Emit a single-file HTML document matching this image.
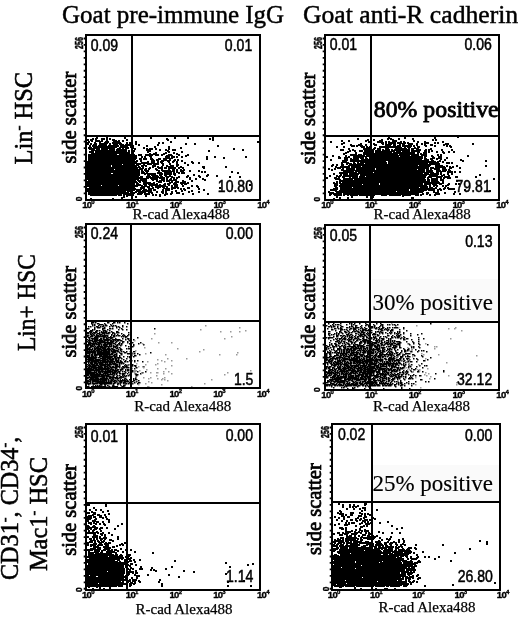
<!DOCTYPE html>
<html><head><meta charset="utf-8"><style>
html,body{margin:0;padding:0;background:#fff;width:520px;height:619px;overflow:hidden}
body{position:relative;font-family:"Liberation Serif",serif}
</style></head><body>
<svg width="520" height="619" viewBox="0 0 520 619" style="position:absolute;left:0;top:0;filter:blur(0.35px)">
<text transform="translate(62 22.8)" font-size="25" font-family='"Liberation Serif", serif' text-anchor="start" font-weight="normal" stroke="#000" stroke-width="0.45">Goat pre-immune IgG</text>
<text transform="translate(303 22.8) scale(1.027 1.0)" font-size="25" font-family='"Liberation Serif", serif' text-anchor="start" font-weight="normal" stroke="#000" stroke-width="0.45">Goat anti-R cadherin</text>
<text transform="translate(31.5 164.5) rotate(-90) scale(0.98 1.0)" font-size="25" font-family='"Liberation Serif", serif' text-anchor="start" font-weight="normal" stroke="#000" stroke-width="0.55">Lin<tspan font-size="15" dy="-9">-</tspan><tspan dy="9"> HSC</tspan></text>
<text transform="translate(34.5 351.1) rotate(-90) scale(0.936 1.0)" font-size="25" font-family='"Liberation Serif", serif' text-anchor="start" font-weight="normal" stroke="#000" stroke-width="0.55">Lin+ HSC</text>
<text transform="translate(18.3 580) rotate(-90) scale(0.967 1.0)" font-size="25" font-family='"Liberation Serif", serif' text-anchor="start" font-weight="normal" stroke="#000" stroke-width="0.55">CD31<tspan font-size="15" dy="-9">-</tspan><tspan dy="9">, CD34</tspan><tspan font-size="15" dy="-9">-</tspan><tspan dy="9">,</tspan></text>
<text transform="translate(47 571.1) rotate(-90) scale(0.977 1.0)" font-size="25" font-family='"Liberation Serif", serif' text-anchor="start" font-weight="normal" stroke="#000" stroke-width="0.55">Mac1<tspan font-size="15" dy="-9">-</tspan><tspan dy="9"> HSC</tspan></text>
<path transform="translate(1.0 1.0)" d="M96 137h0M106 137h0M124 137h0M150 137h0M174 137h0M187 137h0M212 137h0M92 138h0M95 138h0M101 138h0M103 138h0M109 138h0M166 138h0M209 138h0M87 139h0M90 139h0M101 139h0M106 139h0M112 139h0M113 139h0M126 139h0M167 139h0M212 139h0M91 140h0M95 140h0M97 140h0M98 140h0M101 140h0M115 140h0M118 140h0M122 140h0M88 141h0M99 141h0M105 141h0M107 141h0M113 141h0M114 141h0M116 141h0M131 141h0M135 141h0M170 141h0M257 141h0M87 142h0M94 142h0M99 142h0M104 142h0M105 142h0M106 142h0M112 142h0M114 142h0M117 142h0M119 142h0M126 142h0M129 142h0M158 142h0M162 142h0M87 143h0M90 143h0M95 143h0M99 143h0M101 143h0M103 143h0M104 143h0M109 143h0M116 143h0M119 143h0M120 143h0M135 143h0M185 143h0M194 143h0M93 144h0M95 144h0M101 144h0M102 144h0M104 144h0M105 144h0M109 144h0M113 144h0M114 144h0M115 144h0M116 144h0M120 144h0M122 144h0M125 144h0M126 144h0M127 144h0M129 144h0M138 144h0M157 144h0M89 145h0M92 145h0M95 145h0M98 145h0M100 145h0M102 145h0M104 145h0M105 145h0M108 145h0M109 145h0M110 145h0M112 145h0M113 145h0M117 145h0M124 145h0M125 145h0M126 145h0M132 145h0M146 145h0M217 145h0M93 146h0M94 146h0M96 146h0M98 146h0M99 146h0M100 146h0M107 146h0M108 146h0M112 146h0M113 146h0M114 146h0M115 146h0M120 146h0M121 146h0M123 146h0M124 146h0M125 146h0M130 146h0M131 146h0M132 146h0M154 146h0M168 146h0M88 147h0M90 147h0M95 147h0M97 147h0M102 147h0M103 147h0M104 147h0M106 147h0M108 147h0M109 147h0M110 147h0M111 147h0M112 147h0M113 147h0M119 147h0M122 147h0M127 147h0M132 147h0M143 147h0M180 147h0M89 148h0M91 148h0M92 148h0M93 148h0M96 148h0M98 148h0M101 148h0M103 148h0M104 148h0M106 148h0M109 148h0M110 148h0M112 148h0M113 148h0M117 148h0M118 148h0M122 148h0M125 148h0M134 148h0M146 148h0M149 148h0M151 148h0M155 148h0M168 148h0M233 148h0M91 149h0M93 149h0M98 149h0M104 149h0M110 149h0M112 149h0M113 149h0M116 149h0M118 149h0M119 149h0M120 149h0M124 149h0M125 149h0M146 149h0M147 149h0M159 149h0M165 149h0M172 149h0M174 149h0M242 149h0M91 150h0M95 150h0M96 150h0M100 150h0M102 150h0M103 150h0M104 150h0M105 150h0M107 150h0M108 150h0M109 150h0M110 150h0M111 150h0M113 150h0M116 150h0M120 150h0M122 150h0M123 150h0M125 150h0M128 150h0M133 150h0M149 150h0M167 150h0M208 150h0M89 151h0M92 151h0M95 151h0M96 151h0M97 151h0M98 151h0M99 151h0M100 151h0M103 151h0M104 151h0M106 151h0M107 151h0M112 151h0M115 151h0M117 151h0M118 151h0M123 151h0M125 151h0M147 151h0M168 151h0M181 151h0M91 152h0M92 152h0M96 152h0M98 152h0M100 152h0M101 152h0M103 152h0M104 152h0M106 152h0M107 152h0M109 152h0M110 152h0M112 152h0M113 152h0M114 152h0M115 152h0M116 152h0M117 152h0M118 152h0M119 152h0M120 152h0M121 152h0M122 152h0M123 152h0M125 152h0M126 152h0M127 152h0M128 152h0M132 152h0M155 152h0M165 152h0M173 152h0M91 153h0M94 153h0M95 153h0M97 153h0M101 153h0M102 153h0M106 153h0M107 153h0M108 153h0M109 153h0M110 153h0M111 153h0M112 153h0M113 153h0M114 153h0M115 153h0M119 153h0M121 153h0M122 153h0M123 153h0M124 153h0M127 153h0M131 153h0M149 153h0M153 153h0M163 153h0M176 153h0M88 154h0M89 154h0M90 154h0M91 154h0M92 154h0M93 154h0M94 154h0M95 154h0M96 154h0M97 154h0M98 154h0M99 154h0M100 154h0M102 154h0M103 154h0M104 154h0M105 154h0M106 154h0M108 154h0M109 154h0M111 154h0M112 154h0M119 154h0M120 154h0M121 154h0M123 154h0M125 154h0M128 154h0M130 154h0M133 154h0M138 154h0M140 154h0M145 154h0M147 154h0M148 154h0M151 154h0M155 154h0M157 154h0M161 154h0M168 154h0M170 154h0M178 154h0M187 154h0M88 155h0M95 155h0M96 155h0M97 155h0M98 155h0M99 155h0M100 155h0M101 155h0M103 155h0M105 155h0M106 155h0M107 155h0M108 155h0M109 155h0M110 155h0M111 155h0M112 155h0M113 155h0M114 155h0M116 155h0M117 155h0M118 155h0M121 155h0M122 155h0M123 155h0M124 155h0M125 155h0M126 155h0M129 155h0M131 155h0M133 155h0M135 155h0M149 155h0M166 155h0M168 155h0M171 155h0M185 155h0M89 156h0M90 156h0M92 156h0M94 156h0M96 156h0M97 156h0M98 156h0M99 156h0M100 156h0M101 156h0M103 156h0M104 156h0M105 156h0M106 156h0M107 156h0M108 156h0M109 156h0M110 156h0M113 156h0M114 156h0M115 156h0M116 156h0M117 156h0M118 156h0M119 156h0M121 156h0M123 156h0M125 156h0M127 156h0M128 156h0M133 156h0M135 156h0M141 156h0M144 156h0M150 156h0M165 156h0M168 156h0M173 156h0M176 156h0M181 156h0M206 156h0M214 156h0M245 156h0M88 157h0M89 157h0M91 157h0M92 157h0M93 157h0M94 157h0M95 157h0M96 157h0M97 157h0M98 157h0M99 157h0M100 157h0M101 157h0M102 157h0M103 157h0M104 157h0M105 157h0M106 157h0M107 157h0M108 157h0M111 157h0M112 157h0M113 157h0M114 157h0M115 157h0M117 157h0M118 157h0M119 157h0M120 157h0M121 157h0M122 157h0M123 157h0M124 157h0M125 157h0M126 157h0M129 157h0M133 157h0M135 157h0M165 157h0M167 157h0M168 157h0M171 157h0M223 157h0M90 158h0M91 158h0M92 158h0M94 158h0M96 158h0M97 158h0M98 158h0M100 158h0M101 158h0M102 158h0M103 158h0M104 158h0M105 158h0M106 158h0M107 158h0M108 158h0M109 158h0M110 158h0M112 158h0M114 158h0M115 158h0M117 158h0M119 158h0M120 158h0M122 158h0M123 158h0M124 158h0M126 158h0M128 158h0M130 158h0M131 158h0M132 158h0M134 158h0M139 158h0M140 158h0M143 158h0M145 158h0M150 158h0M151 158h0M158 158h0M159 158h0M163 158h0M164 158h0M169 158h0M206 158h0M88 159h0M89 159h0M91 159h0M96 159h0M97 159h0M98 159h0M99 159h0M100 159h0M101 159h0M102 159h0M103 159h0M104 159h0M105 159h0M106 159h0M107 159h0M108 159h0M110 159h0M111 159h0M112 159h0M113 159h0M114 159h0M115 159h0M116 159h0M117 159h0M118 159h0M120 159h0M122 159h0M123 159h0M124 159h0M126 159h0M127 159h0M130 159h0M132 159h0M140 159h0M152 159h0M156 159h0M163 159h0M164 159h0M165 159h0M169 159h0M174 159h0M177 159h0M88 160h0M89 160h0M90 160h0M91 160h0M92 160h0M93 160h0M94 160h0M95 160h0M96 160h0M98 160h0M99 160h0M101 160h0M102 160h0M103 160h0M104 160h0M105 160h0M106 160h0M107 160h0M108 160h0M109 160h0M110 160h0M112 160h0M113 160h0M115 160h0M116 160h0M119 160h0M120 160h0M121 160h0M123 160h0M124 160h0M125 160h0M128 160h0M130 160h0M133 160h0M136 160h0M140 160h0M151 160h0M153 160h0M157 160h0M161 160h0M162 160h0M167 160h0M173 160h0M181 160h0M87 161h0M91 161h0M92 161h0M94 161h0M96 161h0M97 161h0M98 161h0M101 161h0M102 161h0M103 161h0M105 161h0M106 161h0M107 161h0M109 161h0M110 161h0M111 161h0M112 161h0M115 161h0M116 161h0M117 161h0M118 161h0M120 161h0M122 161h0M123 161h0M124 161h0M125 161h0M126 161h0M127 161h0M128 161h0M129 161h0M130 161h0M134 161h0M135 161h0M147 161h0M157 161h0M160 161h0M168 161h0M172 161h0M176 161h0M191 161h0M87 162h0M88 162h0M89 162h0M90 162h0M91 162h0M93 162h0M94 162h0M96 162h0M97 162h0M99 162h0M100 162h0M101 162h0M103 162h0M108 162h0M109 162h0M110 162h0M112 162h0M114 162h0M117 162h0M118 162h0M119 162h0M121 162h0M123 162h0M124 162h0M125 162h0M126 162h0M127 162h0M129 162h0M130 162h0M133 162h0M135 162h0M141 162h0M142 162h0M143 162h0M145 162h0M147 162h0M151 162h0M153 162h0M161 162h0M184 162h0M192 162h0M198 162h0M87 163h0M88 163h0M89 163h0M90 163h0M91 163h0M92 163h0M93 163h0M94 163h0M96 163h0M99 163h0M101 163h0M102 163h0M103 163h0M104 163h0M106 163h0M107 163h0M108 163h0M109 163h0M110 163h0M111 163h0M113 163h0M114 163h0M115 163h0M118 163h0M119 163h0M120 163h0M124 163h0M125 163h0M127 163h0M129 163h0M131 163h0M136 163h0M137 163h0M139 163h0M147 163h0M149 163h0M150 163h0M154 163h0M156 163h0M157 163h0M162 163h0M169 163h0M176 163h0M88 164h0M89 164h0M91 164h0M96 164h0M97 164h0M98 164h0M99 164h0M101 164h0M102 164h0M103 164h0M104 164h0M105 164h0M107 164h0M108 164h0M109 164h0M112 164h0M114 164h0M115 164h0M116 164h0M117 164h0M118 164h0M119 164h0M120 164h0M123 164h0M125 164h0M126 164h0M129 164h0M130 164h0M131 164h0M132 164h0M133 164h0M137 164h0M143 164h0M153 164h0M154 164h0M162 164h0M177 164h0M187 164h0M87 165h0M90 165h0M91 165h0M92 165h0M93 165h0M94 165h0M95 165h0M96 165h0M97 165h0M98 165h0M100 165h0M101 165h0M102 165h0M104 165h0M105 165h0M106 165h0M107 165h0M108 165h0M109 165h0M113 165h0M115 165h0M117 165h0M118 165h0M119 165h0M120 165h0M121 165h0M123 165h0M126 165h0M127 165h0M128 165h0M129 165h0M132 165h0M134 165h0M135 165h0M141 165h0M142 165h0M145 165h0M152 165h0M154 165h0M166 165h0M170 165h0M172 165h0M176 165h0M87 166h0M88 166h0M89 166h0M91 166h0M93 166h0M95 166h0M96 166h0M97 166h0M98 166h0M99 166h0M100 166h0M101 166h0M103 166h0M105 166h0M106 166h0M107 166h0M108 166h0M109 166h0M112 166h0M114 166h0M115 166h0M116 166h0M117 166h0M119 166h0M120 166h0M121 166h0M122 166h0M123 166h0M124 166h0M127 166h0M128 166h0M129 166h0M130 166h0M131 166h0M132 166h0M133 166h0M134 166h0M138 166h0M152 166h0M157 166h0M161 166h0M168 166h0M180 166h0M202 166h0M203 166h0M225 166h0M87 167h0M89 167h0M91 167h0M92 167h0M94 167h0M95 167h0M96 167h0M98 167h0M99 167h0M100 167h0M101 167h0M102 167h0M103 167h0M104 167h0M105 167h0M106 167h0M107 167h0M108 167h0M109 167h0M110 167h0M111 167h0M113 167h0M114 167h0M115 167h0M117 167h0M119 167h0M120 167h0M121 167h0M122 167h0M125 167h0M126 167h0M127 167h0M128 167h0M129 167h0M130 167h0M131 167h0M132 167h0M133 167h0M134 167h0M135 167h0M136 167h0M139 167h0M142 167h0M149 167h0M158 167h0M159 167h0M164 167h0M165 167h0M170 167h0M171 167h0M173 167h0M174 167h0M178 167h0M182 167h0M203 167h0M88 168h0M90 168h0M91 168h0M92 168h0M94 168h0M95 168h0M96 168h0M97 168h0M98 168h0M99 168h0M102 168h0M104 168h0M105 168h0M106 168h0M107 168h0M108 168h0M110 168h0M111 168h0M112 168h0M115 168h0M116 168h0M118 168h0M119 168h0M120 168h0M121 168h0M122 168h0M123 168h0M124 168h0M126 168h0M127 168h0M128 168h0M129 168h0M130 168h0M131 168h0M133 168h0M136 168h0M139 168h0M141 168h0M145 168h0M148 168h0M155 168h0M161 168h0M168 168h0M172 168h0M87 169h0M88 169h0M89 169h0M90 169h0M91 169h0M93 169h0M94 169h0M95 169h0M96 169h0M98 169h0M99 169h0M100 169h0M101 169h0M104 169h0M105 169h0M106 169h0M107 169h0M109 169h0M110 169h0M111 169h0M115 169h0M116 169h0M117 169h0M118 169h0M121 169h0M124 169h0M125 169h0M126 169h0M127 169h0M128 169h0M130 169h0M132 169h0M135 169h0M138 169h0M144 169h0M156 169h0M161 169h0M173 169h0M176 169h0M180 169h0M183 169h0M87 170h0M88 170h0M90 170h0M91 170h0M92 170h0M93 170h0M94 170h0M95 170h0M97 170h0M99 170h0M100 170h0M103 170h0M104 170h0M105 170h0M107 170h0M108 170h0M109 170h0M110 170h0M111 170h0M112 170h0M113 170h0M114 170h0M115 170h0M117 170h0M119 170h0M120 170h0M121 170h0M123 170h0M124 170h0M125 170h0M126 170h0M127 170h0M129 170h0M133 170h0M135 170h0M136 170h0M137 170h0M141 170h0M145 170h0M147 170h0M158 170h0M162 170h0M163 170h0M164 170h0M165 170h0M166 170h0M168 170h0M169 170h0M172 170h0M180 170h0M182 170h0M189 170h0M198 170h0M87 171h0M88 171h0M89 171h0M90 171h0M91 171h0M95 171h0M97 171h0M98 171h0M99 171h0M101 171h0M105 171h0M108 171h0M110 171h0M111 171h0M112 171h0M114 171h0M115 171h0M119 171h0M120 171h0M121 171h0M122 171h0M123 171h0M125 171h0M126 171h0M127 171h0M128 171h0M129 171h0M130 171h0M131 171h0M132 171h0M134 171h0M138 171h0M142 171h0M158 171h0M170 171h0M173 171h0M176 171h0M181 171h0M182 171h0M201 171h0M204 171h0M231 171h0M87 172h0M88 172h0M89 172h0M91 172h0M92 172h0M93 172h0M95 172h0M96 172h0M97 172h0M98 172h0M99 172h0M100 172h0M101 172h0M102 172h0M104 172h0M105 172h0M106 172h0M108 172h0M109 172h0M114 172h0M115 172h0M116 172h0M117 172h0M119 172h0M120 172h0M121 172h0M122 172h0M123 172h0M126 172h0M127 172h0M128 172h0M129 172h0M131 172h0M134 172h0M135 172h0M137 172h0M138 172h0M141 172h0M143 172h0M146 172h0M157 172h0M158 172h0M160 172h0M164 172h0M166 172h0M167 172h0M169 172h0M178 172h0M181 172h0M182 172h0M183 172h0M237 172h0M87 173h0M88 173h0M90 173h0M91 173h0M92 173h0M93 173h0M94 173h0M95 173h0M98 173h0M100 173h0M101 173h0M102 173h0M104 173h0M105 173h0M106 173h0M108 173h0M109 173h0M113 173h0M115 173h0M116 173h0M117 173h0M118 173h0M120 173h0M121 173h0M123 173h0M124 173h0M125 173h0M126 173h0M129 173h0M131 173h0M132 173h0M133 173h0M134 173h0M137 173h0M138 173h0M144 173h0M147 173h0M148 173h0M149 173h0M151 173h0M153 173h0M154 173h0M161 173h0M166 173h0M167 173h0M168 173h0M170 173h0M173 173h0M174 173h0M88 174h0M90 174h0M91 174h0M92 174h0M93 174h0M94 174h0M95 174h0M96 174h0M97 174h0M98 174h0M99 174h0M102 174h0M104 174h0M105 174h0M107 174h0M108 174h0M109 174h0M110 174h0M111 174h0M112 174h0M113 174h0M114 174h0M115 174h0M116 174h0M117 174h0M118 174h0M119 174h0M121 174h0M122 174h0M123 174h0M124 174h0M125 174h0M126 174h0M127 174h0M128 174h0M132 174h0M133 174h0M134 174h0M135 174h0M136 174h0M137 174h0M138 174h0M147 174h0M148 174h0M151 174h0M154 174h0M159 174h0M160 174h0M164 174h0M165 174h0M174 174h0M193 174h0M207 174h0M87 175h0M88 175h0M90 175h0M91 175h0M92 175h0M93 175h0M97 175h0M98 175h0M99 175h0M101 175h0M102 175h0M103 175h0M104 175h0M105 175h0M108 175h0M109 175h0M110 175h0M111 175h0M112 175h0M114 175h0M115 175h0M118 175h0M119 175h0M121 175h0M122 175h0M123 175h0M125 175h0M126 175h0M127 175h0M128 175h0M129 175h0M130 175h0M131 175h0M132 175h0M133 175h0M135 175h0M137 175h0M147 175h0M152 175h0M154 175h0M156 175h0M160 175h0M165 175h0M169 175h0M187 175h0M198 175h0M206 175h0M216 175h0M87 176h0M88 176h0M89 176h0M90 176h0M91 176h0M93 176h0M94 176h0M95 176h0M97 176h0M99 176h0M100 176h0M104 176h0M105 176h0M106 176h0M107 176h0M110 176h0M111 176h0M113 176h0M114 176h0M115 176h0M117 176h0M118 176h0M119 176h0M120 176h0M121 176h0M124 176h0M125 176h0M126 176h0M127 176h0M128 176h0M129 176h0M130 176h0M132 176h0M134 176h0M136 176h0M137 176h0M140 176h0M141 176h0M146 176h0M149 176h0M155 176h0M157 176h0M161 176h0M166 176h0M167 176h0M171 176h0M178 176h0M186 176h0M199 176h0M229 176h0M239 176h0M87 177h0M88 177h0M90 177h0M91 177h0M92 177h0M94 177h0M96 177h0M97 177h0M98 177h0M99 177h0M100 177h0M102 177h0M104 177h0M105 177h0M107 177h0M108 177h0M109 177h0M111 177h0M112 177h0M113 177h0M116 177h0M118 177h0M120 177h0M122 177h0M123 177h0M124 177h0M125 177h0M126 177h0M127 177h0M128 177h0M129 177h0M130 177h0M131 177h0M132 177h0M133 177h0M137 177h0M138 177h0M139 177h0M140 177h0M147 177h0M150 177h0M152 177h0M153 177h0M159 177h0M163 177h0M166 177h0M173 177h0M176 177h0M189 177h0M87 178h0M89 178h0M91 178h0M92 178h0M93 178h0M94 178h0M95 178h0M96 178h0M97 178h0M99 178h0M100 178h0M101 178h0M102 178h0M103 178h0M104 178h0M106 178h0M107 178h0M108 178h0M110 178h0M111 178h0M112 178h0M113 178h0M114 178h0M115 178h0M116 178h0M117 178h0M119 178h0M120 178h0M121 178h0M122 178h0M126 178h0M127 178h0M128 178h0M129 178h0M130 178h0M131 178h0M132 178h0M133 178h0M134 178h0M135 178h0M140 178h0M142 178h0M144 178h0M145 178h0M151 178h0M153 178h0M154 178h0M156 178h0M161 178h0M162 178h0M170 178h0M189 178h0M195 178h0M202 178h0M88 179h0M89 179h0M90 179h0M92 179h0M94 179h0M96 179h0M97 179h0M98 179h0M99 179h0M100 179h0M102 179h0M103 179h0M105 179h0M106 179h0M107 179h0M109 179h0M110 179h0M111 179h0M113 179h0M114 179h0M116 179h0M117 179h0M118 179h0M119 179h0M120 179h0M121 179h0M122 179h0M123 179h0M124 179h0M125 179h0M126 179h0M127 179h0M128 179h0M134 179h0M137 179h0M140 179h0M145 179h0M152 179h0M162 179h0M163 179h0M166 179h0M169 179h0M173 179h0M175 179h0M204 179h0M88 180h0M89 180h0M91 180h0M92 180h0M93 180h0M94 180h0M97 180h0M100 180h0M101 180h0M102 180h0M104 180h0M107 180h0M109 180h0M111 180h0M112 180h0M113 180h0M114 180h0M115 180h0M116 180h0M117 180h0M118 180h0M119 180h0M120 180h0M121 180h0M122 180h0M123 180h0M124 180h0M126 180h0M128 180h0M129 180h0M130 180h0M131 180h0M132 180h0M134 180h0M138 180h0M142 180h0M144 180h0M145 180h0M156 180h0M159 180h0M160 180h0M163 180h0M166 180h0M167 180h0M168 180h0M171 180h0M175 180h0M182 180h0M191 180h0M87 181h0M88 181h0M89 181h0M90 181h0M91 181h0M93 181h0M94 181h0M96 181h0M97 181h0M98 181h0M100 181h0M101 181h0M102 181h0M103 181h0M105 181h0M106 181h0M109 181h0M110 181h0M111 181h0M113 181h0M114 181h0M116 181h0M117 181h0M118 181h0M119 181h0M120 181h0M121 181h0M122 181h0M123 181h0M125 181h0M126 181h0M127 181h0M128 181h0M129 181h0M130 181h0M131 181h0M132 181h0M134 181h0M135 181h0M139 181h0M143 181h0M144 181h0M158 181h0M159 181h0M160 181h0M171 181h0M177 181h0M184 181h0M88 182h0M91 182h0M92 182h0M93 182h0M94 182h0M95 182h0M96 182h0M97 182h0M98 182h0M99 182h0M100 182h0M101 182h0M104 182h0M105 182h0M106 182h0M107 182h0M108 182h0M109 182h0M112 182h0M114 182h0M116 182h0M119 182h0M120 182h0M121 182h0M122 182h0M123 182h0M124 182h0M125 182h0M126 182h0M127 182h0M128 182h0M133 182h0M136 182h0M145 182h0M147 182h0M149 182h0M153 182h0M169 182h0M174 182h0M175 182h0M180 182h0M182 182h0M187 182h0M87 183h0M88 183h0M89 183h0M90 183h0M91 183h0M94 183h0M95 183h0M97 183h0M98 183h0M99 183h0M100 183h0M101 183h0M102 183h0M103 183h0M105 183h0M106 183h0M107 183h0M108 183h0M109 183h0M111 183h0M113 183h0M114 183h0M115 183h0M117 183h0M118 183h0M119 183h0M120 183h0M121 183h0M123 183h0M124 183h0M128 183h0M129 183h0M130 183h0M131 183h0M136 183h0M137 183h0M143 183h0M148 183h0M151 183h0M156 183h0M164 183h0M167 183h0M173 183h0M174 183h0M181 183h0M184 183h0M185 183h0M88 184h0M90 184h0M91 184h0M92 184h0M97 184h0M99 184h0M102 184h0M104 184h0M105 184h0M106 184h0M108 184h0M110 184h0M113 184h0M114 184h0M115 184h0M116 184h0M119 184h0M121 184h0M122 184h0M123 184h0M124 184h0M125 184h0M126 184h0M127 184h0M129 184h0M130 184h0M131 184h0M132 184h0M133 184h0M138 184h0M139 184h0M144 184h0M145 184h0M149 184h0M152 184h0M154 184h0M155 184h0M156 184h0M159 184h0M163 184h0M168 184h0M174 184h0M176 184h0M249 184h0M87 185h0M88 185h0M89 185h0M90 185h0M91 185h0M92 185h0M93 185h0M94 185h0M95 185h0M99 185h0M103 185h0M104 185h0M108 185h0M109 185h0M111 185h0M112 185h0M113 185h0M114 185h0M116 185h0M120 185h0M122 185h0M124 185h0M125 185h0M126 185h0M127 185h0M128 185h0M130 185h0M131 185h0M132 185h0M135 185h0M136 185h0M141 185h0M144 185h0M145 185h0M151 185h0M156 185h0M158 185h0M159 185h0M161 185h0M162 185h0M164 185h0M171 185h0M174 185h0M182 185h0M191 185h0M196 185h0M90 186h0M92 186h0M93 186h0M94 186h0M95 186h0M96 186h0M97 186h0M98 186h0M101 186h0M103 186h0M104 186h0M105 186h0M106 186h0M108 186h0M110 186h0M111 186h0M112 186h0M113 186h0M115 186h0M116 186h0M117 186h0M119 186h0M121 186h0M122 186h0M124 186h0M128 186h0M130 186h0M131 186h0M133 186h0M143 186h0M147 186h0M148 186h0M155 186h0M157 186h0M159 186h0M162 186h0M163 186h0M166 186h0M171 186h0M176 186h0M197 186h0M89 187h0M90 187h0M91 187h0M92 187h0M93 187h0M94 187h0M95 187h0M96 187h0M97 187h0M98 187h0M99 187h0M100 187h0M101 187h0M102 187h0M103 187h0M104 187h0M105 187h0M106 187h0M107 187h0M108 187h0M110 187h0M111 187h0M112 187h0M113 187h0M114 187h0M115 187h0M116 187h0M117 187h0M119 187h0M120 187h0M121 187h0M122 187h0M123 187h0M124 187h0M125 187h0M126 187h0M127 187h0M128 187h0M129 187h0M130 187h0M131 187h0M132 187h0M133 187h0M140 187h0M141 187h0M152 187h0M157 187h0M163 187h0M166 187h0M173 187h0M174 187h0M177 187h0M187 187h0M188 187h0M219 187h0M87 188h0M88 188h0M91 188h0M92 188h0M93 188h0M96 188h0M99 188h0M101 188h0M102 188h0M103 188h0M105 188h0M106 188h0M107 188h0M108 188h0M109 188h0M110 188h0M111 188h0M112 188h0M113 188h0M114 188h0M117 188h0M118 188h0M119 188h0M120 188h0M121 188h0M124 188h0M125 188h0M127 188h0M129 188h0M131 188h0M134 188h0M140 188h0M143 188h0M148 188h0M150 188h0M165 188h0M167 188h0M168 188h0M171 188h0M180 188h0M183 188h0M198 188h0M88 189h0M89 189h0M90 189h0M92 189h0M93 189h0M94 189h0M95 189h0M96 189h0M97 189h0M98 189h0M99 189h0M100 189h0M101 189h0M102 189h0M103 189h0M106 189h0M107 189h0M108 189h0M109 189h0M110 189h0M111 189h0M112 189h0M114 189h0M115 189h0M116 189h0M117 189h0M118 189h0M119 189h0M120 189h0M121 189h0M122 189h0M123 189h0M124 189h0M126 189h0M128 189h0M130 189h0M132 189h0M133 189h0M136 189h0M138 189h0M139 189h0M145 189h0M153 189h0M154 189h0M162 189h0M166 189h0M168 189h0M184 189h0M203 189h0M87 190h0M88 190h0M89 190h0M91 190h0M92 190h0M94 190h0M95 190h0M96 190h0M97 190h0M98 190h0M99 190h0M100 190h0M101 190h0M102 190h0M105 190h0M107 190h0M108 190h0M109 190h0M110 190h0M111 190h0M112 190h0M114 190h0M115 190h0M116 190h0M118 190h0M120 190h0M121 190h0M122 190h0M123 190h0M127 190h0M128 190h0M129 190h0M130 190h0M137 190h0M142 190h0M144 190h0M146 190h0M148 190h0M150 190h0M162 190h0M165 190h0M175 190h0M181 190h0M191 190h0M88 191h0M89 191h0M90 191h0M91 191h0M94 191h0M95 191h0M96 191h0M97 191h0M98 191h0M99 191h0M100 191h0M101 191h0M102 191h0M103 191h0M105 191h0M108 191h0M110 191h0M111 191h0M112 191h0M114 191h0M118 191h0M120 191h0M121 191h0M122 191h0M123 191h0M124 191h0M127 191h0M130 191h0M131 191h0M135 191h0M138 191h0M140 191h0M143 191h0M149 191h0M156 191h0M161 191h0M162 191h0M171 191h0M188 191h0M198 191h0M88 192h0M89 192h0M91 192h0M93 192h0M94 192h0M95 192h0M96 192h0M97 192h0M98 192h0M99 192h0M100 192h0M103 192h0M104 192h0M105 192h0M106 192h0M107 192h0M108 192h0M109 192h0M111 192h0M113 192h0M115 192h0M116 192h0M117 192h0M118 192h0M119 192h0M121 192h0M122 192h0M123 192h0M124 192h0M125 192h0M130 192h0M131 192h0M133 192h0M139 192h0M141 192h0M144 192h0M148 192h0M151 192h0M162 192h0M165 192h0M171 192h0M176 192h0M177 192h0M178 192h0M88 193h0M89 193h0M90 193h0M91 193h0M92 193h0M94 193h0M95 193h0M96 193h0M97 193h0M98 193h0M99 193h0M100 193h0M101 193h0M102 193h0M104 193h0M105 193h0M106 193h0M107 193h0M108 193h0M109 193h0M110 193h0M111 193h0M112 193h0M114 193h0M115 193h0M116 193h0M117 193h0M118 193h0M120 193h0M124 193h0M125 193h0M127 193h0M128 193h0M129 193h0M131 193h0M137 193h0M138 193h0M140 193h0M144 193h0M146 193h0M148 193h0M166 193h0M170 193h0M182 193h0M192 193h0M207 193h0M90 194h0M91 194h0M93 194h0M94 194h0M95 194h0M96 194h0M97 194h0M99 194h0M100 194h0M101 194h0M102 194h0M103 194h0M104 194h0M105 194h0M106 194h0M107 194h0M108 194h0M109 194h0M110 194h0M112 194h0M113 194h0M114 194h0M115 194h0M118 194h0M120 194h0M123 194h0M128 194h0M129 194h0M132 194h0M152 194h0M155 194h0M159 194h0M164 194h0M126 195h0M145 195h0M159 195h0M123 196h0M135 196h0M121 197h0M90 198h0M112 198h0" stroke="#000" stroke-width="2" stroke-linecap="square"/>
<path transform="translate(1.0 1.0)" d="M457 136h0M388 137h0M404 137h0M434 137h0M357 138h0M387 138h0M390 138h0M398 138h0M412 138h0M367 139h0M373 139h0M381 139h0M392 139h0M432 139h0M435 139h0M341 140h0M348 140h0M365 140h0M379 140h0M380 140h0M392 140h0M394 140h0M395 140h0M413 140h0M330 141h0M368 141h0M377 141h0M379 141h0M381 141h0M385 141h0M388 141h0M392 141h0M400 141h0M403 141h0M417 141h0M424 141h0M442 141h0M343 142h0M381 142h0M382 142h0M390 142h0M392 142h0M394 142h0M397 142h0M398 142h0M400 142h0M404 142h0M407 142h0M424 142h0M425 142h0M427 142h0M434 142h0M437 142h0M341 143h0M360 143h0M373 143h0M382 143h0M385 143h0M388 143h0M389 143h0M390 143h0M393 143h0M394 143h0M399 143h0M402 143h0M403 143h0M408 143h0M410 143h0M411 143h0M416 143h0M421 143h0M445 143h0M447 143h0M472 143h0M350 144h0M358 144h0M365 144h0M370 144h0M374 144h0M375 144h0M386 144h0M388 144h0M389 144h0M393 144h0M409 144h0M410 144h0M416 144h0M424 144h0M430 144h0M431 144h0M443 144h0M351 145h0M353 145h0M356 145h0M360 145h0M361 145h0M385 145h0M393 145h0M394 145h0M397 145h0M398 145h0M399 145h0M402 145h0M403 145h0M405 145h0M406 145h0M408 145h0M410 145h0M413 145h0M425 145h0M434 145h0M446 145h0M449 145h0M336 146h0M343 146h0M361 146h0M363 146h0M366 146h0M369 146h0M379 146h0M381 146h0M382 146h0M384 146h0M387 146h0M388 146h0M389 146h0M391 146h0M393 146h0M395 146h0M396 146h0M399 146h0M407 146h0M409 146h0M417 146h0M418 146h0M450 146h0M366 147h0M368 147h0M370 147h0M374 147h0M379 147h0M386 147h0M387 147h0M395 147h0M397 147h0M399 147h0M400 147h0M404 147h0M408 147h0M414 147h0M348 148h0M363 148h0M364 148h0M373 148h0M377 148h0M379 148h0M385 148h0M386 148h0M387 148h0M397 148h0M402 148h0M404 148h0M405 148h0M411 148h0M412 148h0M416 148h0M417 148h0M430 148h0M340 149h0M342 149h0M352 149h0M366 149h0M367 149h0M368 149h0M370 149h0M372 149h0M377 149h0M382 149h0M386 149h0M388 149h0M391 149h0M394 149h0M395 149h0M397 149h0M399 149h0M400 149h0M401 149h0M402 149h0M403 149h0M404 149h0M407 149h0M408 149h0M411 149h0M412 149h0M417 149h0M419 149h0M425 149h0M428 149h0M441 149h0M451 149h0M349 150h0M354 150h0M359 150h0M361 150h0M364 150h0M368 150h0M372 150h0M375 150h0M378 150h0M379 150h0M384 150h0M386 150h0M387 150h0M388 150h0M391 150h0M393 150h0M396 150h0M397 150h0M402 150h0M404 150h0M405 150h0M407 150h0M412 150h0M414 150h0M415 150h0M417 150h0M418 150h0M424 150h0M431 150h0M347 151h0M364 151h0M366 151h0M369 151h0M370 151h0M375 151h0M377 151h0M378 151h0M380 151h0M381 151h0M383 151h0M384 151h0M387 151h0M389 151h0M397 151h0M399 151h0M402 151h0M405 151h0M406 151h0M408 151h0M411 151h0M417 151h0M418 151h0M424 151h0M425 151h0M428 151h0M436 151h0M442 151h0M448 151h0M453 151h0M345 152h0M355 152h0M363 152h0M367 152h0M372 152h0M375 152h0M376 152h0M377 152h0M379 152h0M381 152h0M383 152h0M385 152h0M386 152h0M388 152h0M389 152h0M390 152h0M393 152h0M395 152h0M396 152h0M398 152h0M399 152h0M401 152h0M402 152h0M404 152h0M405 152h0M407 152h0M408 152h0M410 152h0M411 152h0M413 152h0M423 152h0M424 152h0M425 152h0M443 152h0M343 153h0M355 153h0M363 153h0M365 153h0M367 153h0M368 153h0M373 153h0M376 153h0M377 153h0M378 153h0M380 153h0M381 153h0M383 153h0M384 153h0M385 153h0M386 153h0M387 153h0M388 153h0M389 153h0M391 153h0M392 153h0M393 153h0M396 153h0M399 153h0M402 153h0M403 153h0M409 153h0M410 153h0M411 153h0M417 153h0M420 153h0M423 153h0M350 154h0M351 154h0M353 154h0M355 154h0M358 154h0M360 154h0M366 154h0M370 154h0M371 154h0M372 154h0M373 154h0M375 154h0M376 154h0M377 154h0M378 154h0M380 154h0M382 154h0M383 154h0M385 154h0M386 154h0M387 154h0M388 154h0M391 154h0M392 154h0M394 154h0M399 154h0M400 154h0M401 154h0M403 154h0M405 154h0M407 154h0M408 154h0M413 154h0M414 154h0M415 154h0M416 154h0M421 154h0M422 154h0M424 154h0M425 154h0M437 154h0M440 154h0M332 155h0M345 155h0M356 155h0M361 155h0M362 155h0M363 155h0M366 155h0M368 155h0M371 155h0M372 155h0M373 155h0M374 155h0M375 155h0M376 155h0M377 155h0M378 155h0M380 155h0M382 155h0M383 155h0M385 155h0M388 155h0M389 155h0M390 155h0M391 155h0M394 155h0M396 155h0M397 155h0M400 155h0M401 155h0M404 155h0M406 155h0M408 155h0M411 155h0M413 155h0M414 155h0M416 155h0M417 155h0M424 155h0M425 155h0M431 155h0M467 155h0M326 156h0M338 156h0M348 156h0M353 156h0M354 156h0M356 156h0M358 156h0M359 156h0M361 156h0M362 156h0M365 156h0M369 156h0M370 156h0M371 156h0M372 156h0M373 156h0M374 156h0M375 156h0M377 156h0M378 156h0M379 156h0M380 156h0M381 156h0M382 156h0M383 156h0M385 156h0M386 156h0M388 156h0M390 156h0M391 156h0M393 156h0M394 156h0M395 156h0M396 156h0M397 156h0M400 156h0M401 156h0M403 156h0M406 156h0M407 156h0M408 156h0M409 156h0M410 156h0M411 156h0M412 156h0M414 156h0M416 156h0M417 156h0M418 156h0M420 156h0M421 156h0M424 156h0M432 156h0M438 156h0M440 156h0M338 157h0M339 157h0M344 157h0M346 157h0M354 157h0M355 157h0M356 157h0M360 157h0M362 157h0M370 157h0M371 157h0M372 157h0M376 157h0M379 157h0M381 157h0M382 157h0M383 157h0M384 157h0M385 157h0M386 157h0M387 157h0M388 157h0M389 157h0M390 157h0M392 157h0M393 157h0M394 157h0M395 157h0M396 157h0M397 157h0M398 157h0M399 157h0M400 157h0M402 157h0M403 157h0M404 157h0M405 157h0M406 157h0M407 157h0M408 157h0M411 157h0M414 157h0M416 157h0M417 157h0M419 157h0M420 157h0M421 157h0M432 157h0M433 157h0M438 157h0M446 157h0M344 158h0M345 158h0M350 158h0M353 158h0M354 158h0M355 158h0M357 158h0M362 158h0M365 158h0M366 158h0M369 158h0M370 158h0M374 158h0M375 158h0M377 158h0M378 158h0M380 158h0M381 158h0M382 158h0M383 158h0M384 158h0M385 158h0M386 158h0M387 158h0M388 158h0M389 158h0M390 158h0M391 158h0M393 158h0M394 158h0M396 158h0M397 158h0M398 158h0M399 158h0M400 158h0M401 158h0M402 158h0M403 158h0M404 158h0M405 158h0M406 158h0M408 158h0M410 158h0M413 158h0M415 158h0M419 158h0M420 158h0M424 158h0M425 158h0M430 158h0M431 158h0M436 158h0M440 158h0M330 159h0M344 159h0M345 159h0M346 159h0M351 159h0M354 159h0M356 159h0M361 159h0M363 159h0M364 159h0M367 159h0M369 159h0M372 159h0M374 159h0M375 159h0M376 159h0M377 159h0M378 159h0M379 159h0M380 159h0M381 159h0M382 159h0M383 159h0M384 159h0M385 159h0M386 159h0M387 159h0M388 159h0M389 159h0M390 159h0M391 159h0M392 159h0M393 159h0M395 159h0M398 159h0M399 159h0M400 159h0M402 159h0M403 159h0M404 159h0M406 159h0M407 159h0M409 159h0M410 159h0M412 159h0M414 159h0M415 159h0M417 159h0M418 159h0M419 159h0M424 159h0M426 159h0M427 159h0M431 159h0M444 159h0M460 159h0M342 160h0M343 160h0M350 160h0M351 160h0M352 160h0M354 160h0M356 160h0M357 160h0M359 160h0M360 160h0M362 160h0M363 160h0M364 160h0M365 160h0M367 160h0M370 160h0M371 160h0M373 160h0M375 160h0M376 160h0M377 160h0M378 160h0M379 160h0M380 160h0M381 160h0M384 160h0M388 160h0M389 160h0M390 160h0M391 160h0M392 160h0M393 160h0M394 160h0M395 160h0M396 160h0M398 160h0M401 160h0M402 160h0M403 160h0M404 160h0M405 160h0M408 160h0M409 160h0M412 160h0M413 160h0M414 160h0M415 160h0M416 160h0M417 160h0M418 160h0M420 160h0M421 160h0M422 160h0M423 160h0M424 160h0M425 160h0M427 160h0M432 160h0M439 160h0M462 160h0M485 160h0M343 161h0M345 161h0M362 161h0M363 161h0M364 161h0M365 161h0M366 161h0M368 161h0M369 161h0M370 161h0M371 161h0M373 161h0M374 161h0M375 161h0M376 161h0M377 161h0M379 161h0M381 161h0M383 161h0M384 161h0M389 161h0M390 161h0M391 161h0M394 161h0M395 161h0M396 161h0M397 161h0M398 161h0M399 161h0M400 161h0M401 161h0M402 161h0M403 161h0M405 161h0M406 161h0M407 161h0M409 161h0M410 161h0M413 161h0M420 161h0M422 161h0M427 161h0M429 161h0M430 161h0M434 161h0M437 161h0M442 161h0M341 162h0M347 162h0M353 162h0M357 162h0M360 162h0M362 162h0M365 162h0M366 162h0M368 162h0M369 162h0M370 162h0M372 162h0M373 162h0M375 162h0M376 162h0M377 162h0M378 162h0M379 162h0M380 162h0M383 162h0M385 162h0M388 162h0M389 162h0M390 162h0M392 162h0M393 162h0M394 162h0M395 162h0M396 162h0M397 162h0M398 162h0M399 162h0M400 162h0M401 162h0M402 162h0M403 162h0M404 162h0M406 162h0M407 162h0M408 162h0M409 162h0M410 162h0M412 162h0M413 162h0M415 162h0M416 162h0M418 162h0M419 162h0M422 162h0M424 162h0M425 162h0M429 162h0M431 162h0M432 162h0M433 162h0M435 162h0M446 162h0M448 162h0M451 162h0M346 163h0M349 163h0M350 163h0M354 163h0M357 163h0M358 163h0M361 163h0M365 163h0M366 163h0M367 163h0M369 163h0M371 163h0M372 163h0M373 163h0M374 163h0M379 163h0M380 163h0M381 163h0M382 163h0M383 163h0M384 163h0M385 163h0M392 163h0M393 163h0M395 163h0M396 163h0M397 163h0M398 163h0M400 163h0M401 163h0M402 163h0M403 163h0M404 163h0M405 163h0M406 163h0M407 163h0M408 163h0M410 163h0M411 163h0M412 163h0M414 163h0M415 163h0M416 163h0M418 163h0M419 163h0M421 163h0M423 163h0M426 163h0M431 163h0M433 163h0M435 163h0M437 163h0M438 163h0M332 164h0M336 164h0M341 164h0M342 164h0M349 164h0M351 164h0M353 164h0M355 164h0M356 164h0M358 164h0M360 164h0M361 164h0M363 164h0M364 164h0M365 164h0M366 164h0M368 164h0M369 164h0M372 164h0M373 164h0M374 164h0M376 164h0M378 164h0M379 164h0M381 164h0M382 164h0M383 164h0M384 164h0M385 164h0M387 164h0M388 164h0M389 164h0M390 164h0M391 164h0M392 164h0M394 164h0M396 164h0M397 164h0M398 164h0M399 164h0M400 164h0M401 164h0M402 164h0M403 164h0M405 164h0M406 164h0M410 164h0M411 164h0M412 164h0M413 164h0M415 164h0M420 164h0M422 164h0M425 164h0M428 164h0M429 164h0M436 164h0M438 164h0M331 165h0M348 165h0M353 165h0M354 165h0M356 165h0M357 165h0M359 165h0M364 165h0M366 165h0M367 165h0M368 165h0M369 165h0M370 165h0M371 165h0M372 165h0M373 165h0M375 165h0M377 165h0M379 165h0M381 165h0M382 165h0M383 165h0M384 165h0M385 165h0M386 165h0M387 165h0M388 165h0M389 165h0M390 165h0M391 165h0M392 165h0M393 165h0M394 165h0M395 165h0M396 165h0M397 165h0M398 165h0M399 165h0M400 165h0M402 165h0M403 165h0M405 165h0M406 165h0M407 165h0M408 165h0M410 165h0M411 165h0M412 165h0M413 165h0M414 165h0M415 165h0M416 165h0M419 165h0M420 165h0M423 165h0M424 165h0M425 165h0M426 165h0M427 165h0M428 165h0M435 165h0M438 165h0M440 165h0M441 165h0M446 165h0M456 165h0M485 165h0M335 166h0M340 166h0M341 166h0M343 166h0M345 166h0M346 166h0M351 166h0M354 166h0M355 166h0M356 166h0M358 166h0M362 166h0M363 166h0M364 166h0M365 166h0M368 166h0M369 166h0M371 166h0M373 166h0M374 166h0M375 166h0M376 166h0M379 166h0M380 166h0M381 166h0M382 166h0M383 166h0M386 166h0M387 166h0M389 166h0M391 166h0M392 166h0M393 166h0M394 166h0M395 166h0M396 166h0M397 166h0M400 166h0M401 166h0M402 166h0M403 166h0M404 166h0M406 166h0M409 166h0M410 166h0M412 166h0M413 166h0M414 166h0M415 166h0M416 166h0M417 166h0M420 166h0M421 166h0M422 166h0M426 166h0M427 166h0M435 166h0M436 166h0M439 166h0M441 166h0M443 166h0M449 166h0M452 166h0M337 167h0M338 167h0M339 167h0M346 167h0M348 167h0M352 167h0M353 167h0M357 167h0M358 167h0M359 167h0M360 167h0M362 167h0M364 167h0M365 167h0M366 167h0M367 167h0M369 167h0M370 167h0M371 167h0M372 167h0M373 167h0M376 167h0M378 167h0M379 167h0M381 167h0M383 167h0M384 167h0M385 167h0M386 167h0M387 167h0M389 167h0M390 167h0M391 167h0M392 167h0M393 167h0M394 167h0M395 167h0M396 167h0M398 167h0M399 167h0M401 167h0M402 167h0M403 167h0M404 167h0M405 167h0M406 167h0M407 167h0M408 167h0M409 167h0M410 167h0M412 167h0M414 167h0M415 167h0M416 167h0M418 167h0M419 167h0M421 167h0M422 167h0M423 167h0M424 167h0M426 167h0M430 167h0M432 167h0M437 167h0M442 167h0M443 167h0M444 167h0M449 167h0M450 167h0M459 167h0M328 168h0M334 168h0M342 168h0M347 168h0M348 168h0M350 168h0M352 168h0M356 168h0M357 168h0M358 168h0M359 168h0M362 168h0M363 168h0M364 168h0M365 168h0M366 168h0M368 168h0M369 168h0M372 168h0M373 168h0M376 168h0M377 168h0M378 168h0M379 168h0M380 168h0M383 168h0M385 168h0M386 168h0M387 168h0M388 168h0M389 168h0M390 168h0M391 168h0M392 168h0M395 168h0M396 168h0M397 168h0M398 168h0M401 168h0M402 168h0M403 168h0M404 168h0M406 168h0M407 168h0M408 168h0M409 168h0M411 168h0M413 168h0M414 168h0M415 168h0M418 168h0M420 168h0M421 168h0M427 168h0M430 168h0M434 168h0M436 168h0M437 168h0M438 168h0M331 169h0M341 169h0M342 169h0M346 169h0M348 169h0M349 169h0M351 169h0M352 169h0M353 169h0M357 169h0M358 169h0M359 169h0M360 169h0M362 169h0M363 169h0M365 169h0M366 169h0M368 169h0M369 169h0M371 169h0M373 169h0M377 169h0M378 169h0M379 169h0M380 169h0M381 169h0M382 169h0M383 169h0M384 169h0M385 169h0M387 169h0M388 169h0M389 169h0M391 169h0M393 169h0M394 169h0M395 169h0M396 169h0M398 169h0M399 169h0M402 169h0M403 169h0M405 169h0M406 169h0M407 169h0M408 169h0M409 169h0M410 169h0M413 169h0M414 169h0M415 169h0M419 169h0M423 169h0M426 169h0M427 169h0M442 169h0M443 169h0M445 169h0M448 169h0M343 170h0M345 170h0M346 170h0M348 170h0M350 170h0M352 170h0M355 170h0M356 170h0M358 170h0M362 170h0M363 170h0M364 170h0M365 170h0M366 170h0M367 170h0M368 170h0M369 170h0M371 170h0M372 170h0M373 170h0M374 170h0M375 170h0M377 170h0M378 170h0M380 170h0M381 170h0M382 170h0M383 170h0M386 170h0M389 170h0M390 170h0M391 170h0M392 170h0M393 170h0M394 170h0M395 170h0M396 170h0M397 170h0M398 170h0M399 170h0M400 170h0M402 170h0M403 170h0M404 170h0M406 170h0M407 170h0M408 170h0M409 170h0M410 170h0M411 170h0M412 170h0M413 170h0M416 170h0M417 170h0M420 170h0M421 170h0M426 170h0M428 170h0M430 170h0M431 170h0M436 170h0M437 170h0M439 170h0M442 170h0M443 170h0M444 170h0M449 170h0M344 171h0M347 171h0M348 171h0M349 171h0M351 171h0M352 171h0M355 171h0M358 171h0M359 171h0M360 171h0M361 171h0M362 171h0M363 171h0M364 171h0M365 171h0M367 171h0M368 171h0M369 171h0M370 171h0M371 171h0M374 171h0M375 171h0M376 171h0M377 171h0M379 171h0M381 171h0M383 171h0M384 171h0M385 171h0M386 171h0M388 171h0M389 171h0M390 171h0M391 171h0M392 171h0M393 171h0M394 171h0M396 171h0M397 171h0M398 171h0M400 171h0M401 171h0M402 171h0M404 171h0M406 171h0M407 171h0M409 171h0M410 171h0M412 171h0M413 171h0M415 171h0M416 171h0M419 171h0M421 171h0M423 171h0M426 171h0M428 171h0M429 171h0M430 171h0M436 171h0M437 171h0M440 171h0M447 171h0M449 171h0M451 171h0M454 171h0M459 171h0M339 172h0M340 172h0M342 172h0M344 172h0M346 172h0M351 172h0M352 172h0M353 172h0M354 172h0M355 172h0M358 172h0M359 172h0M360 172h0M361 172h0M362 172h0M363 172h0M364 172h0M366 172h0M368 172h0M369 172h0M370 172h0M371 172h0M374 172h0M375 172h0M376 172h0M379 172h0M380 172h0M382 172h0M383 172h0M384 172h0M386 172h0M387 172h0M388 172h0M389 172h0M391 172h0M392 172h0M393 172h0M394 172h0M396 172h0M397 172h0M399 172h0M400 172h0M401 172h0M402 172h0M404 172h0M405 172h0M406 172h0M407 172h0M408 172h0M409 172h0M410 172h0M412 172h0M413 172h0M417 172h0M418 172h0M419 172h0M420 172h0M421 172h0M425 172h0M432 172h0M437 172h0M440 172h0M333 173h0M345 173h0M349 173h0M350 173h0M351 173h0M353 173h0M354 173h0M355 173h0M357 173h0M360 173h0M362 173h0M363 173h0M365 173h0M366 173h0M367 173h0M368 173h0M369 173h0M371 173h0M372 173h0M374 173h0M375 173h0M376 173h0M377 173h0M379 173h0M380 173h0M384 173h0M385 173h0M387 173h0M391 173h0M393 173h0M396 173h0M397 173h0M399 173h0M400 173h0M401 173h0M402 173h0M404 173h0M405 173h0M408 173h0M409 173h0M410 173h0M411 173h0M412 173h0M414 173h0M416 173h0M418 173h0M421 173h0M424 173h0M425 173h0M426 173h0M427 173h0M430 173h0M432 173h0M433 173h0M434 173h0M435 173h0M436 173h0M437 173h0M440 173h0M447 173h0M451 173h0M340 174h0M343 174h0M346 174h0M349 174h0M351 174h0M354 174h0M356 174h0M360 174h0M361 174h0M362 174h0M364 174h0M365 174h0M366 174h0M369 174h0M370 174h0M371 174h0M372 174h0M373 174h0M374 174h0M375 174h0M376 174h0M377 174h0M378 174h0M379 174h0M380 174h0M382 174h0M383 174h0M384 174h0M385 174h0M386 174h0M389 174h0M390 174h0M391 174h0M392 174h0M393 174h0M394 174h0M395 174h0M396 174h0M397 174h0M398 174h0M400 174h0M401 174h0M402 174h0M403 174h0M404 174h0M405 174h0M406 174h0M407 174h0M408 174h0M409 174h0M411 174h0M412 174h0M414 174h0M415 174h0M416 174h0M419 174h0M420 174h0M422 174h0M423 174h0M425 174h0M429 174h0M432 174h0M443 174h0M479 174h0M329 175h0M336 175h0M339 175h0M344 175h0M345 175h0M347 175h0M349 175h0M350 175h0M351 175h0M352 175h0M354 175h0M355 175h0M356 175h0M361 175h0M363 175h0M366 175h0M367 175h0M370 175h0M371 175h0M372 175h0M373 175h0M374 175h0M375 175h0M377 175h0M378 175h0M379 175h0M380 175h0M381 175h0M382 175h0M383 175h0M384 175h0M385 175h0M386 175h0M387 175h0M388 175h0M389 175h0M391 175h0M392 175h0M393 175h0M395 175h0M397 175h0M398 175h0M400 175h0M401 175h0M402 175h0M403 175h0M404 175h0M405 175h0M407 175h0M408 175h0M409 175h0M410 175h0M411 175h0M412 175h0M413 175h0M414 175h0M415 175h0M416 175h0M417 175h0M423 175h0M429 175h0M431 175h0M432 175h0M433 175h0M434 175h0M436 175h0M441 175h0M448 175h0M338 176h0M342 176h0M343 176h0M354 176h0M356 176h0M359 176h0M361 176h0M362 176h0M363 176h0M366 176h0M367 176h0M369 176h0M370 176h0M371 176h0M372 176h0M373 176h0M374 176h0M375 176h0M376 176h0M380 176h0M381 176h0M382 176h0M383 176h0M384 176h0M385 176h0M389 176h0M390 176h0M391 176h0M393 176h0M394 176h0M395 176h0M396 176h0M397 176h0M400 176h0M401 176h0M402 176h0M404 176h0M405 176h0M406 176h0M407 176h0M408 176h0M409 176h0M411 176h0M412 176h0M413 176h0M414 176h0M415 176h0M416 176h0M417 176h0M419 176h0M420 176h0M421 176h0M424 176h0M428 176h0M429 176h0M430 176h0M436 176h0M438 176h0M439 176h0M440 176h0M444 176h0M445 176h0M447 176h0M455 176h0M456 176h0M475 176h0M326 177h0M334 177h0M335 177h0M343 177h0M349 177h0M352 177h0M353 177h0M359 177h0M360 177h0M361 177h0M362 177h0M363 177h0M364 177h0M365 177h0M367 177h0M369 177h0M370 177h0M371 177h0M372 177h0M373 177h0M374 177h0M376 177h0M377 177h0M378 177h0M379 177h0M380 177h0M381 177h0M382 177h0M384 177h0M386 177h0M387 177h0M388 177h0M389 177h0M391 177h0M394 177h0M397 177h0M399 177h0M400 177h0M401 177h0M402 177h0M404 177h0M405 177h0M406 177h0M407 177h0M409 177h0M410 177h0M411 177h0M413 177h0M415 177h0M416 177h0M417 177h0M418 177h0M419 177h0M420 177h0M422 177h0M423 177h0M427 177h0M440 177h0M443 177h0M447 177h0M449 177h0M335 178h0M336 178h0M338 178h0M343 178h0M345 178h0M347 178h0M348 178h0M349 178h0M350 178h0M351 178h0M354 178h0M355 178h0M356 178h0M357 178h0M358 178h0M359 178h0M360 178h0M362 178h0M363 178h0M364 178h0M365 178h0M366 178h0M367 178h0M368 178h0M369 178h0M370 178h0M372 178h0M373 178h0M375 178h0M376 178h0M377 178h0M378 178h0M379 178h0M380 178h0M381 178h0M382 178h0M385 178h0M386 178h0M387 178h0M388 178h0M390 178h0M391 178h0M392 178h0M393 178h0M394 178h0M395 178h0M396 178h0M397 178h0M400 178h0M401 178h0M402 178h0M403 178h0M404 178h0M405 178h0M408 178h0M409 178h0M410 178h0M411 178h0M412 178h0M413 178h0M415 178h0M417 178h0M419 178h0M421 178h0M422 178h0M423 178h0M427 178h0M431 178h0M432 178h0M433 178h0M435 178h0M436 178h0M493 178h0M339 179h0M344 179h0M346 179h0M347 179h0M348 179h0M350 179h0M351 179h0M356 179h0M357 179h0M358 179h0M359 179h0M360 179h0M361 179h0M362 179h0M363 179h0M365 179h0M366 179h0M367 179h0M369 179h0M370 179h0M371 179h0M373 179h0M374 179h0M375 179h0M376 179h0M377 179h0M378 179h0M382 179h0M383 179h0M384 179h0M385 179h0M386 179h0M388 179h0M389 179h0M390 179h0M392 179h0M394 179h0M395 179h0M396 179h0M397 179h0M398 179h0M400 179h0M401 179h0M402 179h0M403 179h0M405 179h0M406 179h0M407 179h0M409 179h0M410 179h0M411 179h0M414 179h0M415 179h0M416 179h0M417 179h0M418 179h0M422 179h0M423 179h0M424 179h0M428 179h0M432 179h0M434 179h0M436 179h0M440 179h0M442 179h0M341 180h0M342 180h0M344 180h0M345 180h0M346 180h0M348 180h0M349 180h0M350 180h0M351 180h0M353 180h0M354 180h0M358 180h0M359 180h0M360 180h0M361 180h0M362 180h0M364 180h0M365 180h0M367 180h0M369 180h0M370 180h0M371 180h0M372 180h0M373 180h0M374 180h0M375 180h0M376 180h0M377 180h0M378 180h0M380 180h0M381 180h0M382 180h0M383 180h0M384 180h0M387 180h0M389 180h0M390 180h0M391 180h0M392 180h0M393 180h0M394 180h0M395 180h0M396 180h0M397 180h0M399 180h0M401 180h0M402 180h0M403 180h0M404 180h0M405 180h0M406 180h0M407 180h0M409 180h0M410 180h0M413 180h0M414 180h0M418 180h0M419 180h0M420 180h0M421 180h0M424 180h0M427 180h0M428 180h0M431 180h0M432 180h0M433 180h0M442 180h0M456 180h0M336 181h0M339 181h0M342 181h0M343 181h0M349 181h0M353 181h0M354 181h0M355 181h0M356 181h0M358 181h0M359 181h0M360 181h0M361 181h0M363 181h0M364 181h0M365 181h0M366 181h0M367 181h0M368 181h0M369 181h0M370 181h0M373 181h0M374 181h0M375 181h0M377 181h0M378 181h0M379 181h0M381 181h0M384 181h0M386 181h0M387 181h0M388 181h0M390 181h0M391 181h0M395 181h0M398 181h0M401 181h0M403 181h0M407 181h0M408 181h0M410 181h0M412 181h0M413 181h0M414 181h0M415 181h0M416 181h0M417 181h0M418 181h0M419 181h0M420 181h0M422 181h0M424 181h0M425 181h0M426 181h0M432 181h0M433 181h0M434 181h0M435 181h0M437 181h0M333 182h0M336 182h0M339 182h0M344 182h0M345 182h0M347 182h0M348 182h0M350 182h0M351 182h0M352 182h0M353 182h0M354 182h0M355 182h0M356 182h0M358 182h0M359 182h0M361 182h0M363 182h0M364 182h0M365 182h0M366 182h0M367 182h0M368 182h0M369 182h0M371 182h0M372 182h0M375 182h0M376 182h0M377 182h0M380 182h0M381 182h0M382 182h0M383 182h0M384 182h0M386 182h0M387 182h0M388 182h0M390 182h0M391 182h0M392 182h0M393 182h0M394 182h0M396 182h0M397 182h0M399 182h0M400 182h0M401 182h0M402 182h0M403 182h0M404 182h0M405 182h0M406 182h0M407 182h0M408 182h0M410 182h0M411 182h0M414 182h0M415 182h0M416 182h0M417 182h0M418 182h0M420 182h0M421 182h0M425 182h0M426 182h0M428 182h0M429 182h0M430 182h0M434 182h0M436 182h0M438 182h0M442 182h0M334 183h0M341 183h0M343 183h0M344 183h0M346 183h0M347 183h0M348 183h0M351 183h0M354 183h0M355 183h0M356 183h0M357 183h0M359 183h0M363 183h0M365 183h0M371 183h0M373 183h0M375 183h0M377 183h0M380 183h0M381 183h0M382 183h0M383 183h0M384 183h0M385 183h0M386 183h0M387 183h0M388 183h0M389 183h0M390 183h0M391 183h0M392 183h0M393 183h0M394 183h0M395 183h0M397 183h0M398 183h0M399 183h0M401 183h0M402 183h0M403 183h0M404 183h0M405 183h0M406 183h0M407 183h0M408 183h0M409 183h0M410 183h0M411 183h0M412 183h0M413 183h0M415 183h0M417 183h0M418 183h0M419 183h0M420 183h0M421 183h0M424 183h0M425 183h0M427 183h0M428 183h0M429 183h0M432 183h0M434 183h0M439 183h0M440 183h0M448 183h0M455 183h0M458 183h0M336 184h0M340 184h0M342 184h0M343 184h0M344 184h0M346 184h0M348 184h0M350 184h0M351 184h0M352 184h0M353 184h0M354 184h0M355 184h0M356 184h0M357 184h0M358 184h0M360 184h0M363 184h0M364 184h0M365 184h0M367 184h0M368 184h0M369 184h0M370 184h0M371 184h0M372 184h0M373 184h0M374 184h0M375 184h0M376 184h0M380 184h0M381 184h0M382 184h0M383 184h0M385 184h0M386 184h0M387 184h0M388 184h0M390 184h0M393 184h0M394 184h0M395 184h0M396 184h0M399 184h0M400 184h0M401 184h0M403 184h0M404 184h0M405 184h0M407 184h0M409 184h0M410 184h0M411 184h0M412 184h0M413 184h0M414 184h0M417 184h0M418 184h0M420 184h0M421 184h0M429 184h0M435 184h0M447 184h0M334 185h0M339 185h0M340 185h0M343 185h0M344 185h0M345 185h0M346 185h0M349 185h0M351 185h0M352 185h0M353 185h0M355 185h0M356 185h0M358 185h0M359 185h0M360 185h0M361 185h0M362 185h0M363 185h0M364 185h0M365 185h0M367 185h0M368 185h0M370 185h0M371 185h0M373 185h0M375 185h0M377 185h0M378 185h0M379 185h0M380 185h0M383 185h0M384 185h0M386 185h0M387 185h0M388 185h0M389 185h0M390 185h0M391 185h0M392 185h0M393 185h0M394 185h0M395 185h0M396 185h0M397 185h0M398 185h0M399 185h0M400 185h0M401 185h0M402 185h0M403 185h0M406 185h0M407 185h0M408 185h0M410 185h0M411 185h0M415 185h0M418 185h0M420 185h0M421 185h0M423 185h0M425 185h0M433 185h0M436 185h0M442 185h0M445 185h0M335 186h0M342 186h0M345 186h0M347 186h0M348 186h0M349 186h0M350 186h0M354 186h0M356 186h0M357 186h0M358 186h0M359 186h0M360 186h0M363 186h0M364 186h0M365 186h0M366 186h0M367 186h0M368 186h0M369 186h0M371 186h0M372 186h0M374 186h0M375 186h0M376 186h0M377 186h0M379 186h0M381 186h0M382 186h0M384 186h0M385 186h0M386 186h0M387 186h0M388 186h0M390 186h0M391 186h0M392 186h0M393 186h0M394 186h0M395 186h0M396 186h0M397 186h0M398 186h0M399 186h0M400 186h0M401 186h0M402 186h0M403 186h0M404 186h0M406 186h0M407 186h0M408 186h0M410 186h0M411 186h0M412 186h0M413 186h0M414 186h0M416 186h0M417 186h0M420 186h0M423 186h0M424 186h0M425 186h0M426 186h0M429 186h0M336 187h0M340 187h0M341 187h0M342 187h0M344 187h0M345 187h0M346 187h0M348 187h0M349 187h0M353 187h0M356 187h0M357 187h0M358 187h0M359 187h0M360 187h0M361 187h0M363 187h0M364 187h0M365 187h0M366 187h0M367 187h0M368 187h0M369 187h0M370 187h0M371 187h0M373 187h0M374 187h0M375 187h0M376 187h0M377 187h0M379 187h0M381 187h0M382 187h0M383 187h0M384 187h0M385 187h0M386 187h0M388 187h0M390 187h0M392 187h0M394 187h0M395 187h0M397 187h0M398 187h0M399 187h0M401 187h0M403 187h0M404 187h0M405 187h0M406 187h0M407 187h0M408 187h0M409 187h0M410 187h0M411 187h0M412 187h0M416 187h0M420 187h0M421 187h0M422 187h0M423 187h0M424 187h0M430 187h0M431 187h0M435 187h0M444 187h0M447 187h0M333 188h0M335 188h0M336 188h0M343 188h0M345 188h0M346 188h0M347 188h0M348 188h0M350 188h0M351 188h0M352 188h0M353 188h0M355 188h0M358 188h0M359 188h0M360 188h0M362 188h0M363 188h0M364 188h0M365 188h0M366 188h0M367 188h0M368 188h0M369 188h0M371 188h0M372 188h0M374 188h0M375 188h0M376 188h0M377 188h0M379 188h0M380 188h0M382 188h0M383 188h0M384 188h0M385 188h0M386 188h0M387 188h0M389 188h0M390 188h0M391 188h0M392 188h0M394 188h0M395 188h0M396 188h0M397 188h0M398 188h0M399 188h0M401 188h0M402 188h0M403 188h0M404 188h0M405 188h0M406 188h0M407 188h0M410 188h0M412 188h0M414 188h0M416 188h0M417 188h0M419 188h0M420 188h0M423 188h0M424 188h0M426 188h0M427 188h0M428 188h0M429 188h0M430 188h0M433 188h0M439 188h0M443 188h0M448 188h0M450 188h0M451 188h0M453 188h0M330 189h0M331 189h0M333 189h0M340 189h0M341 189h0M342 189h0M345 189h0M346 189h0M348 189h0M351 189h0M352 189h0M353 189h0M354 189h0M356 189h0M360 189h0M361 189h0M362 189h0M364 189h0M365 189h0M367 189h0M368 189h0M370 189h0M371 189h0M372 189h0M373 189h0M374 189h0M375 189h0M376 189h0M377 189h0M378 189h0M379 189h0M380 189h0M382 189h0M384 189h0M385 189h0M386 189h0M390 189h0M391 189h0M392 189h0M393 189h0M394 189h0M395 189h0M397 189h0M398 189h0M399 189h0M400 189h0M401 189h0M402 189h0M403 189h0M404 189h0M405 189h0M412 189h0M418 189h0M419 189h0M420 189h0M421 189h0M422 189h0M423 189h0M425 189h0M428 189h0M429 189h0M431 189h0M437 189h0M440 189h0M464 189h0M335 190h0M339 190h0M340 190h0M341 190h0M342 190h0M343 190h0M347 190h0M350 190h0M351 190h0M353 190h0M355 190h0M356 190h0M357 190h0M359 190h0M360 190h0M362 190h0M363 190h0M364 190h0M366 190h0M368 190h0M370 190h0M371 190h0M372 190h0M373 190h0M374 190h0M375 190h0M376 190h0M378 190h0M381 190h0M382 190h0M384 190h0M385 190h0M386 190h0M387 190h0M388 190h0M389 190h0M390 190h0M391 190h0M392 190h0M393 190h0M394 190h0M397 190h0M400 190h0M402 190h0M404 190h0M405 190h0M406 190h0M407 190h0M410 190h0M413 190h0M415 190h0M417 190h0M419 190h0M421 190h0M422 190h0M433 190h0M437 190h0M486 190h0M489 190h0M328 191h0M337 191h0M338 191h0M340 191h0M342 191h0M343 191h0M345 191h0M346 191h0M348 191h0M350 191h0M354 191h0M356 191h0M357 191h0M358 191h0M359 191h0M360 191h0M361 191h0M362 191h0M367 191h0M370 191h0M372 191h0M373 191h0M374 191h0M376 191h0M377 191h0M379 191h0M380 191h0M381 191h0M387 191h0M388 191h0M389 191h0M390 191h0M391 191h0M392 191h0M393 191h0M397 191h0M398 191h0M399 191h0M401 191h0M403 191h0M404 191h0M405 191h0M406 191h0M409 191h0M410 191h0M412 191h0M413 191h0M418 191h0M419 191h0M420 191h0M421 191h0M433 191h0M454 191h0M329 192h0M330 192h0M332 192h0M336 192h0M339 192h0M340 192h0M343 192h0M344 192h0M346 192h0M347 192h0M348 192h0M349 192h0M350 192h0M351 192h0M352 192h0M353 192h0M354 192h0M355 192h0M357 192h0M358 192h0M359 192h0M361 192h0M362 192h0M364 192h0M365 192h0M366 192h0M367 192h0M368 192h0M370 192h0M371 192h0M373 192h0M374 192h0M375 192h0M376 192h0M377 192h0M378 192h0M379 192h0M381 192h0M382 192h0M383 192h0M384 192h0M385 192h0M386 192h0M387 192h0M388 192h0M389 192h0M391 192h0M392 192h0M393 192h0M394 192h0M395 192h0M397 192h0M398 192h0M399 192h0M400 192h0M401 192h0M402 192h0M403 192h0M404 192h0M405 192h0M406 192h0M407 192h0M409 192h0M411 192h0M412 192h0M414 192h0M416 192h0M417 192h0M426 192h0M427 192h0M435 192h0M437 192h0M444 192h0M330 193h0M333 193h0M335 193h0M337 193h0M338 193h0M344 193h0M345 193h0M348 193h0M349 193h0M351 193h0M352 193h0M355 193h0M357 193h0M358 193h0M359 193h0M360 193h0M362 193h0M364 193h0M365 193h0M366 193h0M367 193h0M368 193h0M369 193h0M370 193h0M371 193h0M372 193h0M373 193h0M374 193h0M375 193h0M377 193h0M378 193h0M380 193h0M381 193h0M384 193h0M385 193h0M386 193h0M387 193h0M389 193h0M390 193h0M392 193h0M393 193h0M394 193h0M396 193h0M397 193h0M399 193h0M400 193h0M402 193h0M403 193h0M404 193h0M405 193h0M408 193h0M409 193h0M411 193h0M413 193h0M415 193h0M422 193h0M426 193h0M435 193h0M437 193h0M438 193h0M453 193h0M459 193h0M329 194h0M334 194h0M335 194h0M337 194h0M338 194h0M340 194h0M343 194h0M347 194h0M350 194h0M352 194h0M353 194h0M354 194h0M355 194h0M356 194h0M359 194h0M361 194h0M362 194h0M363 194h0M365 194h0M366 194h0M368 194h0M369 194h0M370 194h0M371 194h0M372 194h0M373 194h0M381 194h0M382 194h0M383 194h0M385 194h0M389 194h0M391 194h0M392 194h0M394 194h0M396 194h0M397 194h0M398 194h0M399 194h0M402 194h0M403 194h0M404 194h0M405 194h0M406 194h0M407 194h0M409 194h0M415 194h0M417 194h0M420 194h0M429 194h0M434 194h0M402 195h0M336 196h0M351 196h0M366 196h0M372 196h0M339 197h0M347 197h0M411 197h0M412 197h0M333 198h0M371 198h0" stroke="#000" stroke-width="2" stroke-linecap="square"/>
<path transform="translate(0.75 0.75)" d="M91 322h0M92 322h0M93 322h0M95 322h0M107 322h0M108 322h0M113 322h0M114 322h0M117 322h0M119 322h0M124 322h0M91 323h0M97 323h0M98 323h0M104 323h0M112 323h0M127 323h0M92 324h0M94 324h0M99 324h0M100 324h0M101 324h0M102 324h0M105 324h0M110 324h0M92 325h0M94 325h0M98 325h0M103 325h0M105 325h0M106 325h0M111 325h0M113 325h0M115 325h0M122 325h0M88 326h0M90 326h0M96 326h0M97 326h0M100 326h0M102 326h0M103 326h0M109 326h0M112 326h0M116 326h0M118 326h0M122 326h0M126 326h0M94 327h0M97 327h0M98 327h0M99 327h0M104 327h0M116 327h0M119 327h0M87 328h0M88 328h0M94 328h0M102 328h0M103 328h0M104 328h0M109 328h0M110 328h0M112 328h0M121 328h0M154 328h0M92 329h0M94 329h0M102 329h0M107 329h0M118 329h0M122 329h0M126 329h0M90 330h0M91 330h0M92 330h0M96 330h0M97 330h0M99 330h0M103 330h0M104 330h0M105 330h0M109 330h0M89 331h0M90 331h0M91 331h0M95 331h0M96 331h0M101 331h0M103 331h0M105 331h0M106 331h0M111 331h0M116 331h0M117 331h0M87 332h0M88 332h0M90 332h0M91 332h0M93 332h0M94 332h0M95 332h0M96 332h0M99 332h0M101 332h0M102 332h0M103 332h0M104 332h0M105 332h0M106 332h0M108 332h0M109 332h0M112 332h0M113 332h0M116 332h0M117 332h0M118 332h0M128 332h0M130 332h0M87 333h0M88 333h0M90 333h0M92 333h0M94 333h0M97 333h0M98 333h0M99 333h0M102 333h0M103 333h0M104 333h0M106 333h0M107 333h0M108 333h0M112 333h0M114 333h0M121 333h0M90 334h0M91 334h0M93 334h0M96 334h0M99 334h0M100 334h0M101 334h0M104 334h0M111 334h0M114 334h0M117 334h0M123 334h0M128 334h0M87 335h0M88 335h0M91 335h0M92 335h0M94 335h0M96 335h0M97 335h0M98 335h0M100 335h0M102 335h0M103 335h0M104 335h0M105 335h0M106 335h0M107 335h0M111 335h0M113 335h0M114 335h0M116 335h0M118 335h0M119 335h0M122 335h0M124 335h0M127 335h0M87 336h0M90 336h0M91 336h0M92 336h0M95 336h0M96 336h0M97 336h0M98 336h0M99 336h0M100 336h0M101 336h0M102 336h0M103 336h0M104 336h0M105 336h0M107 336h0M110 336h0M113 336h0M114 336h0M121 336h0M123 336h0M125 336h0M126 336h0M88 337h0M89 337h0M94 337h0M95 337h0M96 337h0M97 337h0M103 337h0M104 337h0M106 337h0M108 337h0M109 337h0M110 337h0M111 337h0M112 337h0M125 337h0M137 337h0M89 338h0M91 338h0M92 338h0M93 338h0M94 338h0M95 338h0M96 338h0M97 338h0M100 338h0M101 338h0M103 338h0M106 338h0M107 338h0M110 338h0M111 338h0M115 338h0M122 338h0M127 338h0M128 338h0M87 339h0M89 339h0M92 339h0M94 339h0M95 339h0M96 339h0M97 339h0M99 339h0M100 339h0M101 339h0M103 339h0M104 339h0M105 339h0M106 339h0M107 339h0M108 339h0M109 339h0M112 339h0M113 339h0M114 339h0M115 339h0M116 339h0M117 339h0M118 339h0M119 339h0M125 339h0M128 339h0M130 339h0M133 339h0M88 340h0M89 340h0M90 340h0M91 340h0M92 340h0M94 340h0M95 340h0M96 340h0M97 340h0M98 340h0M99 340h0M100 340h0M101 340h0M102 340h0M104 340h0M105 340h0M106 340h0M107 340h0M108 340h0M110 340h0M111 340h0M113 340h0M115 340h0M117 340h0M118 340h0M120 340h0M121 340h0M129 340h0M87 341h0M89 341h0M92 341h0M93 341h0M94 341h0M95 341h0M96 341h0M99 341h0M100 341h0M101 341h0M102 341h0M103 341h0M104 341h0M107 341h0M110 341h0M111 341h0M112 341h0M113 341h0M116 341h0M122 341h0M123 341h0M127 341h0M88 342h0M89 342h0M90 342h0M93 342h0M95 342h0M97 342h0M98 342h0M99 342h0M100 342h0M101 342h0M102 342h0M103 342h0M104 342h0M105 342h0M106 342h0M107 342h0M108 342h0M109 342h0M110 342h0M111 342h0M112 342h0M115 342h0M119 342h0M122 342h0M127 342h0M132 342h0M140 342h0M88 343h0M89 343h0M90 343h0M91 343h0M92 343h0M93 343h0M94 343h0M95 343h0M96 343h0M98 343h0M99 343h0M100 343h0M104 343h0M105 343h0M107 343h0M108 343h0M109 343h0M110 343h0M111 343h0M113 343h0M114 343h0M118 343h0M119 343h0M121 343h0M129 343h0M138 343h0M87 344h0M88 344h0M89 344h0M90 344h0M92 344h0M93 344h0M94 344h0M96 344h0M97 344h0M98 344h0M99 344h0M101 344h0M103 344h0M104 344h0M105 344h0M106 344h0M107 344h0M109 344h0M110 344h0M111 344h0M115 344h0M117 344h0M119 344h0M121 344h0M133 344h0M143 344h0M87 345h0M88 345h0M90 345h0M91 345h0M92 345h0M94 345h0M98 345h0M99 345h0M101 345h0M103 345h0M104 345h0M105 345h0M106 345h0M109 345h0M111 345h0M113 345h0M116 345h0M117 345h0M120 345h0M125 345h0M133 345h0M87 346h0M90 346h0M91 346h0M92 346h0M93 346h0M95 346h0M97 346h0M98 346h0M99 346h0M100 346h0M101 346h0M102 346h0M104 346h0M105 346h0M106 346h0M107 346h0M108 346h0M109 346h0M110 346h0M111 346h0M113 346h0M114 346h0M115 346h0M116 346h0M128 346h0M132 346h0M87 347h0M89 347h0M90 347h0M94 347h0M96 347h0M97 347h0M98 347h0M100 347h0M101 347h0M102 347h0M103 347h0M104 347h0M105 347h0M108 347h0M113 347h0M115 347h0M117 347h0M119 347h0M87 348h0M88 348h0M89 348h0M92 348h0M94 348h0M95 348h0M96 348h0M97 348h0M98 348h0M99 348h0M100 348h0M102 348h0M103 348h0M104 348h0M105 348h0M107 348h0M108 348h0M109 348h0M111 348h0M112 348h0M116 348h0M117 348h0M120 348h0M126 348h0M128 348h0M129 348h0M87 349h0M88 349h0M89 349h0M90 349h0M91 349h0M92 349h0M94 349h0M95 349h0M97 349h0M98 349h0M99 349h0M100 349h0M101 349h0M103 349h0M104 349h0M105 349h0M106 349h0M107 349h0M108 349h0M109 349h0M110 349h0M112 349h0M113 349h0M114 349h0M118 349h0M120 349h0M121 349h0M87 350h0M89 350h0M91 350h0M93 350h0M94 350h0M96 350h0M97 350h0M98 350h0M99 350h0M101 350h0M102 350h0M103 350h0M104 350h0M105 350h0M106 350h0M108 350h0M109 350h0M111 350h0M113 350h0M114 350h0M115 350h0M116 350h0M117 350h0M120 350h0M87 351h0M88 351h0M89 351h0M90 351h0M91 351h0M92 351h0M93 351h0M94 351h0M95 351h0M97 351h0M98 351h0M99 351h0M100 351h0M101 351h0M103 351h0M104 351h0M105 351h0M106 351h0M107 351h0M108 351h0M109 351h0M111 351h0M112 351h0M113 351h0M114 351h0M115 351h0M117 351h0M118 351h0M121 351h0M123 351h0M126 351h0M133 351h0M134 351h0M87 352h0M88 352h0M89 352h0M90 352h0M91 352h0M92 352h0M93 352h0M94 352h0M95 352h0M97 352h0M98 352h0M99 352h0M100 352h0M101 352h0M102 352h0M103 352h0M104 352h0M105 352h0M106 352h0M107 352h0M108 352h0M109 352h0M112 352h0M113 352h0M114 352h0M115 352h0M119 352h0M124 352h0M125 352h0M150 352h0M87 353h0M88 353h0M89 353h0M92 353h0M94 353h0M95 353h0M97 353h0M98 353h0M99 353h0M100 353h0M101 353h0M102 353h0M103 353h0M104 353h0M105 353h0M106 353h0M107 353h0M108 353h0M109 353h0M111 353h0M112 353h0M116 353h0M120 353h0M121 353h0M127 353h0M128 353h0M129 353h0M132 353h0M134 353h0M137 353h0M89 354h0M91 354h0M92 354h0M94 354h0M95 354h0M96 354h0M97 354h0M98 354h0M99 354h0M100 354h0M101 354h0M102 354h0M103 354h0M104 354h0M105 354h0M106 354h0M107 354h0M108 354h0M109 354h0M110 354h0M111 354h0M112 354h0M114 354h0M115 354h0M116 354h0M121 354h0M139 354h0M87 355h0M88 355h0M89 355h0M91 355h0M92 355h0M94 355h0M95 355h0M96 355h0M99 355h0M100 355h0M101 355h0M103 355h0M104 355h0M105 355h0M106 355h0M107 355h0M109 355h0M113 355h0M114 355h0M116 355h0M119 355h0M131 355h0M134 355h0M135 355h0M87 356h0M88 356h0M89 356h0M91 356h0M92 356h0M93 356h0M95 356h0M99 356h0M100 356h0M101 356h0M102 356h0M103 356h0M104 356h0M105 356h0M106 356h0M107 356h0M108 356h0M109 356h0M110 356h0M111 356h0M112 356h0M114 356h0M115 356h0M116 356h0M119 356h0M123 356h0M127 356h0M129 356h0M130 356h0M133 356h0M87 357h0M88 357h0M89 357h0M90 357h0M91 357h0M92 357h0M93 357h0M94 357h0M95 357h0M96 357h0M98 357h0M99 357h0M102 357h0M103 357h0M104 357h0M105 357h0M106 357h0M107 357h0M108 357h0M109 357h0M110 357h0M111 357h0M114 357h0M115 357h0M117 357h0M118 357h0M119 357h0M120 357h0M129 357h0M88 358h0M89 358h0M90 358h0M91 358h0M92 358h0M93 358h0M94 358h0M95 358h0M100 358h0M101 358h0M102 358h0M103 358h0M104 358h0M105 358h0M107 358h0M108 358h0M109 358h0M110 358h0M112 358h0M113 358h0M115 358h0M116 358h0M118 358h0M121 358h0M126 358h0M87 359h0M88 359h0M89 359h0M90 359h0M91 359h0M92 359h0M93 359h0M95 359h0M96 359h0M97 359h0M98 359h0M99 359h0M102 359h0M103 359h0M104 359h0M105 359h0M106 359h0M107 359h0M109 359h0M110 359h0M111 359h0M112 359h0M113 359h0M115 359h0M116 359h0M118 359h0M123 359h0M88 360h0M89 360h0M90 360h0M91 360h0M92 360h0M93 360h0M94 360h0M95 360h0M96 360h0M97 360h0M98 360h0M99 360h0M100 360h0M101 360h0M102 360h0M103 360h0M104 360h0M105 360h0M107 360h0M108 360h0M110 360h0M111 360h0M112 360h0M115 360h0M116 360h0M117 360h0M118 360h0M120 360h0M125 360h0M129 360h0M131 360h0M134 360h0M137 360h0M87 361h0M88 361h0M89 361h0M91 361h0M92 361h0M93 361h0M94 361h0M95 361h0M96 361h0M97 361h0M98 361h0M100 361h0M102 361h0M103 361h0M104 361h0M105 361h0M106 361h0M107 361h0M108 361h0M109 361h0M110 361h0M111 361h0M112 361h0M113 361h0M114 361h0M116 361h0M117 361h0M118 361h0M120 361h0M121 361h0M124 361h0M125 361h0M127 361h0M130 361h0M134 361h0M142 361h0M88 362h0M90 362h0M91 362h0M92 362h0M94 362h0M95 362h0M96 362h0M98 362h0M99 362h0M100 362h0M101 362h0M102 362h0M103 362h0M104 362h0M105 362h0M106 362h0M107 362h0M109 362h0M110 362h0M111 362h0M112 362h0M114 362h0M116 362h0M117 362h0M118 362h0M119 362h0M120 362h0M121 362h0M122 362h0M88 363h0M90 363h0M91 363h0M92 363h0M94 363h0M95 363h0M96 363h0M97 363h0M99 363h0M100 363h0M101 363h0M102 363h0M105 363h0M107 363h0M109 363h0M110 363h0M112 363h0M113 363h0M114 363h0M115 363h0M119 363h0M121 363h0M123 363h0M87 364h0M89 364h0M91 364h0M92 364h0M93 364h0M94 364h0M96 364h0M97 364h0M99 364h0M100 364h0M101 364h0M102 364h0M103 364h0M104 364h0M105 364h0M106 364h0M107 364h0M108 364h0M109 364h0M110 364h0M111 364h0M113 364h0M114 364h0M115 364h0M116 364h0M117 364h0M119 364h0M125 364h0M128 364h0M132 364h0M88 365h0M89 365h0M90 365h0M92 365h0M93 365h0M94 365h0M95 365h0M96 365h0M97 365h0M98 365h0M100 365h0M101 365h0M102 365h0M103 365h0M104 365h0M105 365h0M107 365h0M108 365h0M109 365h0M115 365h0M116 365h0M117 365h0M119 365h0M124 365h0M126 365h0M127 365h0M132 365h0M134 365h0M135 365h0M87 366h0M89 366h0M90 366h0M91 366h0M92 366h0M93 366h0M94 366h0M95 366h0M98 366h0M99 366h0M100 366h0M101 366h0M104 366h0M105 366h0M106 366h0M107 366h0M109 366h0M110 366h0M112 366h0M113 366h0M115 366h0M116 366h0M117 366h0M118 366h0M119 366h0M122 366h0M123 366h0M125 366h0M126 366h0M131 366h0M135 366h0M143 366h0M88 367h0M89 367h0M91 367h0M92 367h0M93 367h0M94 367h0M95 367h0M96 367h0M97 367h0M98 367h0M99 367h0M100 367h0M101 367h0M102 367h0M104 367h0M105 367h0M107 367h0M108 367h0M110 367h0M111 367h0M112 367h0M113 367h0M114 367h0M115 367h0M116 367h0M119 367h0M121 367h0M123 367h0M124 367h0M126 367h0M127 367h0M128 367h0M130 367h0M136 367h0M87 368h0M88 368h0M89 368h0M90 368h0M91 368h0M93 368h0M94 368h0M95 368h0M96 368h0M98 368h0M99 368h0M100 368h0M101 368h0M102 368h0M103 368h0M104 368h0M105 368h0M106 368h0M107 368h0M108 368h0M109 368h0M111 368h0M115 368h0M116 368h0M121 368h0M122 368h0M131 368h0M134 368h0M87 369h0M88 369h0M89 369h0M90 369h0M91 369h0M92 369h0M93 369h0M95 369h0M96 369h0M97 369h0M98 369h0M99 369h0M100 369h0M101 369h0M102 369h0M103 369h0M104 369h0M105 369h0M106 369h0M107 369h0M108 369h0M110 369h0M111 369h0M112 369h0M113 369h0M115 369h0M117 369h0M118 369h0M120 369h0M121 369h0M122 369h0M125 369h0M127 369h0M128 369h0M87 370h0M88 370h0M89 370h0M90 370h0M91 370h0M92 370h0M93 370h0M94 370h0M95 370h0M96 370h0M97 370h0M98 370h0M99 370h0M101 370h0M102 370h0M105 370h0M107 370h0M108 370h0M109 370h0M110 370h0M112 370h0M113 370h0M114 370h0M115 370h0M116 370h0M117 370h0M120 370h0M125 370h0M127 370h0M128 370h0M132 370h0M134 370h0M135 370h0M87 371h0M88 371h0M89 371h0M90 371h0M94 371h0M96 371h0M98 371h0M99 371h0M100 371h0M101 371h0M102 371h0M103 371h0M104 371h0M105 371h0M106 371h0M107 371h0M108 371h0M109 371h0M110 371h0M111 371h0M112 371h0M114 371h0M115 371h0M116 371h0M118 371h0M119 371h0M122 371h0M124 371h0M130 371h0M132 371h0M137 371h0M145 371h0M87 372h0M88 372h0M89 372h0M90 372h0M91 372h0M92 372h0M93 372h0M94 372h0M95 372h0M96 372h0M98 372h0M99 372h0M100 372h0M102 372h0M104 372h0M105 372h0M106 372h0M107 372h0M108 372h0M109 372h0M110 372h0M112 372h0M113 372h0M114 372h0M115 372h0M117 372h0M119 372h0M125 372h0M128 372h0M142 372h0M87 373h0M88 373h0M89 373h0M90 373h0M91 373h0M92 373h0M93 373h0M94 373h0M96 373h0M97 373h0M99 373h0M100 373h0M103 373h0M104 373h0M105 373h0M106 373h0M107 373h0M110 373h0M112 373h0M113 373h0M114 373h0M116 373h0M119 373h0M120 373h0M122 373h0M123 373h0M124 373h0M127 373h0M135 373h0M140 373h0M87 374h0M88 374h0M90 374h0M91 374h0M92 374h0M93 374h0M94 374h0M95 374h0M96 374h0M97 374h0M98 374h0M99 374h0M100 374h0M101 374h0M102 374h0M103 374h0M105 374h0M107 374h0M108 374h0M109 374h0M110 374h0M111 374h0M112 374h0M114 374h0M116 374h0M122 374h0M123 374h0M129 374h0M135 374h0M136 374h0M137 374h0M87 375h0M88 375h0M90 375h0M91 375h0M92 375h0M93 375h0M94 375h0M95 375h0M96 375h0M97 375h0M98 375h0M99 375h0M101 375h0M102 375h0M103 375h0M104 375h0M105 375h0M106 375h0M107 375h0M108 375h0M111 375h0M112 375h0M113 375h0M117 375h0M119 375h0M122 375h0M124 375h0M126 375h0M128 375h0M136 375h0M89 376h0M91 376h0M92 376h0M93 376h0M94 376h0M95 376h0M96 376h0M97 376h0M98 376h0M99 376h0M100 376h0M101 376h0M102 376h0M103 376h0M104 376h0M106 376h0M107 376h0M108 376h0M109 376h0M110 376h0M111 376h0M112 376h0M113 376h0M116 376h0M120 376h0M121 376h0M123 376h0M125 376h0M135 376h0M87 377h0M88 377h0M89 377h0M90 377h0M91 377h0M92 377h0M93 377h0M94 377h0M95 377h0M96 377h0M97 377h0M102 377h0M103 377h0M104 377h0M106 377h0M109 377h0M110 377h0M111 377h0M112 377h0M113 377h0M114 377h0M115 377h0M116 377h0M117 377h0M119 377h0M120 377h0M135 377h0M87 378h0M90 378h0M91 378h0M92 378h0M93 378h0M95 378h0M96 378h0M98 378h0M100 378h0M101 378h0M102 378h0M103 378h0M104 378h0M105 378h0M106 378h0M107 378h0M109 378h0M110 378h0M112 378h0M115 378h0M117 378h0M118 378h0M125 378h0M133 378h0M135 378h0M89 379h0M90 379h0M91 379h0M92 379h0M93 379h0M94 379h0M95 379h0M96 379h0M97 379h0M98 379h0M99 379h0M100 379h0M101 379h0M102 379h0M103 379h0M104 379h0M105 379h0M106 379h0M108 379h0M109 379h0M110 379h0M111 379h0M113 379h0M122 379h0M124 379h0M126 379h0M129 379h0M133 379h0M135 379h0M136 379h0M87 380h0M88 380h0M90 380h0M92 380h0M93 380h0M94 380h0M95 380h0M96 380h0M97 380h0M98 380h0M100 380h0M102 380h0M103 380h0M104 380h0M105 380h0M106 380h0M108 380h0M109 380h0M110 380h0M111 380h0M112 380h0M114 380h0M115 380h0M118 380h0M120 380h0M121 380h0M122 380h0M123 380h0M124 380h0M125 380h0M127 380h0M133 380h0M134 380h0M138 380h0M87 381h0M88 381h0M89 381h0M90 381h0M92 381h0M93 381h0M94 381h0M95 381h0M96 381h0M97 381h0M98 381h0M99 381h0M100 381h0M101 381h0M103 381h0M104 381h0M106 381h0M108 381h0M110 381h0M111 381h0M113 381h0M114 381h0M116 381h0M119 381h0M120 381h0M121 381h0M124 381h0M125 381h0M126 381h0M127 381h0M128 381h0M132 381h0M136 381h0M87 382h0M90 382h0M92 382h0M97 382h0M98 382h0M99 382h0M100 382h0M101 382h0M102 382h0M103 382h0M104 382h0M105 382h0M106 382h0M107 382h0M108 382h0M109 382h0M110 382h0M111 382h0M114 382h0M115 382h0M117 382h0M120 382h0M121 382h0M123 382h0M124 382h0M129 382h0M134 382h0M138 382h0M139 382h0M87 383h0M88 383h0M89 383h0M90 383h0M92 383h0M93 383h0M94 383h0M95 383h0M96 383h0M97 383h0M99 383h0M101 383h0M102 383h0M103 383h0M104 383h0M106 383h0M107 383h0M108 383h0M109 383h0M110 383h0M111 383h0M113 383h0M117 383h0M118 383h0M123 383h0M126 383h0M128 383h0M132 383h0M137 383h0M88 384h0M101 384h0M104 384h0M117 384h0M95 385h0M97 385h0M99 385h0M107 385h0M113 385h0M123 385h0M124 385h0M87 386h0M88 386h0M91 386h0M92 386h0M93 386h0M96 386h0M98 386h0M99 386h0M100 386h0M101 386h0M103 386h0M104 386h0M105 386h0M109 386h0M112 386h0M115 386h0M122 386h0M123 386h0M130 386h0" stroke="#000" stroke-width="1.5" stroke-linecap="square"/>
<path transform="translate(0.75 0.75)" d="M205 325h0M239 327h0M200 329h0M245 330h0M220 331h0M230 331h0M239 331h0M154 333h0M231 336h0M151 338h0M224 338h0M134 340h0M158 342h0M171 342h0M142 343h0M144 347h0M177 348h0M203 349h0M135 350h0M129 351h0M199 351h0M132 352h0M237 352h0M145 353h0M165 354h0M219 354h0M236 354h0M129 358h0M167 358h0M186 358h0M157 359h0M161 360h0M171 360h0M147 361h0M164 361h0M136 363h0M157 363h0M127 364h0M145 364h0M155 364h0M171 365h0M138 366h0M142 366h0M120 367h0M143 367h0M157 368h0M165 368h0M146 369h0M134 370h0M135 370h0M139 370h0M250 370h0M163 371h0M168 371h0M134 372h0M141 372h0M150 372h0M156 372h0M157 372h0M227 372h0M128 373h0M134 373h0M163 373h0M171 373h0M224 374h0M111 375h0M156 375h0M135 376h0M247 376h0M143 377h0M150 377h0M164 377h0M148 378h0M157 378h0M162 378h0M109 379h0M130 379h0M161 379h0M164 379h0M211 379h0M135 380h0M167 380h0M130 381h0M148 381h0M116 382h0M131 382h0M151 382h0M145 383h0M204 383h0M138 384h0M161 384h0M124 385h0M147 386h0M148 386h0M191 386h0" stroke="#999" stroke-width="1.5" stroke-linecap="square"/>
<path transform="translate(0.75 0.75)" d="M328 323h0M333 323h0M340 323h0M349 323h0M351 323h0M354 323h0M359 323h0M365 323h0M376 323h0M380 323h0M430 323h0M332 324h0M335 324h0M337 324h0M338 324h0M346 324h0M351 324h0M353 324h0M366 324h0M367 324h0M373 324h0M381 324h0M382 324h0M387 324h0M389 324h0M392 324h0M394 324h0M397 324h0M326 325h0M330 325h0M333 325h0M340 325h0M351 325h0M355 325h0M356 325h0M361 325h0M365 325h0M368 325h0M369 325h0M374 325h0M380 325h0M382 325h0M395 325h0M328 326h0M329 326h0M331 326h0M333 326h0M334 326h0M337 326h0M341 326h0M342 326h0M349 326h0M351 326h0M352 326h0M355 326h0M360 326h0M368 326h0M369 326h0M371 326h0M372 326h0M374 326h0M379 326h0M382 326h0M331 327h0M337 327h0M340 327h0M346 327h0M347 327h0M349 327h0M353 327h0M355 327h0M356 327h0M357 327h0M358 327h0M361 327h0M364 327h0M371 327h0M372 327h0M374 327h0M376 327h0M378 327h0M382 327h0M383 327h0M387 327h0M389 327h0M392 327h0M394 327h0M395 327h0M396 327h0M397 327h0M403 327h0M327 328h0M334 328h0M335 328h0M338 328h0M340 328h0M341 328h0M350 328h0M351 328h0M353 328h0M354 328h0M355 328h0M360 328h0M362 328h0M365 328h0M366 328h0M370 328h0M375 328h0M376 328h0M379 328h0M381 328h0M382 328h0M385 328h0M387 328h0M403 328h0M331 329h0M332 329h0M340 329h0M341 329h0M342 329h0M344 329h0M346 329h0M349 329h0M353 329h0M354 329h0M355 329h0M358 329h0M362 329h0M363 329h0M364 329h0M365 329h0M368 329h0M369 329h0M378 329h0M380 329h0M381 329h0M384 329h0M386 329h0M388 329h0M391 329h0M392 329h0M399 329h0M335 330h0M340 330h0M347 330h0M353 330h0M356 330h0M360 330h0M362 330h0M363 330h0M365 330h0M366 330h0M367 330h0M368 330h0M371 330h0M381 330h0M382 330h0M387 330h0M390 330h0M391 330h0M392 330h0M406 330h0M328 331h0M329 331h0M339 331h0M340 331h0M344 331h0M345 331h0M348 331h0M352 331h0M354 331h0M355 331h0M357 331h0M358 331h0M361 331h0M362 331h0M375 331h0M377 331h0M378 331h0M380 331h0M390 331h0M397 331h0M399 331h0M336 332h0M339 332h0M341 332h0M345 332h0M346 332h0M349 332h0M351 332h0M358 332h0M359 332h0M361 332h0M362 332h0M363 332h0M364 332h0M367 332h0M369 332h0M371 332h0M375 332h0M379 332h0M381 332h0M382 332h0M385 332h0M389 332h0M391 332h0M394 332h0M397 332h0M399 332h0M403 332h0M328 333h0M329 333h0M334 333h0M336 333h0M338 333h0M342 333h0M348 333h0M355 333h0M356 333h0M360 333h0M363 333h0M366 333h0M368 333h0M373 333h0M374 333h0M379 333h0M382 333h0M387 333h0M390 333h0M394 333h0M396 333h0M398 333h0M403 333h0M410 333h0M421 333h0M328 334h0M331 334h0M333 334h0M336 334h0M338 334h0M346 334h0M347 334h0M348 334h0M350 334h0M351 334h0M358 334h0M360 334h0M361 334h0M362 334h0M363 334h0M364 334h0M367 334h0M369 334h0M372 334h0M373 334h0M374 334h0M375 334h0M377 334h0M397 334h0M400 334h0M417 334h0M329 335h0M336 335h0M337 335h0M340 335h0M341 335h0M343 335h0M344 335h0M347 335h0M349 335h0M352 335h0M355 335h0M359 335h0M360 335h0M361 335h0M364 335h0M365 335h0M368 335h0M369 335h0M377 335h0M378 335h0M387 335h0M388 335h0M392 335h0M396 335h0M398 335h0M399 335h0M410 335h0M333 336h0M336 336h0M337 336h0M342 336h0M345 336h0M347 336h0M349 336h0M351 336h0M354 336h0M357 336h0M358 336h0M360 336h0M362 336h0M363 336h0M366 336h0M373 336h0M375 336h0M380 336h0M383 336h0M385 336h0M391 336h0M394 336h0M397 336h0M398 336h0M399 336h0M403 336h0M326 337h0M328 337h0M329 337h0M330 337h0M331 337h0M332 337h0M341 337h0M344 337h0M349 337h0M350 337h0M351 337h0M352 337h0M355 337h0M357 337h0M363 337h0M366 337h0M367 337h0M369 337h0M370 337h0M371 337h0M373 337h0M374 337h0M375 337h0M379 337h0M386 337h0M391 337h0M392 337h0M395 337h0M397 337h0M398 337h0M401 337h0M404 337h0M418 337h0M328 338h0M335 338h0M337 338h0M339 338h0M340 338h0M341 338h0M343 338h0M344 338h0M345 338h0M348 338h0M351 338h0M354 338h0M355 338h0M356 338h0M358 338h0M362 338h0M363 338h0M368 338h0M371 338h0M374 338h0M376 338h0M379 338h0M381 338h0M382 338h0M383 338h0M388 338h0M390 338h0M400 338h0M403 338h0M406 338h0M407 338h0M423 338h0M333 339h0M336 339h0M339 339h0M342 339h0M344 339h0M345 339h0M347 339h0M349 339h0M350 339h0M351 339h0M353 339h0M357 339h0M359 339h0M360 339h0M363 339h0M364 339h0M365 339h0M366 339h0M369 339h0M373 339h0M376 339h0M378 339h0M382 339h0M383 339h0M388 339h0M390 339h0M403 339h0M404 339h0M411 339h0M418 339h0M330 340h0M337 340h0M338 340h0M341 340h0M348 340h0M349 340h0M353 340h0M356 340h0M357 340h0M362 340h0M363 340h0M364 340h0M365 340h0M366 340h0M367 340h0M368 340h0M369 340h0M375 340h0M376 340h0M377 340h0M379 340h0M381 340h0M386 340h0M387 340h0M388 340h0M390 340h0M392 340h0M394 340h0M335 341h0M336 341h0M337 341h0M339 341h0M341 341h0M343 341h0M344 341h0M348 341h0M350 341h0M351 341h0M355 341h0M360 341h0M361 341h0M363 341h0M364 341h0M365 341h0M367 341h0M368 341h0M369 341h0M371 341h0M376 341h0M377 341h0M379 341h0M381 341h0M384 341h0M388 341h0M390 341h0M392 341h0M394 341h0M396 341h0M397 341h0M398 341h0M399 341h0M406 341h0M412 341h0M418 341h0M329 342h0M338 342h0M340 342h0M344 342h0M346 342h0M351 342h0M352 342h0M354 342h0M359 342h0M360 342h0M361 342h0M364 342h0M365 342h0M367 342h0M368 342h0M370 342h0M372 342h0M373 342h0M374 342h0M375 342h0M376 342h0M378 342h0M381 342h0M382 342h0M384 342h0M386 342h0M387 342h0M388 342h0M390 342h0M393 342h0M397 342h0M399 342h0M400 342h0M413 342h0M331 343h0M334 343h0M335 343h0M338 343h0M339 343h0M342 343h0M344 343h0M347 343h0M348 343h0M351 343h0M354 343h0M359 343h0M360 343h0M364 343h0M367 343h0M368 343h0M370 343h0M371 343h0M372 343h0M374 343h0M375 343h0M376 343h0M380 343h0M381 343h0M385 343h0M386 343h0M387 343h0M389 343h0M391 343h0M392 343h0M394 343h0M395 343h0M397 343h0M398 343h0M399 343h0M408 343h0M413 343h0M418 343h0M329 344h0M331 344h0M335 344h0M336 344h0M345 344h0M348 344h0M349 344h0M353 344h0M355 344h0M356 344h0M357 344h0M359 344h0M363 344h0M369 344h0M370 344h0M371 344h0M372 344h0M373 344h0M377 344h0M378 344h0M381 344h0M382 344h0M384 344h0M387 344h0M388 344h0M390 344h0M391 344h0M392 344h0M396 344h0M397 344h0M398 344h0M399 344h0M409 344h0M419 344h0M427 344h0M326 345h0M329 345h0M332 345h0M335 345h0M336 345h0M338 345h0M341 345h0M342 345h0M344 345h0M349 345h0M353 345h0M354 345h0M357 345h0M358 345h0M359 345h0M360 345h0M361 345h0M362 345h0M366 345h0M367 345h0M368 345h0M369 345h0M370 345h0M371 345h0M372 345h0M374 345h0M375 345h0M377 345h0M378 345h0M379 345h0M381 345h0M383 345h0M390 345h0M393 345h0M394 345h0M395 345h0M399 345h0M327 346h0M328 346h0M332 346h0M333 346h0M334 346h0M336 346h0M339 346h0M340 346h0M343 346h0M345 346h0M347 346h0M348 346h0M349 346h0M350 346h0M351 346h0M352 346h0M353 346h0M354 346h0M355 346h0M357 346h0M358 346h0M360 346h0M361 346h0M362 346h0M363 346h0M364 346h0M370 346h0M371 346h0M374 346h0M375 346h0M376 346h0M377 346h0M379 346h0M386 346h0M388 346h0M389 346h0M390 346h0M393 346h0M395 346h0M396 346h0M399 346h0M411 346h0M413 346h0M418 346h0M326 347h0M330 347h0M333 347h0M339 347h0M343 347h0M344 347h0M345 347h0M351 347h0M352 347h0M353 347h0M355 347h0M356 347h0M358 347h0M360 347h0M361 347h0M363 347h0M366 347h0M367 347h0M369 347h0M371 347h0M375 347h0M376 347h0M377 347h0M379 347h0M381 347h0M382 347h0M383 347h0M384 347h0M392 347h0M393 347h0M394 347h0M395 347h0M399 347h0M400 347h0M411 347h0M413 347h0M419 347h0M326 348h0M328 348h0M333 348h0M337 348h0M338 348h0M339 348h0M340 348h0M344 348h0M345 348h0M347 348h0M348 348h0M350 348h0M351 348h0M353 348h0M354 348h0M355 348h0M356 348h0M357 348h0M358 348h0M359 348h0M360 348h0M361 348h0M363 348h0M364 348h0M365 348h0M367 348h0M370 348h0M371 348h0M373 348h0M376 348h0M377 348h0M378 348h0M379 348h0M382 348h0M383 348h0M387 348h0M389 348h0M390 348h0M394 348h0M403 348h0M408 348h0M326 349h0M331 349h0M333 349h0M337 349h0M338 349h0M339 349h0M341 349h0M343 349h0M344 349h0M346 349h0M347 349h0M348 349h0M349 349h0M350 349h0M351 349h0M353 349h0M354 349h0M355 349h0M359 349h0M361 349h0M363 349h0M365 349h0M367 349h0M369 349h0M370 349h0M371 349h0M372 349h0M373 349h0M374 349h0M375 349h0M376 349h0M377 349h0M378 349h0M379 349h0M382 349h0M384 349h0M387 349h0M388 349h0M389 349h0M391 349h0M394 349h0M397 349h0M404 349h0M407 349h0M408 349h0M411 349h0M415 349h0M329 350h0M334 350h0M336 350h0M339 350h0M341 350h0M343 350h0M344 350h0M346 350h0M347 350h0M349 350h0M351 350h0M352 350h0M353 350h0M354 350h0M357 350h0M358 350h0M359 350h0M360 350h0M362 350h0M363 350h0M364 350h0M366 350h0M368 350h0M370 350h0M372 350h0M373 350h0M377 350h0M378 350h0M380 350h0M382 350h0M383 350h0M386 350h0M389 350h0M395 350h0M401 350h0M404 350h0M405 350h0M407 350h0M418 350h0M421 350h0M423 350h0M327 351h0M330 351h0M335 351h0M336 351h0M339 351h0M341 351h0M343 351h0M344 351h0M346 351h0M348 351h0M349 351h0M351 351h0M353 351h0M356 351h0M360 351h0M363 351h0M364 351h0M365 351h0M367 351h0M368 351h0M371 351h0M373 351h0M375 351h0M378 351h0M379 351h0M380 351h0M382 351h0M383 351h0M384 351h0M388 351h0M390 351h0M391 351h0M395 351h0M401 351h0M404 351h0M405 351h0M410 351h0M411 351h0M417 351h0M426 351h0M327 352h0M328 352h0M329 352h0M330 352h0M332 352h0M334 352h0M335 352h0M337 352h0M338 352h0M339 352h0M341 352h0M343 352h0M344 352h0M346 352h0M347 352h0M348 352h0M349 352h0M351 352h0M352 352h0M353 352h0M354 352h0M355 352h0M356 352h0M357 352h0M358 352h0M360 352h0M362 352h0M363 352h0M364 352h0M365 352h0M367 352h0M368 352h0M369 352h0M370 352h0M371 352h0M372 352h0M373 352h0M375 352h0M377 352h0M380 352h0M381 352h0M382 352h0M387 352h0M389 352h0M391 352h0M392 352h0M396 352h0M397 352h0M400 352h0M326 353h0M329 353h0M330 353h0M336 353h0M338 353h0M340 353h0M341 353h0M342 353h0M343 353h0M344 353h0M345 353h0M346 353h0M350 353h0M351 353h0M352 353h0M353 353h0M356 353h0M357 353h0M359 353h0M363 353h0M367 353h0M368 353h0M369 353h0M371 353h0M372 353h0M373 353h0M376 353h0M379 353h0M380 353h0M382 353h0M386 353h0M389 353h0M390 353h0M392 353h0M394 353h0M396 353h0M399 353h0M405 353h0M406 353h0M407 353h0M408 353h0M409 353h0M326 354h0M329 354h0M330 354h0M336 354h0M337 354h0M340 354h0M342 354h0M343 354h0M345 354h0M346 354h0M348 354h0M350 354h0M351 354h0M353 354h0M354 354h0M355 354h0M356 354h0M357 354h0M359 354h0M360 354h0M361 354h0M362 354h0M363 354h0M367 354h0M368 354h0M369 354h0M375 354h0M376 354h0M379 354h0M380 354h0M381 354h0M382 354h0M383 354h0M384 354h0M385 354h0M386 354h0M387 354h0M388 354h0M389 354h0M390 354h0M391 354h0M392 354h0M397 354h0M398 354h0M399 354h0M402 354h0M403 354h0M404 354h0M412 354h0M413 354h0M326 355h0M330 355h0M334 355h0M335 355h0M336 355h0M337 355h0M338 355h0M340 355h0M341 355h0M343 355h0M344 355h0M346 355h0M349 355h0M350 355h0M351 355h0M352 355h0M354 355h0M355 355h0M356 355h0M360 355h0M361 355h0M362 355h0M364 355h0M366 355h0M367 355h0M371 355h0M372 355h0M374 355h0M375 355h0M376 355h0M378 355h0M379 355h0M380 355h0M381 355h0M384 355h0M388 355h0M390 355h0M391 355h0M393 355h0M396 355h0M397 355h0M402 355h0M407 355h0M414 355h0M421 355h0M326 356h0M329 356h0M330 356h0M331 356h0M333 356h0M334 356h0M339 356h0M340 356h0M343 356h0M345 356h0M346 356h0M347 356h0M348 356h0M349 356h0M354 356h0M355 356h0M356 356h0M357 356h0M358 356h0M359 356h0M361 356h0M362 356h0M364 356h0M365 356h0M366 356h0M367 356h0M368 356h0M369 356h0M373 356h0M375 356h0M377 356h0M378 356h0M379 356h0M380 356h0M382 356h0M383 356h0M385 356h0M387 356h0M391 356h0M394 356h0M397 356h0M400 356h0M401 356h0M402 356h0M405 356h0M407 356h0M408 356h0M409 356h0M422 356h0M326 357h0M327 357h0M328 357h0M329 357h0M332 357h0M333 357h0M336 357h0M337 357h0M338 357h0M339 357h0M340 357h0M341 357h0M342 357h0M344 357h0M348 357h0M349 357h0M351 357h0M353 357h0M354 357h0M356 357h0M357 357h0M358 357h0M359 357h0M363 357h0M366 357h0M367 357h0M368 357h0M369 357h0M370 357h0M372 357h0M374 357h0M375 357h0M378 357h0M379 357h0M380 357h0M382 357h0M389 357h0M390 357h0M391 357h0M393 357h0M396 357h0M400 357h0M401 357h0M430 357h0M326 358h0M330 358h0M331 358h0M332 358h0M333 358h0M334 358h0M335 358h0M336 358h0M337 358h0M339 358h0M342 358h0M343 358h0M344 358h0M345 358h0M346 358h0M347 358h0M349 358h0M351 358h0M352 358h0M353 358h0M354 358h0M355 358h0M356 358h0M357 358h0M359 358h0M361 358h0M363 358h0M364 358h0M366 358h0M369 358h0M370 358h0M371 358h0M372 358h0M374 358h0M376 358h0M380 358h0M384 358h0M385 358h0M388 358h0M389 358h0M390 358h0M391 358h0M392 358h0M393 358h0M394 358h0M399 358h0M400 358h0M403 358h0M406 358h0M407 358h0M408 358h0M413 358h0M416 358h0M326 359h0M327 359h0M329 359h0M330 359h0M332 359h0M335 359h0M337 359h0M339 359h0M341 359h0M343 359h0M344 359h0M345 359h0M346 359h0M347 359h0M348 359h0M349 359h0M350 359h0M351 359h0M352 359h0M353 359h0M354 359h0M355 359h0M356 359h0M357 359h0M359 359h0M360 359h0M362 359h0M363 359h0M364 359h0M366 359h0M367 359h0M368 359h0M369 359h0M371 359h0M372 359h0M373 359h0M375 359h0M376 359h0M377 359h0M378 359h0M379 359h0M380 359h0M381 359h0M382 359h0M385 359h0M386 359h0M388 359h0M389 359h0M390 359h0M391 359h0M392 359h0M393 359h0M396 359h0M397 359h0M398 359h0M400 359h0M403 359h0M407 359h0M409 359h0M417 359h0M427 359h0M326 360h0M328 360h0M329 360h0M331 360h0M332 360h0M337 360h0M338 360h0M339 360h0M340 360h0M342 360h0M343 360h0M344 360h0M349 360h0M350 360h0M351 360h0M352 360h0M353 360h0M354 360h0M355 360h0M356 360h0M357 360h0M358 360h0M359 360h0M360 360h0M361 360h0M362 360h0M364 360h0M365 360h0M366 360h0M367 360h0M368 360h0M369 360h0M370 360h0M371 360h0M372 360h0M373 360h0M374 360h0M375 360h0M376 360h0M377 360h0M379 360h0M380 360h0M381 360h0M382 360h0M388 360h0M389 360h0M390 360h0M392 360h0M394 360h0M395 360h0M396 360h0M397 360h0M398 360h0M399 360h0M401 360h0M404 360h0M408 360h0M423 360h0M424 360h0M328 361h0M329 361h0M330 361h0M331 361h0M334 361h0M335 361h0M337 361h0M338 361h0M339 361h0M340 361h0M342 361h0M344 361h0M345 361h0M347 361h0M350 361h0M353 361h0M354 361h0M355 361h0M356 361h0M357 361h0M358 361h0M359 361h0M360 361h0M362 361h0M363 361h0M364 361h0M365 361h0M366 361h0M367 361h0M368 361h0M369 361h0M370 361h0M371 361h0M374 361h0M375 361h0M376 361h0M377 361h0M380 361h0M382 361h0M384 361h0M386 361h0M387 361h0M389 361h0M390 361h0M392 361h0M394 361h0M398 361h0M403 361h0M406 361h0M407 361h0M408 361h0M410 361h0M411 361h0M416 361h0M326 362h0M327 362h0M329 362h0M331 362h0M333 362h0M335 362h0M336 362h0M337 362h0M338 362h0M340 362h0M341 362h0M344 362h0M346 362h0M347 362h0M348 362h0M350 362h0M351 362h0M353 362h0M354 362h0M356 362h0M357 362h0M358 362h0M359 362h0M360 362h0M361 362h0M362 362h0M363 362h0M365 362h0M366 362h0M367 362h0M370 362h0M371 362h0M372 362h0M374 362h0M376 362h0M378 362h0M382 362h0M384 362h0M386 362h0M387 362h0M388 362h0M390 362h0M393 362h0M396 362h0M398 362h0M399 362h0M405 362h0M327 363h0M330 363h0M331 363h0M333 363h0M334 363h0M336 363h0M337 363h0M338 363h0M339 363h0M340 363h0M342 363h0M344 363h0M345 363h0M346 363h0M348 363h0M349 363h0M350 363h0M351 363h0M353 363h0M354 363h0M355 363h0M357 363h0M359 363h0M360 363h0M362 363h0M363 363h0M364 363h0M366 363h0M367 363h0M370 363h0M371 363h0M372 363h0M373 363h0M374 363h0M375 363h0M376 363h0M379 363h0M380 363h0M381 363h0M383 363h0M384 363h0M385 363h0M386 363h0M387 363h0M388 363h0M389 363h0M390 363h0M391 363h0M392 363h0M393 363h0M394 363h0M395 363h0M396 363h0M397 363h0M399 363h0M400 363h0M403 363h0M408 363h0M421 363h0M327 364h0M331 364h0M332 364h0M334 364h0M335 364h0M336 364h0M337 364h0M338 364h0M340 364h0M341 364h0M343 364h0M344 364h0M345 364h0M346 364h0M347 364h0M350 364h0M356 364h0M358 364h0M359 364h0M363 364h0M364 364h0M366 364h0M368 364h0M369 364h0M370 364h0M371 364h0M372 364h0M373 364h0M374 364h0M375 364h0M378 364h0M380 364h0M381 364h0M382 364h0M383 364h0M384 364h0M385 364h0M386 364h0M388 364h0M389 364h0M390 364h0M392 364h0M393 364h0M395 364h0M396 364h0M397 364h0M401 364h0M403 364h0M405 364h0M408 364h0M411 364h0M331 365h0M333 365h0M334 365h0M335 365h0M338 365h0M340 365h0M344 365h0M345 365h0M346 365h0M347 365h0M348 365h0M350 365h0M351 365h0M352 365h0M353 365h0M354 365h0M355 365h0M356 365h0M357 365h0M358 365h0M360 365h0M361 365h0M362 365h0M363 365h0M364 365h0M365 365h0M366 365h0M368 365h0M369 365h0M370 365h0M374 365h0M375 365h0M376 365h0M377 365h0M378 365h0M380 365h0M382 365h0M383 365h0M386 365h0M388 365h0M389 365h0M391 365h0M392 365h0M393 365h0M395 365h0M398 365h0M403 365h0M404 365h0M409 365h0M419 365h0M424 365h0M426 365h0M326 366h0M327 366h0M329 366h0M330 366h0M334 366h0M337 366h0M339 366h0M340 366h0M342 366h0M344 366h0M346 366h0M347 366h0M348 366h0M349 366h0M351 366h0M352 366h0M354 366h0M355 366h0M356 366h0M357 366h0M358 366h0M360 366h0M362 366h0M363 366h0M364 366h0M365 366h0M367 366h0M368 366h0M369 366h0M371 366h0M372 366h0M373 366h0M374 366h0M376 366h0M377 366h0M378 366h0M380 366h0M381 366h0M382 366h0M383 366h0M384 366h0M385 366h0M386 366h0M389 366h0M391 366h0M392 366h0M393 366h0M394 366h0M395 366h0M404 366h0M408 366h0M410 366h0M416 366h0M326 367h0M328 367h0M329 367h0M332 367h0M333 367h0M337 367h0M338 367h0M339 367h0M340 367h0M343 367h0M344 367h0M345 367h0M347 367h0M348 367h0M349 367h0M350 367h0M351 367h0M353 367h0M354 367h0M355 367h0M358 367h0M359 367h0M360 367h0M361 367h0M362 367h0M364 367h0M365 367h0M366 367h0M367 367h0M369 367h0M370 367h0M371 367h0M372 367h0M373 367h0M374 367h0M376 367h0M377 367h0M378 367h0M379 367h0M380 367h0M386 367h0M391 367h0M392 367h0M394 367h0M396 367h0M397 367h0M398 367h0M400 367h0M402 367h0M403 367h0M408 367h0M422 367h0M326 368h0M328 368h0M329 368h0M332 368h0M334 368h0M336 368h0M338 368h0M339 368h0M340 368h0M342 368h0M343 368h0M344 368h0M345 368h0M346 368h0M347 368h0M348 368h0M350 368h0M351 368h0M352 368h0M354 368h0M356 368h0M357 368h0M358 368h0M359 368h0M360 368h0M361 368h0M363 368h0M364 368h0M365 368h0M367 368h0M368 368h0M369 368h0M370 368h0M371 368h0M372 368h0M373 368h0M374 368h0M375 368h0M377 368h0M379 368h0M380 368h0M381 368h0M382 368h0M383 368h0M384 368h0M385 368h0M387 368h0M388 368h0M390 368h0M391 368h0M397 368h0M398 368h0M400 368h0M401 368h0M402 368h0M411 368h0M415 368h0M329 369h0M330 369h0M331 369h0M332 369h0M334 369h0M335 369h0M338 369h0M339 369h0M340 369h0M341 369h0M343 369h0M344 369h0M345 369h0M348 369h0M349 369h0M350 369h0M352 369h0M353 369h0M354 369h0M357 369h0M358 369h0M360 369h0M361 369h0M362 369h0M364 369h0M365 369h0M366 369h0M367 369h0M368 369h0M370 369h0M371 369h0M372 369h0M375 369h0M376 369h0M378 369h0M379 369h0M380 369h0M381 369h0M382 369h0M383 369h0M384 369h0M386 369h0M388 369h0M389 369h0M390 369h0M391 369h0M393 369h0M394 369h0M395 369h0M397 369h0M399 369h0M413 369h0M414 369h0M328 370h0M329 370h0M330 370h0M332 370h0M333 370h0M335 370h0M337 370h0M340 370h0M341 370h0M342 370h0M343 370h0M344 370h0M346 370h0M347 370h0M348 370h0M349 370h0M350 370h0M351 370h0M352 370h0M353 370h0M354 370h0M355 370h0M357 370h0M358 370h0M359 370h0M360 370h0M361 370h0M363 370h0M364 370h0M365 370h0M367 370h0M368 370h0M369 370h0M370 370h0M371 370h0M372 370h0M373 370h0M374 370h0M375 370h0M378 370h0M379 370h0M382 370h0M384 370h0M385 370h0M386 370h0M388 370h0M389 370h0M391 370h0M392 370h0M393 370h0M394 370h0M396 370h0M397 370h0M399 370h0M403 370h0M406 370h0M410 370h0M418 370h0M443 370h0M326 371h0M328 371h0M329 371h0M331 371h0M334 371h0M335 371h0M337 371h0M339 371h0M340 371h0M341 371h0M342 371h0M343 371h0M344 371h0M345 371h0M346 371h0M347 371h0M351 371h0M352 371h0M353 371h0M354 371h0M355 371h0M356 371h0M357 371h0M358 371h0M360 371h0M361 371h0M363 371h0M364 371h0M365 371h0M366 371h0M367 371h0M368 371h0M369 371h0M370 371h0M371 371h0M372 371h0M373 371h0M374 371h0M376 371h0M377 371h0M378 371h0M379 371h0M382 371h0M383 371h0M384 371h0M385 371h0M386 371h0M391 371h0M392 371h0M394 371h0M395 371h0M396 371h0M402 371h0M405 371h0M406 371h0M407 371h0M411 371h0M412 371h0M417 371h0M418 371h0M422 371h0M443 371h0M326 372h0M327 372h0M328 372h0M329 372h0M330 372h0M331 372h0M332 372h0M333 372h0M335 372h0M336 372h0M337 372h0M338 372h0M341 372h0M342 372h0M344 372h0M346 372h0M348 372h0M350 372h0M351 372h0M352 372h0M353 372h0M355 372h0M356 372h0M359 372h0M360 372h0M361 372h0M362 372h0M363 372h0M364 372h0M365 372h0M367 372h0M368 372h0M369 372h0M371 372h0M372 372h0M373 372h0M376 372h0M377 372h0M378 372h0M379 372h0M382 372h0M384 372h0M386 372h0M387 372h0M388 372h0M390 372h0M391 372h0M392 372h0M399 372h0M400 372h0M402 372h0M403 372h0M405 372h0M407 372h0M327 373h0M328 373h0M329 373h0M330 373h0M331 373h0M333 373h0M334 373h0M335 373h0M337 373h0M339 373h0M341 373h0M342 373h0M343 373h0M345 373h0M346 373h0M347 373h0M349 373h0M350 373h0M351 373h0M353 373h0M354 373h0M355 373h0M357 373h0M359 373h0M362 373h0M363 373h0M364 373h0M365 373h0M366 373h0M367 373h0M368 373h0M369 373h0M370 373h0M371 373h0M373 373h0M377 373h0M379 373h0M380 373h0M381 373h0M382 373h0M383 373h0M385 373h0M387 373h0M388 373h0M391 373h0M394 373h0M397 373h0M398 373h0M403 373h0M406 373h0M435 373h0M326 374h0M329 374h0M331 374h0M334 374h0M335 374h0M336 374h0M339 374h0M341 374h0M343 374h0M344 374h0M345 374h0M346 374h0M348 374h0M349 374h0M350 374h0M355 374h0M358 374h0M359 374h0M360 374h0M361 374h0M362 374h0M363 374h0M365 374h0M366 374h0M367 374h0M369 374h0M370 374h0M371 374h0M373 374h0M376 374h0M377 374h0M378 374h0M380 374h0M381 374h0M382 374h0M383 374h0M384 374h0M385 374h0M386 374h0M388 374h0M390 374h0M392 374h0M393 374h0M395 374h0M396 374h0M397 374h0M399 374h0M401 374h0M402 374h0M405 374h0M408 374h0M413 374h0M326 375h0M328 375h0M329 375h0M330 375h0M333 375h0M334 375h0M335 375h0M337 375h0M338 375h0M339 375h0M343 375h0M345 375h0M346 375h0M348 375h0M350 375h0M351 375h0M352 375h0M353 375h0M355 375h0M356 375h0M357 375h0M358 375h0M359 375h0M361 375h0M362 375h0M363 375h0M365 375h0M366 375h0M367 375h0M369 375h0M370 375h0M371 375h0M372 375h0M373 375h0M374 375h0M375 375h0M376 375h0M377 375h0M380 375h0M382 375h0M384 375h0M385 375h0M389 375h0M391 375h0M393 375h0M394 375h0M395 375h0M398 375h0M401 375h0M410 375h0M412 375h0M415 375h0M419 375h0M420 375h0M326 376h0M327 376h0M332 376h0M333 376h0M334 376h0M335 376h0M337 376h0M338 376h0M340 376h0M341 376h0M342 376h0M343 376h0M344 376h0M345 376h0M346 376h0M348 376h0M349 376h0M350 376h0M351 376h0M352 376h0M353 376h0M355 376h0M356 376h0M357 376h0M358 376h0M361 376h0M362 376h0M363 376h0M364 376h0M365 376h0M366 376h0M367 376h0M368 376h0M370 376h0M374 376h0M375 376h0M376 376h0M377 376h0M378 376h0M379 376h0M380 376h0M383 376h0M384 376h0M385 376h0M390 376h0M391 376h0M392 376h0M395 376h0M396 376h0M398 376h0M399 376h0M400 376h0M401 376h0M403 376h0M405 376h0M410 376h0M326 377h0M327 377h0M330 377h0M331 377h0M332 377h0M333 377h0M334 377h0M336 377h0M337 377h0M338 377h0M339 377h0M340 377h0M341 377h0M342 377h0M343 377h0M344 377h0M345 377h0M346 377h0M348 377h0M349 377h0M350 377h0M351 377h0M352 377h0M353 377h0M354 377h0M355 377h0M356 377h0M358 377h0M360 377h0M361 377h0M362 377h0M364 377h0M365 377h0M367 377h0M368 377h0M369 377h0M373 377h0M375 377h0M376 377h0M377 377h0M380 377h0M381 377h0M382 377h0M384 377h0M386 377h0M388 377h0M394 377h0M396 377h0M397 377h0M398 377h0M399 377h0M405 377h0M409 377h0M411 377h0M332 378h0M334 378h0M335 378h0M336 378h0M337 378h0M338 378h0M339 378h0M340 378h0M341 378h0M344 378h0M345 378h0M347 378h0M348 378h0M349 378h0M350 378h0M351 378h0M352 378h0M353 378h0M354 378h0M355 378h0M356 378h0M357 378h0M358 378h0M360 378h0M361 378h0M362 378h0M363 378h0M365 378h0M366 378h0M368 378h0M369 378h0M370 378h0M372 378h0M373 378h0M374 378h0M379 378h0M382 378h0M383 378h0M384 378h0M385 378h0M386 378h0M388 378h0M389 378h0M392 378h0M393 378h0M394 378h0M397 378h0M399 378h0M403 378h0M408 378h0M409 378h0M410 378h0M412 378h0M434 378h0M329 379h0M330 379h0M331 379h0M332 379h0M333 379h0M334 379h0M335 379h0M336 379h0M337 379h0M338 379h0M339 379h0M340 379h0M344 379h0M345 379h0M346 379h0M347 379h0M348 379h0M349 379h0M350 379h0M352 379h0M354 379h0M355 379h0M356 379h0M357 379h0M358 379h0M359 379h0M360 379h0M361 379h0M362 379h0M363 379h0M364 379h0M365 379h0M366 379h0M368 379h0M369 379h0M370 379h0M371 379h0M373 379h0M374 379h0M377 379h0M380 379h0M382 379h0M386 379h0M388 379h0M391 379h0M392 379h0M393 379h0M397 379h0M404 379h0M420 379h0M421 379h0M327 380h0M328 380h0M330 380h0M331 380h0M332 380h0M335 380h0M336 380h0M337 380h0M338 380h0M340 380h0M341 380h0M342 380h0M343 380h0M344 380h0M345 380h0M348 380h0M349 380h0M351 380h0M352 380h0M356 380h0M357 380h0M358 380h0M359 380h0M364 380h0M365 380h0M368 380h0M369 380h0M373 380h0M374 380h0M375 380h0M376 380h0M378 380h0M379 380h0M380 380h0M382 380h0M383 380h0M384 380h0M388 380h0M389 380h0M392 380h0M400 380h0M327 381h0M328 381h0M329 381h0M331 381h0M333 381h0M334 381h0M335 381h0M336 381h0M337 381h0M338 381h0M339 381h0M340 381h0M341 381h0M342 381h0M343 381h0M344 381h0M346 381h0M347 381h0M352 381h0M353 381h0M355 381h0M360 381h0M362 381h0M363 381h0M364 381h0M365 381h0M367 381h0M368 381h0M369 381h0M370 381h0M371 381h0M372 381h0M374 381h0M375 381h0M380 381h0M381 381h0M382 381h0M386 381h0M388 381h0M391 381h0M394 381h0M396 381h0M397 381h0M400 381h0M408 381h0M415 381h0M425 381h0M428 381h0M326 382h0M327 382h0M330 382h0M334 382h0M337 382h0M338 382h0M339 382h0M340 382h0M341 382h0M342 382h0M343 382h0M344 382h0M347 382h0M349 382h0M353 382h0M354 382h0M356 382h0M357 382h0M359 382h0M360 382h0M362 382h0M365 382h0M366 382h0M367 382h0M368 382h0M369 382h0M370 382h0M371 382h0M372 382h0M373 382h0M374 382h0M375 382h0M376 382h0M379 382h0M381 382h0M383 382h0M385 382h0M390 382h0M398 382h0M400 382h0M401 382h0M406 382h0M330 383h0M331 383h0M332 383h0M333 383h0M336 383h0M339 383h0M343 383h0M344 383h0M346 383h0M347 383h0M348 383h0M349 383h0M351 383h0M352 383h0M353 383h0M355 383h0M356 383h0M357 383h0M359 383h0M360 383h0M361 383h0M362 383h0M364 383h0M365 383h0M366 383h0M367 383h0M368 383h0M369 383h0M370 383h0M371 383h0M372 383h0M373 383h0M375 383h0M376 383h0M379 383h0M380 383h0M381 383h0M382 383h0M383 383h0M384 383h0M385 383h0M386 383h0M387 383h0M388 383h0M390 383h0M392 383h0M396 383h0M398 383h0M400 383h0M401 383h0M404 383h0M408 383h0M411 383h0M413 383h0M326 384h0M327 384h0M328 384h0M329 384h0M330 384h0M332 384h0M333 384h0M334 384h0M335 384h0M336 384h0M338 384h0M339 384h0M340 384h0M341 384h0M343 384h0M345 384h0M347 384h0M348 384h0M349 384h0M350 384h0M351 384h0M352 384h0M353 384h0M354 384h0M355 384h0M356 384h0M357 384h0M360 384h0M361 384h0M362 384h0M363 384h0M366 384h0M369 384h0M371 384h0M372 384h0M374 384h0M376 384h0M377 384h0M378 384h0M382 384h0M384 384h0M387 384h0M389 384h0M390 384h0M391 384h0M394 384h0M395 384h0M398 384h0M401 384h0M402 384h0M326 385h0M327 385h0M329 385h0M331 385h0M334 385h0M335 385h0M337 385h0M339 385h0M340 385h0M341 385h0M342 385h0M343 385h0M345 385h0M346 385h0M347 385h0M348 385h0M349 385h0M350 385h0M351 385h0M353 385h0M354 385h0M355 385h0M356 385h0M358 385h0M359 385h0M362 385h0M363 385h0M365 385h0M367 385h0M370 385h0M371 385h0M372 385h0M373 385h0M374 385h0M375 385h0M377 385h0M378 385h0M379 385h0M382 385h0M383 385h0M385 385h0M386 385h0M388 385h0M389 385h0M390 385h0M394 385h0M400 385h0M401 385h0M404 385h0M411 385h0M331 386h0M344 386h0M346 386h0M357 386h0M365 386h0M368 386h0M395 386h0M333 387h0M341 387h0M343 387h0M352 387h0M354 387h0M369 387h0M401 387h0M347 388h0M352 388h0M353 388h0M364 388h0M370 388h0M383 388h0M401 388h0M409 388h0" stroke="#000" stroke-width="1.5" stroke-linecap="square"/>
<path transform="translate(0.75 0.75)" d="M391 323h0M416 325h0M398 327h0M455 327h0M448 328h0M454 328h0M461 330h0M400 336h0M450 338h0M396 342h0M407 343h0M425 343h0M410 345h0M434 346h0M436 346h0M407 347h0M434 348h0M411 349h0M409 350h0M410 352h0M402 353h0M421 353h0M423 354h0M438 354h0M476 355h0M396 356h0M412 356h0M425 358h0M401 359h0M408 359h0M406 361h0M446 362h0M408 363h0M409 364h0M418 364h0M406 367h0M404 368h0M427 368h0M407 369h0M409 369h0M417 369h0M419 369h0M419 370h0M404 371h0M412 371h0M392 372h0M425 372h0M428 373h0M424 374h0M426 375h0M448 375h0M478 375h0M430 376h0M462 376h0M415 377h0M429 378h0M467 379h0M397 380h0M456 382h0M415 384h0M456 384h0M420 387h0" stroke="#999" stroke-width="1.5" stroke-linecap="square"/>
<path transform="translate(1.0 1.0)" d="M87 504h0M88 504h0M105 504h0M105 505h0M93 507h0M89 509h0M95 509h0M100 509h0M107 510h0M91 511h0M102 511h0M87 512h0M88 512h0M93 512h0M94 512h0M94 513h0M108 513h0M92 514h0M97 514h0M98 514h0M104 514h0M88 515h0M90 515h0M100 515h0M87 516h0M93 516h0M94 516h0M99 516h0M100 516h0M105 516h0M89 517h0M90 517h0M102 517h0M87 518h0M89 518h0M95 518h0M106 518h0M94 519h0M108 519h0M87 520h0M92 520h0M94 520h0M96 521h0M97 521h0M102 521h0M108 521h0M88 522h0M90 522h0M93 522h0M90 523h0M95 523h0M99 523h0M103 523h0M121 523h0M104 524h0M87 525h0M93 525h0M117 525h0M88 526h0M92 526h0M94 526h0M87 527h0M88 527h0M90 527h0M94 527h0M96 527h0M100 527h0M101 527h0M106 527h0M87 528h0M90 528h0M95 528h0M99 528h0M114 528h0M93 529h0M88 530h0M92 530h0M100 530h0M96 531h0M87 532h0M89 532h0M91 532h0M92 532h0M94 532h0M97 532h0M102 532h0M108 532h0M93 533h0M94 533h0M100 533h0M93 534h0M94 534h0M101 534h0M104 534h0M111 534h0M96 535h0M87 536h0M92 536h0M94 536h0M96 536h0M99 536h0M104 536h0M117 536h0M99 537h0M103 537h0M105 537h0M89 538h0M90 538h0M93 538h0M96 538h0M101 538h0M104 538h0M117 538h0M93 539h0M100 539h0M109 539h0M110 539h0M90 540h0M91 540h0M94 540h0M97 540h0M103 540h0M112 540h0M89 541h0M91 541h0M98 541h0M101 541h0M102 541h0M87 542h0M94 542h0M99 542h0M100 542h0M105 542h0M108 542h0M109 542h0M124 542h0M87 543h0M93 543h0M95 543h0M99 543h0M100 543h0M104 543h0M105 543h0M107 543h0M121 543h0M87 544h0M90 544h0M92 544h0M98 544h0M100 544h0M101 544h0M105 544h0M106 544h0M107 544h0M119 544h0M122 544h0M90 545h0M93 545h0M94 545h0M97 545h0M116 545h0M93 546h0M96 546h0M97 546h0M103 546h0M105 546h0M107 546h0M112 546h0M113 546h0M94 547h0M97 547h0M98 547h0M99 547h0M106 547h0M109 547h0M90 548h0M92 548h0M93 548h0M94 548h0M98 548h0M99 548h0M104 548h0M105 548h0M107 548h0M120 548h0M87 549h0M89 549h0M91 549h0M94 549h0M96 549h0M97 549h0M98 549h0M103 549h0M104 549h0M108 549h0M111 549h0M114 549h0M115 549h0M125 549h0M130 549h0M94 550h0M96 550h0M98 550h0M101 550h0M107 550h0M109 550h0M110 550h0M117 550h0M88 551h0M94 551h0M95 551h0M96 551h0M106 551h0M107 551h0M112 551h0M113 551h0M122 551h0M126 551h0M134 551h0M88 552h0M90 552h0M92 552h0M95 552h0M97 552h0M100 552h0M101 552h0M107 552h0M109 552h0M110 552h0M115 552h0M126 552h0M152 552h0M88 553h0M89 553h0M90 553h0M91 553h0M95 553h0M97 553h0M98 553h0M99 553h0M100 553h0M102 553h0M103 553h0M104 553h0M105 553h0M106 553h0M108 553h0M110 553h0M115 553h0M90 554h0M91 554h0M92 554h0M93 554h0M95 554h0M99 554h0M101 554h0M102 554h0M103 554h0M105 554h0M106 554h0M107 554h0M108 554h0M111 554h0M112 554h0M116 554h0M120 554h0M128 554h0M129 554h0M88 555h0M89 555h0M91 555h0M92 555h0M93 555h0M96 555h0M97 555h0M98 555h0M100 555h0M102 555h0M103 555h0M106 555h0M109 555h0M113 555h0M114 555h0M119 555h0M121 555h0M128 555h0M87 556h0M89 556h0M91 556h0M92 556h0M93 556h0M94 556h0M95 556h0M96 556h0M98 556h0M99 556h0M100 556h0M101 556h0M102 556h0M103 556h0M104 556h0M106 556h0M109 556h0M111 556h0M112 556h0M113 556h0M115 556h0M117 556h0M119 556h0M121 556h0M125 556h0M127 556h0M89 557h0M91 557h0M92 557h0M95 557h0M96 557h0M98 557h0M99 557h0M100 557h0M101 557h0M102 557h0M103 557h0M106 557h0M108 557h0M109 557h0M110 557h0M111 557h0M113 557h0M118 557h0M119 557h0M122 557h0M130 557h0M91 558h0M93 558h0M94 558h0M95 558h0M96 558h0M97 558h0M98 558h0M100 558h0M101 558h0M102 558h0M103 558h0M104 558h0M105 558h0M106 558h0M108 558h0M109 558h0M110 558h0M113 558h0M114 558h0M115 558h0M116 558h0M118 558h0M121 558h0M127 558h0M129 558h0M87 559h0M88 559h0M90 559h0M92 559h0M94 559h0M95 559h0M96 559h0M97 559h0M98 559h0M99 559h0M100 559h0M103 559h0M105 559h0M106 559h0M107 559h0M108 559h0M109 559h0M111 559h0M112 559h0M113 559h0M117 559h0M118 559h0M124 559h0M126 559h0M133 559h0M139 559h0M87 560h0M88 560h0M89 560h0M92 560h0M93 560h0M94 560h0M95 560h0M97 560h0M98 560h0M99 560h0M100 560h0M101 560h0M102 560h0M103 560h0M104 560h0M105 560h0M107 560h0M108 560h0M109 560h0M111 560h0M112 560h0M113 560h0M124 560h0M129 560h0M130 560h0M174 560h0M87 561h0M88 561h0M89 561h0M90 561h0M91 561h0M92 561h0M94 561h0M96 561h0M97 561h0M98 561h0M99 561h0M101 561h0M102 561h0M103 561h0M104 561h0M106 561h0M109 561h0M110 561h0M111 561h0M112 561h0M113 561h0M115 561h0M116 561h0M119 561h0M125 561h0M126 561h0M127 561h0M134 561h0M88 562h0M89 562h0M90 562h0M91 562h0M92 562h0M93 562h0M94 562h0M95 562h0M96 562h0M97 562h0M98 562h0M101 562h0M104 562h0M107 562h0M108 562h0M110 562h0M111 562h0M112 562h0M113 562h0M114 562h0M115 562h0M116 562h0M117 562h0M119 562h0M120 562h0M122 562h0M124 562h0M225 562h0M90 563h0M92 563h0M93 563h0M94 563h0M95 563h0M98 563h0M99 563h0M100 563h0M101 563h0M102 563h0M104 563h0M105 563h0M106 563h0M108 563h0M109 563h0M111 563h0M112 563h0M113 563h0M114 563h0M116 563h0M117 563h0M119 563h0M121 563h0M122 563h0M124 563h0M125 563h0M130 563h0M131 563h0M252 563h0M88 564h0M90 564h0M91 564h0M92 564h0M93 564h0M94 564h0M95 564h0M96 564h0M97 564h0M98 564h0M99 564h0M100 564h0M103 564h0M104 564h0M106 564h0M107 564h0M109 564h0M110 564h0M111 564h0M113 564h0M114 564h0M115 564h0M116 564h0M119 564h0M121 564h0M125 564h0M127 564h0M135 564h0M247 564h0M87 565h0M88 565h0M89 565h0M90 565h0M91 565h0M92 565h0M93 565h0M95 565h0M96 565h0M98 565h0M99 565h0M100 565h0M101 565h0M102 565h0M103 565h0M104 565h0M105 565h0M106 565h0M109 565h0M111 565h0M113 565h0M114 565h0M115 565h0M117 565h0M118 565h0M119 565h0M121 565h0M122 565h0M125 565h0M129 565h0M87 566h0M90 566h0M91 566h0M93 566h0M94 566h0M95 566h0M97 566h0M98 566h0M99 566h0M100 566h0M101 566h0M105 566h0M106 566h0M107 566h0M109 566h0M110 566h0M111 566h0M112 566h0M113 566h0M117 566h0M118 566h0M120 566h0M121 566h0M122 566h0M125 566h0M126 566h0M140 566h0M171 566h0M229 566h0M87 567h0M88 567h0M89 567h0M90 567h0M91 567h0M92 567h0M93 567h0M94 567h0M95 567h0M96 567h0M97 567h0M99 567h0M100 567h0M102 567h0M103 567h0M104 567h0M105 567h0M107 567h0M108 567h0M109 567h0M112 567h0M114 567h0M115 567h0M116 567h0M119 567h0M130 567h0M151 567h0M88 568h0M89 568h0M90 568h0M91 568h0M92 568h0M93 568h0M95 568h0M96 568h0M98 568h0M99 568h0M100 568h0M102 568h0M103 568h0M104 568h0M105 568h0M107 568h0M109 568h0M110 568h0M111 568h0M113 568h0M114 568h0M115 568h0M116 568h0M117 568h0M120 568h0M121 568h0M122 568h0M123 568h0M127 568h0M132 568h0M139 568h0M141 568h0M165 568h0M87 569h0M88 569h0M89 569h0M90 569h0M91 569h0M92 569h0M94 569h0M95 569h0M96 569h0M97 569h0M98 569h0M99 569h0M100 569h0M101 569h0M102 569h0M103 569h0M104 569h0M105 569h0M106 569h0M107 569h0M108 569h0M109 569h0M110 569h0M111 569h0M112 569h0M113 569h0M115 569h0M116 569h0M118 569h0M119 569h0M120 569h0M122 569h0M123 569h0M129 569h0M150 569h0M153 569h0M88 570h0M89 570h0M92 570h0M93 570h0M96 570h0M97 570h0M98 570h0M99 570h0M100 570h0M101 570h0M102 570h0M104 570h0M105 570h0M108 570h0M109 570h0M110 570h0M111 570h0M112 570h0M113 570h0M114 570h0M115 570h0M116 570h0M119 570h0M120 570h0M121 570h0M122 570h0M123 570h0M135 570h0M155 570h0M183 570h0M87 571h0M88 571h0M90 571h0M91 571h0M92 571h0M93 571h0M94 571h0M95 571h0M96 571h0M97 571h0M98 571h0M99 571h0M100 571h0M101 571h0M102 571h0M103 571h0M104 571h0M105 571h0M108 571h0M109 571h0M110 571h0M111 571h0M112 571h0M115 571h0M116 571h0M117 571h0M118 571h0M119 571h0M120 571h0M121 571h0M128 571h0M129 571h0M130 571h0M132 571h0M193 571h0M87 572h0M88 572h0M89 572h0M90 572h0M91 572h0M92 572h0M93 572h0M94 572h0M97 572h0M102 572h0M104 572h0M105 572h0M107 572h0M108 572h0M109 572h0M111 572h0M113 572h0M119 572h0M120 572h0M121 572h0M122 572h0M123 572h0M126 572h0M127 572h0M128 572h0M132 572h0M135 572h0M136 572h0M87 573h0M88 573h0M89 573h0M90 573h0M91 573h0M92 573h0M93 573h0M94 573h0M95 573h0M96 573h0M97 573h0M98 573h0M99 573h0M100 573h0M102 573h0M103 573h0M104 573h0M105 573h0M106 573h0M108 573h0M109 573h0M110 573h0M111 573h0M112 573h0M113 573h0M114 573h0M115 573h0M116 573h0M117 573h0M118 573h0M120 573h0M121 573h0M128 573h0M225 573h0M87 574h0M91 574h0M92 574h0M93 574h0M95 574h0M96 574h0M97 574h0M98 574h0M99 574h0M100 574h0M101 574h0M102 574h0M104 574h0M106 574h0M108 574h0M111 574h0M112 574h0M113 574h0M114 574h0M117 574h0M118 574h0M120 574h0M122 574h0M127 574h0M134 574h0M147 574h0M168 574h0M87 575h0M90 575h0M91 575h0M92 575h0M93 575h0M94 575h0M98 575h0M99 575h0M103 575h0M104 575h0M105 575h0M106 575h0M107 575h0M108 575h0M109 575h0M110 575h0M111 575h0M112 575h0M113 575h0M115 575h0M116 575h0M117 575h0M119 575h0M122 575h0M125 575h0M126 575h0M136 575h0M138 575h0M87 576h0M88 576h0M89 576h0M90 576h0M91 576h0M92 576h0M93 576h0M94 576h0M98 576h0M100 576h0M102 576h0M103 576h0M105 576h0M106 576h0M107 576h0M108 576h0M109 576h0M110 576h0M112 576h0M114 576h0M116 576h0M121 576h0M122 576h0M124 576h0M125 576h0M178 576h0M87 577h0M88 577h0M89 577h0M90 577h0M91 577h0M92 577h0M93 577h0M94 577h0M95 577h0M96 577h0M97 577h0M98 577h0M99 577h0M100 577h0M101 577h0M102 577h0M104 577h0M106 577h0M107 577h0M108 577h0M109 577h0M110 577h0M111 577h0M113 577h0M114 577h0M115 577h0M116 577h0M117 577h0M119 577h0M131 577h0M136 577h0M87 578h0M89 578h0M90 578h0M92 578h0M94 578h0M95 578h0M96 578h0M97 578h0M98 578h0M99 578h0M100 578h0M101 578h0M102 578h0M103 578h0M104 578h0M105 578h0M106 578h0M107 578h0M108 578h0M109 578h0M110 578h0M111 578h0M112 578h0M114 578h0M115 578h0M116 578h0M117 578h0M119 578h0M120 578h0M121 578h0M122 578h0M125 578h0M87 579h0M88 579h0M89 579h0M92 579h0M95 579h0M96 579h0M100 579h0M101 579h0M102 579h0M103 579h0M106 579h0M110 579h0M111 579h0M113 579h0M114 579h0M116 579h0M118 579h0M120 579h0M124 579h0M125 579h0M129 579h0M132 579h0M133 579h0M135 579h0M159 579h0M87 580h0M88 580h0M89 580h0M91 580h0M92 580h0M94 580h0M96 580h0M97 580h0M98 580h0M99 580h0M100 580h0M102 580h0M103 580h0M104 580h0M105 580h0M106 580h0M107 580h0M108 580h0M109 580h0M111 580h0M112 580h0M114 580h0M116 580h0M122 580h0M127 580h0M129 580h0M132 580h0M138 580h0M243 580h0M87 581h0M89 581h0M90 581h0M91 581h0M92 581h0M94 581h0M95 581h0M96 581h0M97 581h0M98 581h0M100 581h0M102 581h0M103 581h0M104 581h0M105 581h0M106 581h0M107 581h0M109 581h0M110 581h0M112 581h0M113 581h0M114 581h0M117 581h0M118 581h0M119 581h0M122 581h0M127 581h0M134 581h0M139 581h0M158 581h0M227 581h0M87 582h0M90 582h0M92 582h0M94 582h0M95 582h0M101 582h0M102 582h0M103 582h0M104 582h0M105 582h0M106 582h0M107 582h0M108 582h0M109 582h0M110 582h0M111 582h0M112 582h0M113 582h0M114 582h0M115 582h0M116 582h0M118 582h0M120 582h0M122 582h0M130 582h0M131 582h0M134 582h0M88 583h0M89 583h0M90 583h0M91 583h0M93 583h0M94 583h0M96 583h0M99 583h0M100 583h0M101 583h0M102 583h0M103 583h0M104 583h0M105 583h0M109 583h0M110 583h0M111 583h0M112 583h0M114 583h0M116 583h0M117 583h0M121 583h0M122 583h0M123 583h0M124 583h0M125 583h0M126 583h0M129 583h0M133 583h0M161 583h0M87 584h0M88 584h0M89 584h0M90 584h0M91 584h0M92 584h0M93 584h0M94 584h0M96 584h0M97 584h0M98 584h0M100 584h0M101 584h0M103 584h0M104 584h0M105 584h0M107 584h0M108 584h0M109 584h0M110 584h0M111 584h0M112 584h0M113 584h0M115 584h0M117 584h0M119 584h0M130 584h0M87 585h0M88 585h0M89 585h0M90 585h0M91 585h0M93 585h0M94 585h0M95 585h0M96 585h0M97 585h0M98 585h0M99 585h0M100 585h0M101 585h0M102 585h0M103 585h0M104 585h0M105 585h0M106 585h0M107 585h0M109 585h0M110 585h0M111 585h0M112 585h0M113 585h0M114 585h0M115 585h0M118 585h0M119 585h0M120 585h0M121 585h0M129 585h0M161 585h0M227 585h0M250 585h0M88 586h0M96 586h0M99 587h0M109 587h0M92 588h0M103 588h0" stroke="#000" stroke-width="2" stroke-linecap="square"/>
<path transform="translate(1.0 1.0)" d="M338 503h0M364 503h0M365 503h0M342 504h0M349 504h0M353 504h0M364 504h0M353 505h0M357 505h0M342 506h0M349 506h0M352 506h0M355 506h0M362 507h0M364 507h0M346 508h0M353 508h0M359 508h0M364 509h0M376 509h0M339 510h0M361 510h0M340 511h0M337 512h0M350 512h0M352 512h0M359 512h0M339 513h0M341 513h0M342 513h0M361 513h0M364 513h0M367 513h0M342 514h0M345 514h0M350 514h0M351 514h0M369 514h0M341 515h0M358 515h0M360 515h0M364 515h0M334 516h0M343 516h0M347 516h0M348 516h0M365 516h0M338 517h0M357 517h0M363 517h0M372 517h0M343 518h0M355 518h0M360 518h0M374 518h0M336 519h0M350 519h0M351 519h0M355 519h0M359 519h0M364 519h0M366 519h0M369 519h0M341 520h0M346 520h0M356 520h0M362 520h0M364 521h0M367 521h0M387 521h0M345 522h0M348 522h0M351 522h0M353 522h0M361 522h0M370 522h0M379 522h0M338 523h0M348 523h0M359 523h0M365 523h0M366 523h0M367 523h0M368 523h0M334 524h0M344 524h0M346 524h0M366 524h0M355 525h0M363 525h0M366 525h0M391 525h0M360 526h0M361 526h0M339 527h0M341 527h0M345 527h0M401 527h0M341 528h0M342 528h0M359 528h0M396 528h0M345 529h0M355 529h0M359 529h0M364 529h0M351 530h0M361 530h0M364 530h0M366 530h0M367 530h0M345 531h0M347 531h0M349 531h0M354 531h0M358 531h0M378 531h0M337 532h0M338 532h0M342 532h0M347 532h0M355 532h0M356 532h0M360 532h0M365 532h0M368 532h0M382 532h0M391 532h0M399 532h0M333 533h0M344 533h0M346 533h0M351 533h0M353 533h0M355 533h0M370 533h0M339 534h0M341 534h0M346 534h0M362 534h0M363 534h0M364 534h0M368 534h0M346 535h0M349 535h0M350 535h0M354 535h0M358 535h0M367 535h0M372 535h0M376 535h0M347 536h0M348 536h0M361 536h0M369 536h0M370 536h0M374 536h0M390 536h0M340 537h0M342 537h0M346 537h0M348 537h0M350 537h0M351 537h0M353 537h0M355 537h0M360 537h0M363 537h0M364 537h0M366 537h0M368 537h0M373 537h0M379 537h0M337 538h0M342 538h0M345 538h0M346 538h0M347 538h0M354 538h0M357 538h0M367 538h0M369 538h0M372 538h0M386 538h0M389 538h0M402 538h0M334 539h0M338 539h0M339 539h0M346 539h0M348 539h0M349 539h0M350 539h0M351 539h0M352 539h0M360 539h0M361 539h0M381 539h0M388 539h0M398 539h0M335 540h0M336 540h0M338 540h0M340 540h0M342 540h0M345 540h0M346 540h0M347 540h0M350 540h0M353 540h0M354 540h0M356 540h0M371 540h0M378 540h0M403 540h0M479 540h0M333 541h0M334 541h0M338 541h0M341 541h0M350 541h0M353 541h0M355 541h0M356 541h0M358 541h0M360 541h0M365 541h0M367 541h0M375 541h0M376 541h0M379 541h0M387 541h0M393 541h0M398 541h0M403 541h0M486 541h0M334 542h0M339 542h0M340 542h0M343 542h0M346 542h0M347 542h0M349 542h0M354 542h0M359 542h0M360 542h0M362 542h0M364 542h0M366 542h0M369 542h0M377 542h0M384 542h0M385 542h0M390 542h0M391 542h0M395 542h0M337 543h0M340 543h0M346 543h0M350 543h0M352 543h0M356 543h0M368 543h0M372 543h0M376 543h0M378 543h0M380 543h0M384 543h0M389 543h0M390 543h0M395 543h0M402 543h0M486 543h0M333 544h0M336 544h0M341 544h0M342 544h0M346 544h0M350 544h0M351 544h0M352 544h0M353 544h0M354 544h0M355 544h0M358 544h0M366 544h0M369 544h0M371 544h0M375 544h0M377 544h0M381 544h0M385 544h0M390 544h0M396 544h0M400 544h0M404 544h0M415 544h0M442 544h0M333 545h0M335 545h0M339 545h0M342 545h0M345 545h0M347 545h0M348 545h0M349 545h0M351 545h0M353 545h0M355 545h0M356 545h0M363 545h0M364 545h0M369 545h0M370 545h0M372 545h0M379 545h0M382 545h0M385 545h0M386 545h0M390 545h0M400 545h0M336 546h0M340 546h0M341 546h0M342 546h0M344 546h0M345 546h0M346 546h0M349 546h0M353 546h0M354 546h0M355 546h0M356 546h0M361 546h0M363 546h0M364 546h0M370 546h0M374 546h0M375 546h0M378 546h0M382 546h0M385 546h0M387 546h0M388 546h0M392 546h0M395 546h0M398 546h0M401 546h0M337 547h0M340 547h0M341 547h0M342 547h0M343 547h0M344 547h0M346 547h0M349 547h0M351 547h0M353 547h0M354 547h0M355 547h0M356 547h0M358 547h0M359 547h0M362 547h0M364 547h0M366 547h0M368 547h0M370 547h0M374 547h0M375 547h0M379 547h0M381 547h0M382 547h0M383 547h0M385 547h0M390 547h0M396 547h0M397 547h0M408 547h0M410 547h0M414 547h0M333 548h0M334 548h0M336 548h0M341 548h0M345 548h0M346 548h0M353 548h0M355 548h0M356 548h0M360 548h0M364 548h0M368 548h0M369 548h0M374 548h0M377 548h0M378 548h0M381 548h0M384 548h0M388 548h0M391 548h0M395 548h0M402 548h0M407 548h0M408 548h0M415 548h0M469 548h0M333 549h0M334 549h0M339 549h0M342 549h0M343 549h0M346 549h0M347 549h0M349 549h0M350 549h0M351 549h0M353 549h0M354 549h0M355 549h0M357 549h0M358 549h0M360 549h0M361 549h0M362 549h0M366 549h0M367 549h0M369 549h0M372 549h0M376 549h0M385 549h0M387 549h0M390 549h0M395 549h0M398 549h0M399 549h0M400 549h0M402 549h0M403 549h0M406 549h0M408 549h0M333 550h0M340 550h0M341 550h0M344 550h0M345 550h0M346 550h0M347 550h0M348 550h0M351 550h0M353 550h0M355 550h0M356 550h0M359 550h0M361 550h0M362 550h0M365 550h0M369 550h0M371 550h0M372 550h0M373 550h0M374 550h0M377 550h0M379 550h0M383 550h0M386 550h0M387 550h0M389 550h0M390 550h0M391 550h0M394 550h0M398 550h0M400 550h0M402 550h0M404 550h0M409 550h0M337 551h0M339 551h0M340 551h0M341 551h0M343 551h0M344 551h0M346 551h0M349 551h0M350 551h0M352 551h0M356 551h0M357 551h0M358 551h0M361 551h0M363 551h0M366 551h0M367 551h0M368 551h0M370 551h0M371 551h0M372 551h0M373 551h0M376 551h0M377 551h0M379 551h0M380 551h0M384 551h0M388 551h0M389 551h0M392 551h0M393 551h0M394 551h0M396 551h0M399 551h0M400 551h0M405 551h0M407 551h0M408 551h0M410 551h0M422 551h0M338 552h0M339 552h0M341 552h0M342 552h0M344 552h0M345 552h0M348 552h0M353 552h0M354 552h0M357 552h0M358 552h0M360 552h0M362 552h0M365 552h0M366 552h0M368 552h0M370 552h0M371 552h0M373 552h0M374 552h0M375 552h0M376 552h0M378 552h0M380 552h0M382 552h0M383 552h0M385 552h0M386 552h0M387 552h0M388 552h0M389 552h0M395 552h0M397 552h0M398 552h0M399 552h0M401 552h0M404 552h0M405 552h0M409 552h0M413 552h0M454 552h0M340 553h0M343 553h0M345 553h0M346 553h0M348 553h0M351 553h0M352 553h0M353 553h0M355 553h0M356 553h0M357 553h0M358 553h0M363 553h0M365 553h0M366 553h0M367 553h0M369 553h0M372 553h0M373 553h0M374 553h0M375 553h0M378 553h0M379 553h0M384 553h0M385 553h0M386 553h0M389 553h0M391 553h0M394 553h0M395 553h0M397 553h0M398 553h0M402 553h0M404 553h0M407 553h0M334 554h0M335 554h0M340 554h0M341 554h0M342 554h0M343 554h0M344 554h0M346 554h0M347 554h0M348 554h0M349 554h0M350 554h0M351 554h0M353 554h0M355 554h0M356 554h0M357 554h0M358 554h0M359 554h0M360 554h0M361 554h0M362 554h0M363 554h0M364 554h0M368 554h0M370 554h0M372 554h0M373 554h0M374 554h0M375 554h0M376 554h0M377 554h0M379 554h0M383 554h0M384 554h0M385 554h0M389 554h0M390 554h0M391 554h0M393 554h0M397 554h0M399 554h0M401 554h0M403 554h0M405 554h0M416 554h0M333 555h0M335 555h0M337 555h0M340 555h0M341 555h0M344 555h0M346 555h0M347 555h0M348 555h0M350 555h0M353 555h0M354 555h0M355 555h0M356 555h0M357 555h0M358 555h0M359 555h0M361 555h0M362 555h0M363 555h0M366 555h0M367 555h0M368 555h0M369 555h0M370 555h0M371 555h0M375 555h0M379 555h0M381 555h0M382 555h0M383 555h0M384 555h0M386 555h0M388 555h0M389 555h0M391 555h0M392 555h0M393 555h0M395 555h0M396 555h0M402 555h0M405 555h0M406 555h0M333 556h0M335 556h0M336 556h0M337 556h0M339 556h0M340 556h0M341 556h0M342 556h0M343 556h0M344 556h0M345 556h0M346 556h0M347 556h0M348 556h0M349 556h0M350 556h0M351 556h0M353 556h0M354 556h0M355 556h0M356 556h0M357 556h0M359 556h0M360 556h0M362 556h0M363 556h0M364 556h0M365 556h0M366 556h0M370 556h0M371 556h0M373 556h0M377 556h0M378 556h0M379 556h0M381 556h0M383 556h0M384 556h0M385 556h0M388 556h0M389 556h0M390 556h0M397 556h0M400 556h0M406 556h0M410 556h0M417 556h0M424 556h0M428 556h0M438 556h0M333 557h0M334 557h0M336 557h0M337 557h0M338 557h0M340 557h0M341 557h0M342 557h0M343 557h0M344 557h0M345 557h0M346 557h0M347 557h0M348 557h0M350 557h0M351 557h0M352 557h0M353 557h0M354 557h0M357 557h0M358 557h0M359 557h0M360 557h0M361 557h0M362 557h0M363 557h0M364 557h0M365 557h0M366 557h0M367 557h0M369 557h0M371 557h0M373 557h0M375 557h0M376 557h0M378 557h0M379 557h0M380 557h0M381 557h0M383 557h0M385 557h0M386 557h0M387 557h0M389 557h0M390 557h0M391 557h0M392 557h0M393 557h0M394 557h0M398 557h0M399 557h0M410 557h0M416 557h0M333 558h0M335 558h0M336 558h0M341 558h0M342 558h0M343 558h0M349 558h0M350 558h0M351 558h0M352 558h0M353 558h0M354 558h0M355 558h0M356 558h0M357 558h0M358 558h0M359 558h0M362 558h0M363 558h0M365 558h0M366 558h0M369 558h0M370 558h0M371 558h0M372 558h0M373 558h0M374 558h0M376 558h0M379 558h0M382 558h0M383 558h0M384 558h0M385 558h0M386 558h0M387 558h0M388 558h0M389 558h0M390 558h0M391 558h0M392 558h0M393 558h0M395 558h0M396 558h0M397 558h0M401 558h0M402 558h0M407 558h0M411 558h0M412 558h0M414 558h0M415 558h0M434 558h0M334 559h0M335 559h0M337 559h0M338 559h0M339 559h0M340 559h0M341 559h0M342 559h0M344 559h0M345 559h0M346 559h0M348 559h0M349 559h0M351 559h0M352 559h0M353 559h0M354 559h0M355 559h0M356 559h0M358 559h0M359 559h0M360 559h0M361 559h0M362 559h0M363 559h0M365 559h0M366 559h0M367 559h0M369 559h0M371 559h0M373 559h0M374 559h0M377 559h0M380 559h0M381 559h0M382 559h0M383 559h0M384 559h0M385 559h0M386 559h0M387 559h0M388 559h0M390 559h0M392 559h0M394 559h0M395 559h0M396 559h0M399 559h0M400 559h0M402 559h0M334 560h0M335 560h0M336 560h0M337 560h0M338 560h0M339 560h0M340 560h0M341 560h0M342 560h0M343 560h0M344 560h0M345 560h0M346 560h0M347 560h0M348 560h0M349 560h0M350 560h0M352 560h0M353 560h0M356 560h0M357 560h0M359 560h0M360 560h0M361 560h0M364 560h0M365 560h0M368 560h0M369 560h0M371 560h0M372 560h0M373 560h0M375 560h0M376 560h0M378 560h0M379 560h0M380 560h0M384 560h0M385 560h0M386 560h0M387 560h0M389 560h0M391 560h0M393 560h0M394 560h0M395 560h0M398 560h0M399 560h0M402 560h0M403 560h0M405 560h0M410 560h0M418 560h0M450 560h0M333 561h0M334 561h0M335 561h0M337 561h0M338 561h0M340 561h0M341 561h0M343 561h0M344 561h0M345 561h0M347 561h0M349 561h0M350 561h0M351 561h0M353 561h0M358 561h0M360 561h0M361 561h0M362 561h0M363 561h0M364 561h0M365 561h0M366 561h0M367 561h0M368 561h0M369 561h0M370 561h0M371 561h0M373 561h0M374 561h0M377 561h0M380 561h0M383 561h0M384 561h0M385 561h0M388 561h0M392 561h0M394 561h0M395 561h0M396 561h0M398 561h0M403 561h0M406 561h0M408 561h0M409 561h0M411 561h0M417 561h0M419 561h0M333 562h0M336 562h0M337 562h0M340 562h0M342 562h0M343 562h0M344 562h0M345 562h0M346 562h0M348 562h0M349 562h0M350 562h0M351 562h0M352 562h0M353 562h0M356 562h0M357 562h0M360 562h0M361 562h0M364 562h0M365 562h0M366 562h0M367 562h0M369 562h0M370 562h0M372 562h0M373 562h0M374 562h0M375 562h0M377 562h0M381 562h0M383 562h0M385 562h0M386 562h0M387 562h0M388 562h0M389 562h0M391 562h0M392 562h0M393 562h0M394 562h0M395 562h0M396 562h0M397 562h0M398 562h0M399 562h0M400 562h0M403 562h0M404 562h0M406 562h0M407 562h0M410 562h0M411 562h0M414 562h0M415 562h0M416 562h0M334 563h0M339 563h0M340 563h0M344 563h0M345 563h0M346 563h0M347 563h0M348 563h0M351 563h0M352 563h0M354 563h0M356 563h0M357 563h0M358 563h0M360 563h0M361 563h0M363 563h0M366 563h0M367 563h0M369 563h0M370 563h0M371 563h0M372 563h0M373 563h0M374 563h0M375 563h0M377 563h0M378 563h0M379 563h0M382 563h0M383 563h0M384 563h0M385 563h0M386 563h0M387 563h0M388 563h0M390 563h0M391 563h0M394 563h0M395 563h0M396 563h0M397 563h0M398 563h0M399 563h0M400 563h0M403 563h0M404 563h0M406 563h0M409 563h0M412 563h0M335 564h0M336 564h0M338 564h0M341 564h0M342 564h0M343 564h0M346 564h0M347 564h0M348 564h0M349 564h0M350 564h0M351 564h0M352 564h0M356 564h0M358 564h0M359 564h0M362 564h0M363 564h0M364 564h0M365 564h0M367 564h0M368 564h0M369 564h0M370 564h0M371 564h0M373 564h0M374 564h0M377 564h0M378 564h0M379 564h0M381 564h0M383 564h0M384 564h0M385 564h0M386 564h0M387 564h0M388 564h0M389 564h0M390 564h0M391 564h0M393 564h0M394 564h0M395 564h0M396 564h0M397 564h0M398 564h0M399 564h0M401 564h0M403 564h0M404 564h0M405 564h0M408 564h0M409 564h0M410 564h0M414 564h0M333 565h0M335 565h0M336 565h0M338 565h0M339 565h0M341 565h0M343 565h0M344 565h0M345 565h0M346 565h0M347 565h0M348 565h0M349 565h0M350 565h0M351 565h0M352 565h0M354 565h0M355 565h0M356 565h0M357 565h0M358 565h0M362 565h0M363 565h0M364 565h0M365 565h0M366 565h0M367 565h0M368 565h0M369 565h0M370 565h0M371 565h0M372 565h0M376 565h0M377 565h0M378 565h0M379 565h0M380 565h0M384 565h0M385 565h0M386 565h0M387 565h0M388 565h0M389 565h0M390 565h0M393 565h0M394 565h0M395 565h0M397 565h0M398 565h0M399 565h0M400 565h0M401 565h0M402 565h0M403 565h0M405 565h0M407 565h0M408 565h0M409 565h0M411 565h0M414 565h0M415 565h0M334 566h0M335 566h0M339 566h0M342 566h0M343 566h0M345 566h0M346 566h0M348 566h0M349 566h0M350 566h0M351 566h0M352 566h0M354 566h0M355 566h0M356 566h0M358 566h0M359 566h0M360 566h0M361 566h0M362 566h0M364 566h0M365 566h0M367 566h0M368 566h0M369 566h0M370 566h0M372 566h0M373 566h0M375 566h0M377 566h0M378 566h0M379 566h0M382 566h0M383 566h0M384 566h0M385 566h0M386 566h0M387 566h0M388 566h0M390 566h0M391 566h0M392 566h0M393 566h0M394 566h0M395 566h0M396 566h0M397 566h0M399 566h0M401 566h0M402 566h0M403 566h0M405 566h0M408 566h0M412 566h0M333 567h0M337 567h0M338 567h0M339 567h0M342 567h0M343 567h0M344 567h0M345 567h0M347 567h0M348 567h0M349 567h0M350 567h0M351 567h0M352 567h0M353 567h0M356 567h0M357 567h0M358 567h0M359 567h0M361 567h0M362 567h0M363 567h0M365 567h0M367 567h0M369 567h0M370 567h0M371 567h0M372 567h0M373 567h0M375 567h0M376 567h0M377 567h0M378 567h0M379 567h0M381 567h0M382 567h0M383 567h0M384 567h0M385 567h0M386 567h0M387 567h0M388 567h0M390 567h0M391 567h0M392 567h0M393 567h0M395 567h0M396 567h0M399 567h0M400 567h0M401 567h0M403 567h0M404 567h0M405 567h0M408 567h0M411 567h0M413 567h0M334 568h0M335 568h0M336 568h0M337 568h0M338 568h0M340 568h0M341 568h0M343 568h0M345 568h0M347 568h0M348 568h0M349 568h0M350 568h0M351 568h0M352 568h0M353 568h0M356 568h0M359 568h0M360 568h0M361 568h0M363 568h0M364 568h0M366 568h0M367 568h0M368 568h0M369 568h0M371 568h0M372 568h0M373 568h0M374 568h0M375 568h0M376 568h0M378 568h0M380 568h0M381 568h0M382 568h0M383 568h0M384 568h0M385 568h0M389 568h0M390 568h0M391 568h0M392 568h0M393 568h0M394 568h0M396 568h0M397 568h0M398 568h0M399 568h0M400 568h0M402 568h0M403 568h0M406 568h0M407 568h0M409 568h0M410 568h0M413 568h0M333 569h0M334 569h0M335 569h0M336 569h0M337 569h0M338 569h0M339 569h0M340 569h0M341 569h0M342 569h0M343 569h0M344 569h0M345 569h0M346 569h0M347 569h0M348 569h0M349 569h0M350 569h0M351 569h0M352 569h0M353 569h0M354 569h0M356 569h0M357 569h0M358 569h0M359 569h0M360 569h0M362 569h0M364 569h0M366 569h0M367 569h0M368 569h0M369 569h0M370 569h0M371 569h0M372 569h0M373 569h0M374 569h0M375 569h0M376 569h0M377 569h0M378 569h0M379 569h0M380 569h0M382 569h0M385 569h0M386 569h0M387 569h0M388 569h0M389 569h0M390 569h0M392 569h0M393 569h0M394 569h0M395 569h0M397 569h0M398 569h0M399 569h0M400 569h0M401 569h0M402 569h0M403 569h0M406 569h0M408 569h0M412 569h0M413 569h0M414 569h0M333 570h0M334 570h0M335 570h0M336 570h0M338 570h0M339 570h0M340 570h0M342 570h0M345 570h0M346 570h0M347 570h0M348 570h0M349 570h0M350 570h0M351 570h0M352 570h0M353 570h0M356 570h0M357 570h0M359 570h0M360 570h0M361 570h0M363 570h0M364 570h0M366 570h0M367 570h0M368 570h0M369 570h0M370 570h0M371 570h0M372 570h0M373 570h0M376 570h0M377 570h0M378 570h0M380 570h0M381 570h0M383 570h0M384 570h0M385 570h0M386 570h0M387 570h0M388 570h0M391 570h0M392 570h0M394 570h0M395 570h0M396 570h0M399 570h0M400 570h0M401 570h0M402 570h0M406 570h0M410 570h0M335 571h0M336 571h0M337 571h0M338 571h0M339 571h0M341 571h0M342 571h0M343 571h0M347 571h0M348 571h0M349 571h0M350 571h0M352 571h0M353 571h0M354 571h0M355 571h0M356 571h0M357 571h0M358 571h0M359 571h0M360 571h0M362 571h0M363 571h0M364 571h0M365 571h0M366 571h0M367 571h0M368 571h0M369 571h0M371 571h0M373 571h0M375 571h0M376 571h0M377 571h0M378 571h0M379 571h0M380 571h0M383 571h0M385 571h0M386 571h0M387 571h0M388 571h0M389 571h0M390 571h0M392 571h0M395 571h0M398 571h0M401 571h0M402 571h0M403 571h0M405 571h0M407 571h0M410 571h0M413 571h0M333 572h0M334 572h0M335 572h0M339 572h0M340 572h0M341 572h0M342 572h0M343 572h0M344 572h0M345 572h0M347 572h0M348 572h0M349 572h0M351 572h0M353 572h0M354 572h0M357 572h0M358 572h0M359 572h0M360 572h0M361 572h0M364 572h0M365 572h0M367 572h0M368 572h0M369 572h0M370 572h0M371 572h0M372 572h0M374 572h0M375 572h0M377 572h0M379 572h0M380 572h0M381 572h0M382 572h0M383 572h0M384 572h0M385 572h0M386 572h0M387 572h0M388 572h0M390 572h0M392 572h0M393 572h0M394 572h0M395 572h0M397 572h0M398 572h0M401 572h0M402 572h0M403 572h0M407 572h0M408 572h0M409 572h0M411 572h0M333 573h0M334 573h0M335 573h0M337 573h0M338 573h0M340 573h0M342 573h0M343 573h0M344 573h0M345 573h0M346 573h0M347 573h0M348 573h0M349 573h0M350 573h0M351 573h0M352 573h0M354 573h0M356 573h0M357 573h0M358 573h0M359 573h0M361 573h0M363 573h0M364 573h0M365 573h0M366 573h0M367 573h0M368 573h0M369 573h0M370 573h0M371 573h0M372 573h0M376 573h0M377 573h0M379 573h0M380 573h0M381 573h0M382 573h0M384 573h0M387 573h0M388 573h0M389 573h0M390 573h0M391 573h0M392 573h0M394 573h0M396 573h0M397 573h0M402 573h0M404 573h0M407 573h0M410 573h0M333 574h0M334 574h0M335 574h0M336 574h0M338 574h0M339 574h0M340 574h0M341 574h0M343 574h0M344 574h0M345 574h0M346 574h0M348 574h0M349 574h0M351 574h0M353 574h0M354 574h0M355 574h0M356 574h0M358 574h0M359 574h0M360 574h0M364 574h0M365 574h0M366 574h0M367 574h0M369 574h0M371 574h0M372 574h0M374 574h0M376 574h0M377 574h0M378 574h0M379 574h0M381 574h0M382 574h0M383 574h0M384 574h0M385 574h0M386 574h0M387 574h0M388 574h0M389 574h0M390 574h0M391 574h0M393 574h0M394 574h0M395 574h0M396 574h0M397 574h0M398 574h0M399 574h0M400 574h0M402 574h0M408 574h0M417 574h0M334 575h0M335 575h0M336 575h0M337 575h0M338 575h0M339 575h0M340 575h0M341 575h0M342 575h0M343 575h0M344 575h0M345 575h0M346 575h0M348 575h0M349 575h0M350 575h0M351 575h0M352 575h0M353 575h0M354 575h0M355 575h0M356 575h0M359 575h0M360 575h0M361 575h0M363 575h0M364 575h0M365 575h0M367 575h0M368 575h0M370 575h0M372 575h0M373 575h0M374 575h0M376 575h0M379 575h0M381 575h0M384 575h0M387 575h0M388 575h0M389 575h0M391 575h0M392 575h0M393 575h0M394 575h0M395 575h0M398 575h0M399 575h0M400 575h0M402 575h0M403 575h0M404 575h0M412 575h0M416 575h0M333 576h0M334 576h0M335 576h0M336 576h0M337 576h0M339 576h0M340 576h0M341 576h0M343 576h0M346 576h0M347 576h0M349 576h0M350 576h0M351 576h0M352 576h0M353 576h0M355 576h0M357 576h0M358 576h0M359 576h0M360 576h0M363 576h0M366 576h0M367 576h0M369 576h0M370 576h0M373 576h0M374 576h0M377 576h0M378 576h0M379 576h0M380 576h0M382 576h0M383 576h0M385 576h0M386 576h0M387 576h0M389 576h0M390 576h0M392 576h0M394 576h0M395 576h0M396 576h0M397 576h0M399 576h0M402 576h0M406 576h0M409 576h0M411 576h0M333 577h0M334 577h0M340 577h0M341 577h0M343 577h0M345 577h0M346 577h0M348 577h0M349 577h0M350 577h0M351 577h0M352 577h0M353 577h0M354 577h0M355 577h0M356 577h0M357 577h0M358 577h0M359 577h0M360 577h0M364 577h0M366 577h0M367 577h0M368 577h0M369 577h0M370 577h0M371 577h0M372 577h0M374 577h0M375 577h0M376 577h0M377 577h0M378 577h0M380 577h0M382 577h0M383 577h0M384 577h0M385 577h0M386 577h0M387 577h0M388 577h0M390 577h0M392 577h0M393 577h0M394 577h0M395 577h0M396 577h0M399 577h0M402 577h0M405 577h0M407 577h0M412 577h0M418 577h0M419 577h0M334 578h0M336 578h0M337 578h0M338 578h0M340 578h0M341 578h0M343 578h0M344 578h0M348 578h0M349 578h0M350 578h0M351 578h0M352 578h0M353 578h0M354 578h0M356 578h0M358 578h0M360 578h0M361 578h0M362 578h0M364 578h0M365 578h0M366 578h0M367 578h0M368 578h0M371 578h0M372 578h0M373 578h0M375 578h0M378 578h0M379 578h0M381 578h0M384 578h0M385 578h0M387 578h0M388 578h0M389 578h0M390 578h0M391 578h0M393 578h0M394 578h0M395 578h0M397 578h0M398 578h0M400 578h0M402 578h0M405 578h0M409 578h0M417 578h0M333 579h0M337 579h0M338 579h0M339 579h0M340 579h0M341 579h0M342 579h0M343 579h0M346 579h0M347 579h0M348 579h0M349 579h0M350 579h0M351 579h0M352 579h0M353 579h0M354 579h0M355 579h0M356 579h0M358 579h0M361 579h0M362 579h0M364 579h0M367 579h0M368 579h0M369 579h0M371 579h0M372 579h0M373 579h0M374 579h0M375 579h0M376 579h0M377 579h0M378 579h0M379 579h0M380 579h0M382 579h0M383 579h0M384 579h0M385 579h0M386 579h0M387 579h0M388 579h0M389 579h0M391 579h0M392 579h0M393 579h0M394 579h0M395 579h0M399 579h0M400 579h0M408 579h0M335 580h0M337 580h0M338 580h0M339 580h0M340 580h0M341 580h0M342 580h0M343 580h0M346 580h0M348 580h0M349 580h0M350 580h0M351 580h0M353 580h0M355 580h0M356 580h0M358 580h0M359 580h0M362 580h0M364 580h0M365 580h0M367 580h0M368 580h0M372 580h0M373 580h0M374 580h0M375 580h0M378 580h0M379 580h0M381 580h0M382 580h0M383 580h0M384 580h0M385 580h0M386 580h0M387 580h0M388 580h0M389 580h0M390 580h0M391 580h0M392 580h0M394 580h0M398 580h0M399 580h0M400 580h0M405 580h0M408 580h0M413 580h0M480 580h0M333 581h0M335 581h0M336 581h0M338 581h0M339 581h0M340 581h0M344 581h0M345 581h0M347 581h0M349 581h0M350 581h0M351 581h0M352 581h0M353 581h0M354 581h0M355 581h0M356 581h0M358 581h0M359 581h0M361 581h0M362 581h0M364 581h0M365 581h0M366 581h0M367 581h0M368 581h0M369 581h0M370 581h0M371 581h0M372 581h0M373 581h0M374 581h0M375 581h0M378 581h0M379 581h0M382 581h0M383 581h0M384 581h0M385 581h0M386 581h0M388 581h0M389 581h0M395 581h0M396 581h0M397 581h0M399 581h0M400 581h0M401 581h0M402 581h0M404 581h0M409 581h0M412 581h0M416 581h0M333 582h0M334 582h0M335 582h0M336 582h0M337 582h0M338 582h0M339 582h0M340 582h0M342 582h0M343 582h0M347 582h0M349 582h0M351 582h0M352 582h0M353 582h0M354 582h0M355 582h0M356 582h0M358 582h0M359 582h0M360 582h0M361 582h0M362 582h0M363 582h0M364 582h0M365 582h0M366 582h0M367 582h0M368 582h0M369 582h0M370 582h0M371 582h0M373 582h0M374 582h0M376 582h0M378 582h0M379 582h0M380 582h0M381 582h0M382 582h0M383 582h0M384 582h0M385 582h0M386 582h0M387 582h0M390 582h0M391 582h0M392 582h0M394 582h0M395 582h0M396 582h0M398 582h0M402 582h0M403 582h0M405 582h0M410 582h0M494 582h0M333 583h0M337 583h0M338 583h0M340 583h0M341 583h0M343 583h0M344 583h0M349 583h0M350 583h0M351 583h0M352 583h0M353 583h0M356 583h0M357 583h0M358 583h0M360 583h0M362 583h0M363 583h0M364 583h0M365 583h0M367 583h0M369 583h0M370 583h0M372 583h0M373 583h0M374 583h0M375 583h0M377 583h0M378 583h0M380 583h0M381 583h0M382 583h0M383 583h0M384 583h0M385 583h0M386 583h0M387 583h0M388 583h0M389 583h0M392 583h0M395 583h0M396 583h0M397 583h0M398 583h0M400 583h0M402 583h0M407 583h0M410 583h0M333 584h0M334 584h0M338 584h0M341 584h0M343 584h0M345 584h0M347 584h0M348 584h0M349 584h0M350 584h0M352 584h0M353 584h0M355 584h0M356 584h0M357 584h0M358 584h0M360 584h0M361 584h0M363 584h0M364 584h0M365 584h0M366 584h0M367 584h0M368 584h0M369 584h0M370 584h0M373 584h0M374 584h0M375 584h0M377 584h0M378 584h0M379 584h0M380 584h0M381 584h0M382 584h0M384 584h0M385 584h0M386 584h0M387 584h0M389 584h0M390 584h0M393 584h0M394 584h0M395 584h0M396 584h0M400 584h0M404 584h0M406 584h0M452 584h0M334 585h0M335 585h0M336 585h0M337 585h0M338 585h0M340 585h0M341 585h0M342 585h0M345 585h0M346 585h0M347 585h0M348 585h0M349 585h0M350 585h0M352 585h0M353 585h0M356 585h0M358 585h0M359 585h0M361 585h0M363 585h0M365 585h0M366 585h0M367 585h0M368 585h0M370 585h0M371 585h0M372 585h0M375 585h0M376 585h0M377 585h0M378 585h0M380 585h0M381 585h0M382 585h0M383 585h0M386 585h0M387 585h0M390 585h0M391 585h0M392 585h0M394 585h0M395 585h0M396 585h0M398 585h0M403 585h0M404 585h0M405 585h0M424 585h0M339 586h0M340 586h0M354 587h0M360 588h0M375 588h0M384 588h0M386 588h0M394 588h0" stroke="#000" stroke-width="2" stroke-linecap="square"/>
<rect x="86" y="35" width="174" height="165" fill="none" stroke="#000" stroke-width="2"/>
<path d="M132 34V201M85 136H261" stroke="#000" stroke-width="2"/>
<path d="M83.7 38.50h1.3M83.7 44.95h1.3M83.7 51.40h1.3M83.7 57.85h1.3M83.7 64.30h1.3M83.7 70.75h1.3M83.7 77.20h1.3M83.7 83.65h1.3M83.7 90.10h1.3M83.7 96.55h1.3M83.7 103.00h1.3M83.7 109.45h1.3M83.7 115.90h1.3M83.7 122.35h1.3M83.7 128.80h1.3M83.7 135.25h1.3M83.7 141.70h1.3M83.7 148.15h1.3M83.7 154.60h1.3M83.7 161.05h1.3M83.7 167.50h1.3M83.7 173.95h1.3M83.7 180.40h1.3M83.7 186.85h1.3M83.7 193.30h1.3" stroke="#000" stroke-width="1.8"/>
<rect x="325" y="35" width="174" height="165" fill="none" stroke="#000" stroke-width="2"/>
<path d="M371 34V201M324 136H500" stroke="#000" stroke-width="2"/>
<path d="M322.7 38.50h1.3M322.7 44.95h1.3M322.7 51.40h1.3M322.7 57.85h1.3M322.7 64.30h1.3M322.7 70.75h1.3M322.7 77.20h1.3M322.7 83.65h1.3M322.7 90.10h1.3M322.7 96.55h1.3M322.7 103.00h1.3M322.7 109.45h1.3M322.7 115.90h1.3M322.7 122.35h1.3M322.7 128.80h1.3M322.7 135.25h1.3M322.7 141.70h1.3M322.7 148.15h1.3M322.7 154.60h1.3M322.7 161.05h1.3M322.7 167.50h1.3M322.7 173.95h1.3M322.7 180.40h1.3M322.7 186.85h1.3M322.7 193.30h1.3" stroke="#000" stroke-width="1.8"/>
<rect x="86" y="224" width="174" height="164" fill="none" stroke="#000" stroke-width="2"/>
<path d="M131 223V389M85 321H261" stroke="#000" stroke-width="2"/>
<path d="M83.7 227.50h1.3M83.7 233.95h1.3M83.7 240.40h1.3M83.7 246.85h1.3M83.7 253.30h1.3M83.7 259.75h1.3M83.7 266.20h1.3M83.7 272.65h1.3M83.7 279.10h1.3M83.7 285.55h1.3M83.7 292.00h1.3M83.7 298.45h1.3M83.7 304.90h1.3M83.7 311.35h1.3M83.7 317.80h1.3M83.7 324.25h1.3M83.7 330.70h1.3M83.7 337.15h1.3M83.7 343.60h1.3M83.7 350.05h1.3M83.7 356.50h1.3M83.7 362.95h1.3M83.7 369.40h1.3M83.7 375.85h1.3M83.7 382.30h1.3" stroke="#000" stroke-width="1.8"/>
<rect x="325" y="225" width="174" height="165" fill="none" stroke="#000" stroke-width="2"/>
<path d="M370 224V391M324 322H500" stroke="#000" stroke-width="2"/>
<path d="M322.7 228.50h1.3M322.7 234.95h1.3M322.7 241.40h1.3M322.7 247.85h1.3M322.7 254.30h1.3M322.7 260.75h1.3M322.7 267.20h1.3M322.7 273.65h1.3M322.7 280.10h1.3M322.7 286.55h1.3M322.7 293.00h1.3M322.7 299.45h1.3M322.7 305.90h1.3M322.7 312.35h1.3M322.7 318.80h1.3M322.7 325.25h1.3M322.7 331.70h1.3M322.7 338.15h1.3M322.7 344.60h1.3M322.7 351.05h1.3M322.7 357.50h1.3M322.7 363.95h1.3M322.7 370.40h1.3M322.7 376.85h1.3M322.7 383.30h1.3" stroke="#000" stroke-width="1.8"/>
<rect x="86" y="424" width="174" height="166" fill="none" stroke="#000" stroke-width="2"/>
<path d="M127 423V591M85 503H261" stroke="#000" stroke-width="2"/>
<path d="M83.7 427.50h1.3M83.7 433.95h1.3M83.7 440.40h1.3M83.7 446.85h1.3M83.7 453.30h1.3M83.7 459.75h1.3M83.7 466.20h1.3M83.7 472.65h1.3M83.7 479.10h1.3M83.7 485.55h1.3M83.7 492.00h1.3M83.7 498.45h1.3M83.7 504.90h1.3M83.7 511.35h1.3M83.7 517.80h1.3M83.7 524.25h1.3M83.7 530.70h1.3M83.7 537.15h1.3M83.7 543.60h1.3M83.7 550.05h1.3M83.7 556.50h1.3M83.7 562.95h1.3M83.7 569.40h1.3M83.7 575.85h1.3M83.7 582.30h1.3M83.7 588.75h1.3" stroke="#000" stroke-width="1.8"/>
<rect x="332" y="424" width="168" height="166" fill="none" stroke="#000" stroke-width="2"/>
<path d="M372 423V591M331 502H501" stroke="#000" stroke-width="2"/>
<path d="M329.7 427.50h1.3M329.7 433.95h1.3M329.7 440.40h1.3M329.7 446.85h1.3M329.7 453.30h1.3M329.7 459.75h1.3M329.7 466.20h1.3M329.7 472.65h1.3M329.7 479.10h1.3M329.7 485.55h1.3M329.7 492.00h1.3M329.7 498.45h1.3M329.7 504.90h1.3M329.7 511.35h1.3M329.7 517.80h1.3M329.7 524.25h1.3M329.7 530.70h1.3M329.7 537.15h1.3M329.7 543.60h1.3M329.7 550.05h1.3M329.7 556.50h1.3M329.7 562.95h1.3M329.7 569.40h1.3M329.7 575.85h1.3M329.7 582.30h1.3M329.7 588.75h1.3" stroke="#000" stroke-width="1.8"/>
<text transform="translate(75.7 163.4) rotate(-90)" font-size="20.5" font-family='"Liberation Serif", serif' text-anchor="start" font-weight="normal" stroke="#000" stroke-width="0.75">side scatter</text>
<text transform="translate(75.8 357.6) rotate(-90)" font-size="20.5" font-family='"Liberation Serif", serif' text-anchor="start" font-weight="normal" stroke="#000" stroke-width="0.75">side scatter</text>
<text transform="translate(75.5 555.8) rotate(-90)" font-size="20.5" font-family='"Liberation Serif", serif' text-anchor="start" font-weight="normal" stroke="#000" stroke-width="0.75">side scatter</text>
<text transform="translate(315 164.2) rotate(-90)" font-size="20.5" font-family='"Liberation Serif", serif' text-anchor="start" font-weight="normal" stroke="#000" stroke-width="0.75">side scatter</text>
<text transform="translate(315 357.6) rotate(-90)" font-size="20.5" font-family='"Liberation Serif", serif' text-anchor="start" font-weight="normal" stroke="#000" stroke-width="0.75">side scatter</text>
<text transform="translate(321 554.9) rotate(-90)" font-size="20.5" font-family='"Liberation Serif", serif' text-anchor="start" font-weight="normal" stroke="#000" stroke-width="0.75">side scatter</text>
<text transform="translate(132.6 219.1)" font-size="15" font-family='"Liberation Serif", serif' text-anchor="start" font-weight="normal" stroke="#000" stroke-width="0.25">R-cad Alexa488</text>
<text transform="translate(373.6 219.2)" font-size="15" font-family='"Liberation Serif", serif' text-anchor="start" font-weight="normal" stroke="#000" stroke-width="0.25">R-cad Alexa488</text>
<text transform="translate(134.2 410.5)" font-size="15" font-family='"Liberation Serif", serif' text-anchor="start" font-weight="normal" stroke="#000" stroke-width="0.25">R-cad Alexa488</text>
<text transform="translate(373 410.6)" font-size="15" font-family='"Liberation Serif", serif' text-anchor="start" font-weight="normal" stroke="#000" stroke-width="0.25">R-cad Alexa488</text>
<text transform="translate(135.5 614)" font-size="15" font-family='"Liberation Serif", serif' text-anchor="start" font-weight="normal" stroke="#000" stroke-width="0.25">R-cad Alexa488</text>
<text transform="translate(378.5 612.4)" font-size="15" font-family='"Liberation Serif", serif' text-anchor="start" font-weight="normal" stroke="#000" stroke-width="0.25">R-cad Alexa488</text>
<text transform="translate(90.7 50.8) scale(0.89 1.0)" font-size="15.8" font-family='"Liberation Sans", sans-serif' text-anchor="start" font-weight="normal" stroke="#000" stroke-width="0.5">0.09</text>
<text transform="translate(252.2 50.5) scale(0.89 1.0)" font-size="15.8" font-family='"Liberation Sans", sans-serif' text-anchor="end" font-weight="normal" stroke="#000" stroke-width="0.5">0.01</text>
<text transform="translate(253 192.20000000000002) scale(0.89 1.0)" font-size="15.8" font-family='"Liberation Sans", sans-serif' text-anchor="end" font-weight="normal" stroke="#000" stroke-width="0.5">10.80</text>
<text transform="translate(329.8 50.0) scale(0.89 1.0)" font-size="15.8" font-family='"Liberation Sans", sans-serif' text-anchor="start" font-weight="normal" stroke="#000" stroke-width="0.5">0.01</text>
<text transform="translate(491.9 50.0) scale(0.89 1.0)" font-size="15.8" font-family='"Liberation Sans", sans-serif' text-anchor="end" font-weight="normal" stroke="#000" stroke-width="0.5">0.06</text>
<text transform="translate(490.7 192.3) scale(0.89 1.0)" font-size="15.8" font-family='"Liberation Sans", sans-serif' text-anchor="end" font-weight="normal" stroke="#000" stroke-width="0.5">79.81</text>
<text transform="translate(90.8 239.0) scale(0.89 1.0)" font-size="15.8" font-family='"Liberation Sans", sans-serif' text-anchor="start" font-weight="normal" stroke="#000" stroke-width="0.5">0.24</text>
<text transform="translate(253 238.9) scale(0.89 1.0)" font-size="15.8" font-family='"Liberation Sans", sans-serif' text-anchor="end" font-weight="normal" stroke="#000" stroke-width="0.5">0.00</text>
<text transform="translate(253.4 385.09999999999997) scale(0.89 1.0)" font-size="15.8" font-family='"Liberation Sans", sans-serif' text-anchor="end" font-weight="normal" stroke="#000" stroke-width="0.5">1.5</text>
<text transform="translate(329.8 240.5) scale(0.89 1.0)" font-size="15.8" font-family='"Liberation Sans", sans-serif' text-anchor="start" font-weight="normal" stroke="#000" stroke-width="0.5">0.05</text>
<text transform="translate(492.5 246.6) scale(0.89 1.0)" font-size="15.8" font-family='"Liberation Sans", sans-serif' text-anchor="end" font-weight="normal" stroke="#000" stroke-width="0.5">0.13</text>
<text transform="translate(492.2 384.79999999999995) scale(0.89 1.0)" font-size="15.8" font-family='"Liberation Sans", sans-serif' text-anchor="end" font-weight="normal" stroke="#000" stroke-width="0.5">32.12</text>
<text transform="translate(90.8 441.9) scale(0.89 1.0)" font-size="15.8" font-family='"Liberation Sans", sans-serif' text-anchor="start" font-weight="normal" stroke="#000" stroke-width="0.5">0.01</text>
<text transform="translate(253 440.7) scale(0.89 1.0)" font-size="15.8" font-family='"Liberation Sans", sans-serif' text-anchor="end" font-weight="normal" stroke="#000" stroke-width="0.5">0.00</text>
<text transform="translate(253.4 582.0) scale(0.89 1.0)" font-size="15.8" font-family='"Liberation Sans", sans-serif' text-anchor="end" font-weight="normal" stroke="#000" stroke-width="0.5">1.14</text>
<text transform="translate(337.9 440.09999999999997) scale(0.89 1.0)" font-size="15.8" font-family='"Liberation Sans", sans-serif' text-anchor="start" font-weight="normal" stroke="#000" stroke-width="0.5">0.02</text>
<text transform="translate(492.4 440.7) scale(0.89 1.0)" font-size="15.8" font-family='"Liberation Sans", sans-serif' text-anchor="end" font-weight="normal" stroke="#000" stroke-width="0.5">0.00</text>
<text transform="translate(492.8 581.6999999999999) scale(0.89 1.0)" font-size="15.8" font-family='"Liberation Sans", sans-serif' text-anchor="end" font-weight="normal" stroke="#000" stroke-width="0.5">26.80</text>
<text x="82.2" y="208.39999999999998" font-size="9.5" font-family='"Liberation Sans", sans-serif' font-weight="bold" letter-spacing="-0.7" stroke="#000" stroke-width="0.35">10<tspan font-size="6" dy="-4">0</tspan></text>
<text x="126.0" y="208.39999999999998" font-size="9.5" font-family='"Liberation Sans", sans-serif' font-weight="bold" letter-spacing="-0.7" stroke="#000" stroke-width="0.35">10<tspan font-size="6" dy="-4">1</tspan></text>
<text x="169.7" y="208.39999999999998" font-size="9.5" font-family='"Liberation Sans", sans-serif' font-weight="bold" letter-spacing="-0.7" stroke="#000" stroke-width="0.35">10<tspan font-size="6" dy="-4">2</tspan></text>
<text x="213.4" y="208.39999999999998" font-size="9.5" font-family='"Liberation Sans", sans-serif' font-weight="bold" letter-spacing="-0.7" stroke="#000" stroke-width="0.35">10<tspan font-size="6" dy="-4">3</tspan></text>
<text x="257.2" y="208.39999999999998" font-size="9.5" font-family='"Liberation Sans", sans-serif' font-weight="bold" letter-spacing="-0.7" stroke="#000" stroke-width="0.35">10<tspan font-size="6" dy="-4">4</tspan></text>
<text x="321.2" y="208.39999999999998" font-size="9.5" font-family='"Liberation Sans", sans-serif' font-weight="bold" letter-spacing="-0.7" stroke="#000" stroke-width="0.35">10<tspan font-size="6" dy="-4">0</tspan></text>
<text x="364.9" y="208.39999999999998" font-size="9.5" font-family='"Liberation Sans", sans-serif' font-weight="bold" letter-spacing="-0.7" stroke="#000" stroke-width="0.35">10<tspan font-size="6" dy="-4">1</tspan></text>
<text x="408.7" y="208.39999999999998" font-size="9.5" font-family='"Liberation Sans", sans-serif' font-weight="bold" letter-spacing="-0.7" stroke="#000" stroke-width="0.35">10<tspan font-size="6" dy="-4">2</tspan></text>
<text x="452.4" y="208.39999999999998" font-size="9.5" font-family='"Liberation Sans", sans-serif' font-weight="bold" letter-spacing="-0.7" stroke="#000" stroke-width="0.35">10<tspan font-size="6" dy="-4">3</tspan></text>
<text x="496.2" y="208.39999999999998" font-size="9.5" font-family='"Liberation Sans", sans-serif' font-weight="bold" letter-spacing="-0.7" stroke="#000" stroke-width="0.35">10<tspan font-size="6" dy="-4">4</tspan></text>
<text x="82.0" y="396.7" font-size="9.5" font-family='"Liberation Sans", sans-serif' font-weight="bold" letter-spacing="-0.7" stroke="#000" stroke-width="0.35">10<tspan font-size="6" dy="-4">0</tspan></text>
<text x="125.8" y="396.7" font-size="9.5" font-family='"Liberation Sans", sans-serif' font-weight="bold" letter-spacing="-0.7" stroke="#000" stroke-width="0.35">10<tspan font-size="6" dy="-4">1</tspan></text>
<text x="169.5" y="396.7" font-size="9.5" font-family='"Liberation Sans", sans-serif' font-weight="bold" letter-spacing="-0.7" stroke="#000" stroke-width="0.35">10<tspan font-size="6" dy="-4">2</tspan></text>
<text x="213.2" y="396.7" font-size="9.5" font-family='"Liberation Sans", sans-serif' font-weight="bold" letter-spacing="-0.7" stroke="#000" stroke-width="0.35">10<tspan font-size="6" dy="-4">3</tspan></text>
<text x="257.0" y="396.7" font-size="9.5" font-family='"Liberation Sans", sans-serif' font-weight="bold" letter-spacing="-0.7" stroke="#000" stroke-width="0.35">10<tspan font-size="6" dy="-4">4</tspan></text>
<text x="321.3" y="397.7" font-size="9.5" font-family='"Liberation Sans", sans-serif' font-weight="bold" letter-spacing="-0.7" stroke="#000" stroke-width="0.35">10<tspan font-size="6" dy="-4">0</tspan></text>
<text x="365.1" y="397.7" font-size="9.5" font-family='"Liberation Sans", sans-serif' font-weight="bold" letter-spacing="-0.7" stroke="#000" stroke-width="0.35">10<tspan font-size="6" dy="-4">1</tspan></text>
<text x="408.8" y="397.7" font-size="9.5" font-family='"Liberation Sans", sans-serif' font-weight="bold" letter-spacing="-0.7" stroke="#000" stroke-width="0.35">10<tspan font-size="6" dy="-4">2</tspan></text>
<text x="452.6" y="397.7" font-size="9.5" font-family='"Liberation Sans", sans-serif' font-weight="bold" letter-spacing="-0.7" stroke="#000" stroke-width="0.35">10<tspan font-size="6" dy="-4">3</tspan></text>
<text x="496.3" y="397.7" font-size="9.5" font-family='"Liberation Sans", sans-serif' font-weight="bold" letter-spacing="-0.7" stroke="#000" stroke-width="0.35">10<tspan font-size="6" dy="-4">4</tspan></text>
<text x="82.0" y="598.4000000000001" font-size="9.5" font-family='"Liberation Sans", sans-serif' font-weight="bold" letter-spacing="-0.7" stroke="#000" stroke-width="0.35">10<tspan font-size="6" dy="-4">0</tspan></text>
<text x="125.8" y="598.4000000000001" font-size="9.5" font-family='"Liberation Sans", sans-serif' font-weight="bold" letter-spacing="-0.7" stroke="#000" stroke-width="0.35">10<tspan font-size="6" dy="-4">1</tspan></text>
<text x="169.5" y="598.4000000000001" font-size="9.5" font-family='"Liberation Sans", sans-serif' font-weight="bold" letter-spacing="-0.7" stroke="#000" stroke-width="0.35">10<tspan font-size="6" dy="-4">2</tspan></text>
<text x="213.2" y="598.4000000000001" font-size="9.5" font-family='"Liberation Sans", sans-serif' font-weight="bold" letter-spacing="-0.7" stroke="#000" stroke-width="0.35">10<tspan font-size="6" dy="-4">3</tspan></text>
<text x="257.0" y="598.4000000000001" font-size="9.5" font-family='"Liberation Sans", sans-serif' font-weight="bold" letter-spacing="-0.7" stroke="#000" stroke-width="0.35">10<tspan font-size="6" dy="-4">4</tspan></text>
<text x="327.8" y="598.4000000000001" font-size="9.5" font-family='"Liberation Sans", sans-serif' font-weight="bold" letter-spacing="-0.7" stroke="#000" stroke-width="0.35">10<tspan font-size="6" dy="-4">0</tspan></text>
<text x="370.1" y="598.4000000000001" font-size="9.5" font-family='"Liberation Sans", sans-serif' font-weight="bold" letter-spacing="-0.7" stroke="#000" stroke-width="0.35">10<tspan font-size="6" dy="-4">1</tspan></text>
<text x="412.3" y="598.4000000000001" font-size="9.5" font-family='"Liberation Sans", sans-serif' font-weight="bold" letter-spacing="-0.7" stroke="#000" stroke-width="0.35">10<tspan font-size="6" dy="-4">2</tspan></text>
<text x="454.6" y="598.4000000000001" font-size="9.5" font-family='"Liberation Sans", sans-serif' font-weight="bold" letter-spacing="-0.7" stroke="#000" stroke-width="0.35">10<tspan font-size="6" dy="-4">3</tspan></text>
<text x="496.8" y="598.4000000000001" font-size="9.5" font-family='"Liberation Sans", sans-serif' font-weight="bold" letter-spacing="-0.7" stroke="#000" stroke-width="0.35">10<tspan font-size="6" dy="-4">4</tspan></text>
<text transform="translate(82.3 201.3) rotate(-90)" font-size="8.5" font-family='"Liberation Sans", sans-serif' font-weight="bold" stroke="#000" stroke-width="0.4">0</text>
<text transform="translate(320.0 201.5) rotate(-90)" font-size="8.5" font-family='"Liberation Sans", sans-serif' font-weight="bold" stroke="#000" stroke-width="0.4">0</text>
<text transform="translate(82.0 390.5) rotate(-90)" font-size="8.5" font-family='"Liberation Sans", sans-serif' font-weight="bold" stroke="#000" stroke-width="0.4">0</text>
<text transform="translate(320.3 392) rotate(-90)" font-size="8.5" font-family='"Liberation Sans", sans-serif' font-weight="bold" stroke="#000" stroke-width="0.4">0</text>
<text transform="translate(82.2 592) rotate(-90)" font-size="8.5" font-family='"Liberation Sans", sans-serif' font-weight="bold" stroke="#000" stroke-width="0.4">0</text>
<text transform="translate(328.8 591.3) rotate(-90)" font-size="8.5" font-family='"Liberation Sans", sans-serif' font-weight="bold" stroke="#000" stroke-width="0.4">0</text>
<text transform="translate(82.7 49) rotate(-90) scale(0.68 1)" font-size="10.5" font-family='"Liberation Sans", sans-serif' font-weight="bold" stroke="#000" stroke-width="0.5">256</text>
<text transform="translate(321.7 49) rotate(-90) scale(0.68 1)" font-size="10.5" font-family='"Liberation Sans", sans-serif' font-weight="bold" stroke="#000" stroke-width="0.5">256</text>
<text transform="translate(82.7 238) rotate(-90) scale(0.68 1)" font-size="10.5" font-family='"Liberation Sans", sans-serif' font-weight="bold" stroke="#000" stroke-width="0.5">256</text>
<text transform="translate(321.7 239) rotate(-90) scale(0.68 1)" font-size="10.5" font-family='"Liberation Sans", sans-serif' font-weight="bold" stroke="#000" stroke-width="0.5">256</text>
<text transform="translate(82.7 438) rotate(-90) scale(0.68 1)" font-size="10.5" font-family='"Liberation Sans", sans-serif' font-weight="bold" stroke="#000" stroke-width="0.5">256</text>
<text transform="translate(328.7 438) rotate(-90) scale(0.68 1)" font-size="10.5" font-family='"Liberation Sans", sans-serif' font-weight="bold" stroke="#000" stroke-width="0.5">256</text>
<rect x="372" y="279" width="126" height="41" fill="#fafafa"/>
<rect x="373" y="465" width="126" height="36" fill="#fafafa"/>
<text transform="translate(373.8 117.2) scale(1.035 1.0)" font-size="23" font-family='"Liberation Serif", serif' text-anchor="start" font-weight="normal" stroke="#000" stroke-width="0.8">80% positive</text>
<text transform="translate(372.5 310.4) scale(1.03 1.0)" font-size="22.3" font-family='"Liberation Serif", serif' text-anchor="start" font-weight="normal" stroke="#000" stroke-width="0.15">30% positive</text>
<text transform="translate(372.5 491.2) scale(1.03 1.0)" font-size="22.3" font-family='"Liberation Serif", serif' text-anchor="start" font-weight="normal" stroke="#000" stroke-width="0.15">25% positive</text>
<text x="126.5" y="386.6" font-size="14" font-family='"Liberation Sans", sans-serif' text-anchor="end" fill="#000">28.26</text>
</svg>
</body></html>
